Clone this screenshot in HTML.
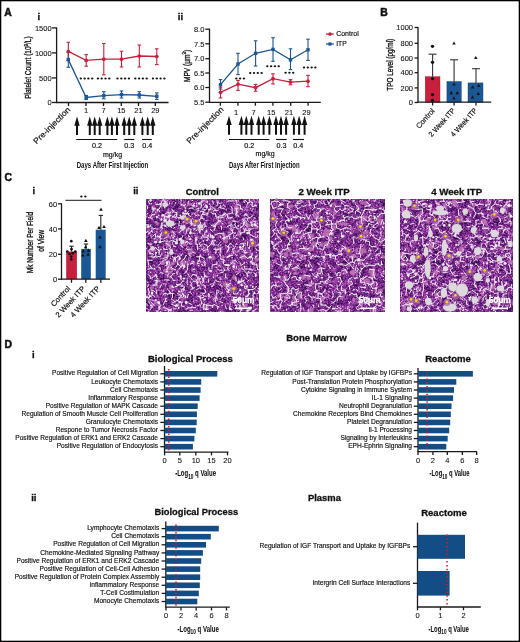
<!DOCTYPE html>
<html><head><meta charset="utf-8"><style>html,body{margin:0;padding:0;background:#fff;}svg{display:block;will-change:transform;}</style></head>
<body><svg width="520" height="642" viewBox="0 0 520 642" font-family='"Liberation Sans", sans-serif'>
<defs><filter id="soft" x="0" y="0" width="1" height="1"><feGaussianBlur stdDeviation="0.35"/></filter><filter id="hfa" x="0" y="0" width="1" height="1" color-interpolation-filters="sRGB">
<feTurbulence type="fractalNoise" baseFrequency="0.6" numOctaves="2" seed="3"/>
<feColorMatrix type="matrix" values="1 0 0 0 0  1 0 0 0 0  1 0 0 0 0  0 0 0 0 1" result="n"/>
<feTurbulence type="fractalNoise" baseFrequency="0.15" numOctaves="2" seed="5"/>
<feColorMatrix type="matrix" values="1 0 0 0 0  1 0 0 0 0  1 0 0 0 0  0 0 0 0 1" result="m"/>
<feComposite in="n" in2="m" operator="arithmetic" k1="0" k2="1.3" k3="0.8" k4="-0.55" result="s"/>
<feComponentTransfer in="s">
<feFuncR type="table" tableValues="0.157 0.212 0.275 0.345 0.416 0.494 0.573 0.651 0.745 0.839 0.941"/><feFuncG type="table" tableValues="0.024 0.039 0.063 0.094 0.133 0.180 0.235 0.314 0.439 0.635 0.886"/><feFuncB type="table" tableValues="0.251 0.314 0.376 0.439 0.502 0.565 0.620 0.682 0.761 0.871 0.957"/>
</feComponentTransfer>
</filter><filter id="hfb" x="0" y="0" width="1" height="1" color-interpolation-filters="sRGB">
<feTurbulence type="fractalNoise" baseFrequency="0.6" numOctaves="2" seed="7"/>
<feColorMatrix type="matrix" values="1 0 0 0 0  1 0 0 0 0  1 0 0 0 0  0 0 0 0 1" result="n"/>
<feTurbulence type="fractalNoise" baseFrequency="0.15" numOctaves="2" seed="9"/>
<feColorMatrix type="matrix" values="1 0 0 0 0  1 0 0 0 0  1 0 0 0 0  0 0 0 0 1" result="m"/>
<feComposite in="n" in2="m" operator="arithmetic" k1="0" k2="1.3" k3="0.8" k4="-0.55" result="s"/>
<feComponentTransfer in="s">
<feFuncR type="table" tableValues="0.157 0.212 0.275 0.345 0.416 0.494 0.573 0.651 0.745 0.839 0.941"/><feFuncG type="table" tableValues="0.024 0.039 0.063 0.094 0.133 0.180 0.235 0.314 0.439 0.635 0.886"/><feFuncB type="table" tableValues="0.251 0.314 0.376 0.439 0.502 0.565 0.620 0.682 0.761 0.871 0.957"/>
</feComponentTransfer>
</filter><filter id="hfc" x="0" y="0" width="1" height="1" color-interpolation-filters="sRGB">
<feTurbulence type="fractalNoise" baseFrequency="0.6" numOctaves="2" seed="11"/>
<feColorMatrix type="matrix" values="1 0 0 0 0  1 0 0 0 0  1 0 0 0 0  0 0 0 0 1" result="n"/>
<feTurbulence type="fractalNoise" baseFrequency="0.15" numOctaves="2" seed="13"/>
<feColorMatrix type="matrix" values="1 0 0 0 0  1 0 0 0 0  1 0 0 0 0  0 0 0 0 1" result="m"/>
<feComposite in="n" in2="m" operator="arithmetic" k1="0" k2="1.3" k3="0.8" k4="-0.55" result="s"/>
<feComponentTransfer in="s">
<feFuncR type="table" tableValues="0.157 0.212 0.275 0.345 0.416 0.494 0.573 0.651 0.745 0.839 0.941"/><feFuncG type="table" tableValues="0.024 0.039 0.063 0.094 0.133 0.180 0.235 0.314 0.439 0.635 0.886"/><feFuncB type="table" tableValues="0.251 0.314 0.376 0.439 0.502 0.565 0.620 0.682 0.761 0.871 0.957"/>
</feComponentTransfer>
</filter></defs>
<rect x="0" y="0" width="520" height="642" fill="#fff"/>
<text x="4.2" y="15.5" font-size="10.4" text-anchor="start" font-weight="bold" fill="#111" stroke="#111" stroke-width="0.5">A</text>
<text x="380.3" y="15.5" font-size="10.4" text-anchor="start" font-weight="bold" fill="#111" stroke="#111" stroke-width="0.5">B</text>
<text x="4.4" y="181.2" font-size="10.4" text-anchor="start" font-weight="bold" fill="#111" stroke="#111" stroke-width="0.5">C</text>
<text x="4.4" y="347.7" font-size="10.4" text-anchor="start" font-weight="bold" fill="#111" stroke="#111" stroke-width="0.5">D</text>
<text x="37.4" y="19.7" font-size="9.5" text-anchor="start" font-weight="bold" fill="#111" stroke="#111" stroke-width="0.3">i</text>
<line x1="56.6" y1="27.4" x2="56.6" y2="103.0" stroke="#1a1a1a" stroke-width="1.3"/>
<line x1="52" y1="27.9" x2="56.6" y2="27.9" stroke="#1a1a1a" stroke-width="1.3"/>
<text x="51.6" y="30.599999999999998" font-size="7.5" text-anchor="end" fill="#111" stroke="#111" stroke-width="0.08">1500</text>
<line x1="52" y1="52.9" x2="56.6" y2="52.9" stroke="#1a1a1a" stroke-width="1.3"/>
<text x="51.6" y="55.6" font-size="7.5" text-anchor="end" fill="#111" stroke="#111" stroke-width="0.08">1000</text>
<line x1="52" y1="77.9" x2="56.6" y2="77.9" stroke="#1a1a1a" stroke-width="1.3"/>
<text x="51.6" y="80.60000000000001" font-size="7.5" text-anchor="end" fill="#111" stroke="#111" stroke-width="0.08">500</text>
<line x1="52" y1="102.5" x2="56.6" y2="102.5" stroke="#1a1a1a" stroke-width="1.3"/>
<text x="51.6" y="105.2" font-size="7.5" text-anchor="end" fill="#111" stroke="#111" stroke-width="0.08">0</text>
<line x1="56.1" y1="102.5" x2="168.5" y2="102.5" stroke="#1a1a1a" stroke-width="1.3"/>
<line x1="68.5" y1="102.5" x2="68.5" y2="106" stroke="#1a1a1a" stroke-width="1.3"/>
<line x1="86" y1="102.5" x2="86" y2="106" stroke="#1a1a1a" stroke-width="1.3"/>
<line x1="103.5" y1="102.5" x2="103.5" y2="106" stroke="#1a1a1a" stroke-width="1.3"/>
<line x1="121.3" y1="102.5" x2="121.3" y2="106" stroke="#1a1a1a" stroke-width="1.3"/>
<line x1="138.5" y1="102.5" x2="138.5" y2="106" stroke="#1a1a1a" stroke-width="1.3"/>
<line x1="155.3" y1="102.5" x2="155.3" y2="106" stroke="#1a1a1a" stroke-width="1.3"/>
<text x="86" y="113.2" font-size="7.5" text-anchor="middle" fill="#111" stroke="#111" stroke-width="0.08">1</text>
<text x="103.5" y="113.2" font-size="7.5" text-anchor="middle" fill="#111" stroke="#111" stroke-width="0.08">7</text>
<text x="121.3" y="113.2" font-size="7.5" text-anchor="middle" fill="#111" stroke="#111" stroke-width="0.08">15</text>
<text x="138.5" y="113.2" font-size="7.5" text-anchor="middle" fill="#111" stroke="#111" stroke-width="0.08">21</text>
<text x="155.3" y="113.2" font-size="7.5" text-anchor="middle" fill="#111" stroke="#111" stroke-width="0.08">29</text>
<text x="71.0" y="110.2" font-size="8.2" text-anchor="end" fill="#111" stroke="#111" stroke-width="0.18" textLength="48.6" lengthAdjust="spacingAndGlyphs" transform="rotate(-45 71.0 110.2)">Pre-injection</text>
<text x="31.4" y="67.6" font-size="8.6" text-anchor="middle" fill="#111" stroke="#111" stroke-width="0.32" textLength="62.5" lengthAdjust="spacingAndGlyphs" transform="rotate(-90 31.4 67.6)">Platelet Count (10<tspan font-size="5.6" dy="-3.2">9</tspan><tspan dy="3.2">/L)</tspan></text>
<path d="M68.3 59.6 L86.2 97.5 L103.8 95.6 L121.5 94.6 L139.3 95 L156.8 96.3" fill="none" stroke="#1b5795" stroke-width="1.3"/>
<line x1="68.3" y1="52.5" x2="68.3" y2="67.3" stroke="#1b5795" stroke-width="1.1"/>
<line x1="66.5" y1="52.5" x2="70.1" y2="52.5" stroke="#1b5795" stroke-width="1.1"/>
<line x1="66.5" y1="67.3" x2="70.1" y2="67.3" stroke="#1b5795" stroke-width="1.1"/>
<line x1="86.2" y1="95.5" x2="86.2" y2="99.5" stroke="#1b5795" stroke-width="1.1"/>
<line x1="84.4" y1="95.5" x2="88.0" y2="95.5" stroke="#1b5795" stroke-width="1.1"/>
<line x1="84.4" y1="99.5" x2="88.0" y2="99.5" stroke="#1b5795" stroke-width="1.1"/>
<line x1="103.8" y1="91.7" x2="103.8" y2="98.8" stroke="#1b5795" stroke-width="1.1"/>
<line x1="102.0" y1="91.7" x2="105.6" y2="91.7" stroke="#1b5795" stroke-width="1.1"/>
<line x1="102.0" y1="98.8" x2="105.6" y2="98.8" stroke="#1b5795" stroke-width="1.1"/>
<line x1="121.5" y1="91" x2="121.5" y2="98" stroke="#1b5795" stroke-width="1.1"/>
<line x1="119.7" y1="91" x2="123.3" y2="91" stroke="#1b5795" stroke-width="1.1"/>
<line x1="119.7" y1="98" x2="123.3" y2="98" stroke="#1b5795" stroke-width="1.1"/>
<line x1="139.3" y1="91.7" x2="139.3" y2="98" stroke="#1b5795" stroke-width="1.1"/>
<line x1="137.5" y1="91.7" x2="141.10000000000002" y2="91.7" stroke="#1b5795" stroke-width="1.1"/>
<line x1="137.5" y1="98" x2="141.10000000000002" y2="98" stroke="#1b5795" stroke-width="1.1"/>
<line x1="156.8" y1="92.9" x2="156.8" y2="99.4" stroke="#1b5795" stroke-width="1.1"/>
<line x1="155.0" y1="92.9" x2="158.60000000000002" y2="92.9" stroke="#1b5795" stroke-width="1.1"/>
<line x1="155.0" y1="99.4" x2="158.60000000000002" y2="99.4" stroke="#1b5795" stroke-width="1.1"/>
<path d="M68.3 51.4 L86.2 60.4 L103.8 59.2 L121.5 59.2 L139.3 56 L156.8 56.5" fill="none" stroke="#c8203c" stroke-width="1.3"/>
<line x1="68.3" y1="42.3" x2="68.3" y2="60.5" stroke="#c8203c" stroke-width="1.1"/>
<line x1="66.5" y1="42.3" x2="70.1" y2="42.3" stroke="#c8203c" stroke-width="1.1"/>
<line x1="66.5" y1="60.5" x2="70.1" y2="60.5" stroke="#c8203c" stroke-width="1.1"/>
<line x1="86.2" y1="54.6" x2="86.2" y2="66.2" stroke="#c8203c" stroke-width="1.1"/>
<line x1="84.4" y1="54.6" x2="88.0" y2="54.6" stroke="#c8203c" stroke-width="1.1"/>
<line x1="84.4" y1="66.2" x2="88.0" y2="66.2" stroke="#c8203c" stroke-width="1.1"/>
<line x1="103.8" y1="43.5" x2="103.8" y2="74.8" stroke="#c8203c" stroke-width="1.1"/>
<line x1="102.0" y1="43.5" x2="105.6" y2="43.5" stroke="#c8203c" stroke-width="1.1"/>
<line x1="102.0" y1="74.8" x2="105.6" y2="74.8" stroke="#c8203c" stroke-width="1.1"/>
<line x1="121.5" y1="51.3" x2="121.5" y2="67" stroke="#c8203c" stroke-width="1.1"/>
<line x1="119.7" y1="51.3" x2="123.3" y2="51.3" stroke="#c8203c" stroke-width="1.1"/>
<line x1="119.7" y1="67" x2="123.3" y2="67" stroke="#c8203c" stroke-width="1.1"/>
<line x1="139.3" y1="45" x2="139.3" y2="67" stroke="#c8203c" stroke-width="1.1"/>
<line x1="137.5" y1="45" x2="141.10000000000002" y2="45" stroke="#c8203c" stroke-width="1.1"/>
<line x1="137.5" y1="67" x2="141.10000000000002" y2="67" stroke="#c8203c" stroke-width="1.1"/>
<line x1="156.8" y1="48.8" x2="156.8" y2="64.6" stroke="#c8203c" stroke-width="1.1"/>
<line x1="155.0" y1="48.8" x2="158.60000000000002" y2="48.8" stroke="#c8203c" stroke-width="1.1"/>
<line x1="155.0" y1="64.6" x2="158.60000000000002" y2="64.6" stroke="#c8203c" stroke-width="1.1"/>
<rect x="66.6" y="57.9" width="3.4" height="3.4" fill="#1b5795"/>
<rect x="84.5" y="95.8" width="3.4" height="3.4" fill="#1b5795"/>
<rect x="102.1" y="93.89999999999999" width="3.4" height="3.4" fill="#1b5795"/>
<rect x="119.8" y="92.89999999999999" width="3.4" height="3.4" fill="#1b5795"/>
<rect x="137.60000000000002" y="93.3" width="3.4" height="3.4" fill="#1b5795"/>
<rect x="155.10000000000002" y="94.6" width="3.4" height="3.4" fill="#1b5795"/>
<circle cx="68.3" cy="51.4" r="1.85" fill="#c8203c"/>
<circle cx="86.2" cy="60.4" r="1.85" fill="#c8203c"/>
<circle cx="103.8" cy="59.2" r="1.85" fill="#c8203c"/>
<circle cx="121.5" cy="59.2" r="1.85" fill="#c8203c"/>
<circle cx="139.3" cy="56" r="1.85" fill="#c8203c"/>
<circle cx="156.8" cy="56.5" r="1.85" fill="#c8203c"/>
<ellipse cx="80.80" cy="78.6" rx="1.2" ry="1.0" fill="#111"/>
<ellipse cx="84.60" cy="78.6" rx="1.2" ry="1.0" fill="#111"/>
<ellipse cx="88.40" cy="78.6" rx="1.2" ry="1.0" fill="#111"/>
<ellipse cx="92.20" cy="78.6" rx="1.2" ry="1.0" fill="#111"/>
<ellipse cx="97.90" cy="78.6" rx="1.2" ry="1.0" fill="#111"/>
<ellipse cx="101.70" cy="78.6" rx="1.2" ry="1.0" fill="#111"/>
<ellipse cx="105.50" cy="78.6" rx="1.2" ry="1.0" fill="#111"/>
<ellipse cx="109.30" cy="78.6" rx="1.2" ry="1.0" fill="#111"/>
<ellipse cx="117.50" cy="78.6" rx="1.2" ry="1.0" fill="#111"/>
<ellipse cx="121.30" cy="78.6" rx="1.2" ry="1.0" fill="#111"/>
<ellipse cx="125.10" cy="78.6" rx="1.2" ry="1.0" fill="#111"/>
<ellipse cx="128.90" cy="78.6" rx="1.2" ry="1.0" fill="#111"/>
<ellipse cx="135.30" cy="78.6" rx="1.2" ry="1.0" fill="#111"/>
<ellipse cx="139.10" cy="78.6" rx="1.2" ry="1.0" fill="#111"/>
<ellipse cx="142.90" cy="78.6" rx="1.2" ry="1.0" fill="#111"/>
<ellipse cx="146.70" cy="78.6" rx="1.2" ry="1.0" fill="#111"/>
<ellipse cx="153.00" cy="78.6" rx="1.2" ry="1.0" fill="#111"/>
<ellipse cx="156.80" cy="78.6" rx="1.2" ry="1.0" fill="#111"/>
<ellipse cx="160.60" cy="78.6" rx="1.2" ry="1.0" fill="#111"/>
<ellipse cx="164.40" cy="78.6" rx="1.2" ry="1.0" fill="#111"/>
<path d="M77 116.6L79.7 125.8L78 125.8L78 135L76 135L76 125.8L74.3 125.8Z" fill="#111"/>
<path d="M89.8 116.6L92.5 125.8L90.8 125.8L90.8 135L88.8 135L88.8 125.8L87.1 125.8Z" fill="#111"/>
<path d="M94.7 116.6L97.4 125.8L95.7 125.8L95.7 135L93.7 135L93.7 125.8L92.0 125.8Z" fill="#111"/>
<path d="M99.7 116.6L102.4 125.8L100.7 125.8L100.7 135L98.7 135L98.7 125.8L97.0 125.8Z" fill="#111"/>
<path d="M107.4 116.6L110.10000000000001 125.8L108.4 125.8L108.4 135L106.4 135L106.4 125.8L104.7 125.8Z" fill="#111"/>
<path d="M111.9 116.6L114.60000000000001 125.8L112.9 125.8L112.9 135L110.9 135L110.9 125.8L109.2 125.8Z" fill="#111"/>
<path d="M117 116.6L119.7 125.8L118 125.8L118 135L116 135L116 125.8L114.3 125.8Z" fill="#111"/>
<path d="M124.2 116.6L126.9 125.8L125.2 125.8L125.2 135L123.2 135L123.2 125.8L121.5 125.8Z" fill="#111"/>
<path d="M129.2 116.6L131.89999999999998 125.8L130.2 125.8L130.2 135L128.2 135L128.2 125.8L126.49999999999999 125.8Z" fill="#111"/>
<path d="M134.3 116.6L137.0 125.8L135.3 125.8L135.3 135L133.3 135L133.3 125.8L131.60000000000002 125.8Z" fill="#111"/>
<path d="M142.4 116.6L145.1 125.8L143.4 125.8L143.4 135L141.4 135L141.4 125.8L139.70000000000002 125.8Z" fill="#111"/>
<path d="M147.7 116.6L150.39999999999998 125.8L148.7 125.8L148.7 135L146.7 135L146.7 125.8L145.0 125.8Z" fill="#111"/>
<path d="M152.8 116.6L155.5 125.8L153.8 125.8L153.8 135L151.8 135L151.8 125.8L150.10000000000002 125.8Z" fill="#111"/>
<line x1="76.2" y1="139.5" x2="117.2" y2="139.5" stroke="#111" stroke-width="1.1"/>
<line x1="124.2" y1="139.5" x2="134.3" y2="139.5" stroke="#111" stroke-width="1.1"/>
<line x1="142" y1="139.5" x2="151.8" y2="139.5" stroke="#111" stroke-width="1.1"/>
<text x="97" y="147.9" font-size="7.2" text-anchor="middle" fill="#111" stroke="#111" stroke-width="0.18">0.2</text>
<text x="129.2" y="147.9" font-size="7.2" text-anchor="middle" fill="#111" stroke="#111" stroke-width="0.18">0.3</text>
<text x="147.2" y="147.9" font-size="7.2" text-anchor="middle" fill="#111" stroke="#111" stroke-width="0.18">0.4</text>
<text x="112.5" y="156.6" font-size="7" text-anchor="middle" fill="#111" stroke="#111" stroke-width="0.18">mg/kg</text>
<text x="76.7" y="168.2" font-size="8.6" text-anchor="start" font-weight="bold" fill="#111" stroke="#111" stroke-width="0" textLength="71.6" lengthAdjust="spacingAndGlyphs">Days After First Injection</text>
<text x="177.8" y="19.7" font-size="9.5" text-anchor="start" font-weight="bold" fill="#111" stroke="#111" stroke-width="0.3">ii</text>
<line x1="209.5" y1="28.7" x2="209.5" y2="102.9" stroke="#1a1a1a" stroke-width="1.3"/>
<line x1="205.3" y1="29.2" x2="209.5" y2="29.2" stroke="#1a1a1a" stroke-width="1.3"/>
<text x="204.4" y="31.9" font-size="7.5" text-anchor="end" fill="#111" stroke="#111" stroke-width="0.08">8.0</text>
<line x1="205.3" y1="43.8" x2="209.5" y2="43.8" stroke="#1a1a1a" stroke-width="1.3"/>
<text x="204.4" y="46.5" font-size="7.5" text-anchor="end" fill="#111" stroke="#111" stroke-width="0.08">7.5</text>
<line x1="205.3" y1="58.7" x2="209.5" y2="58.7" stroke="#1a1a1a" stroke-width="1.3"/>
<text x="204.4" y="61.400000000000006" font-size="7.5" text-anchor="end" fill="#111" stroke="#111" stroke-width="0.08">7.0</text>
<line x1="205.3" y1="73" x2="209.5" y2="73" stroke="#1a1a1a" stroke-width="1.3"/>
<text x="204.4" y="75.7" font-size="7.5" text-anchor="end" fill="#111" stroke="#111" stroke-width="0.08">6.5</text>
<line x1="205.3" y1="87.5" x2="209.5" y2="87.5" stroke="#1a1a1a" stroke-width="1.3"/>
<text x="204.4" y="90.2" font-size="7.5" text-anchor="end" fill="#111" stroke="#111" stroke-width="0.08">6.0</text>
<line x1="205.3" y1="102.2" x2="209.5" y2="102.2" stroke="#1a1a1a" stroke-width="1.3"/>
<text x="204.4" y="104.9" font-size="7.5" text-anchor="end" fill="#111" stroke="#111" stroke-width="0.08">5.5</text>
<line x1="209.0" y1="102.4" x2="320.8" y2="102.4" stroke="#1a1a1a" stroke-width="1.3"/>
<line x1="220.3" y1="102.4" x2="220.3" y2="105.7" stroke="#1a1a1a" stroke-width="1.3"/>
<line x1="237.9" y1="102.4" x2="237.9" y2="105.7" stroke="#1a1a1a" stroke-width="1.3"/>
<line x1="255.4" y1="102.4" x2="255.4" y2="105.7" stroke="#1a1a1a" stroke-width="1.3"/>
<line x1="272.9" y1="102.4" x2="272.9" y2="105.7" stroke="#1a1a1a" stroke-width="1.3"/>
<line x1="290.7" y1="102.4" x2="290.7" y2="105.7" stroke="#1a1a1a" stroke-width="1.3"/>
<line x1="308.1" y1="102.4" x2="308.1" y2="105.7" stroke="#1a1a1a" stroke-width="1.3"/>
<text x="236.20000000000002" y="114.5" font-size="7.5" text-anchor="middle" fill="#111" stroke="#111" stroke-width="0.08">1</text>
<text x="253.70000000000002" y="114.5" font-size="7.5" text-anchor="middle" fill="#111" stroke="#111" stroke-width="0.08">7</text>
<text x="271.2" y="114.5" font-size="7.5" text-anchor="middle" fill="#111" stroke="#111" stroke-width="0.08">15</text>
<text x="289.0" y="114.5" font-size="7.5" text-anchor="middle" fill="#111" stroke="#111" stroke-width="0.08">21</text>
<text x="306.40000000000003" y="114.5" font-size="7.5" text-anchor="middle" fill="#111" stroke="#111" stroke-width="0.08">29</text>
<text x="224.2" y="110.0" font-size="8.2" text-anchor="end" fill="#111" stroke="#111" stroke-width="0.18" textLength="48.6" lengthAdjust="spacingAndGlyphs" transform="rotate(-45 224.2 110.0)">Pre-injection</text>
<text x="189.8" y="66" font-size="8.6" text-anchor="middle" fill="#111" stroke="#111" stroke-width="0.32" textLength="32.2" lengthAdjust="spacingAndGlyphs" transform="rotate(-90 189.8 66)">MPV (μm<tspan font-size="5.6" dy="-3.4">3</tspan><tspan dy="3.4">)</tspan></text>
<path d="M220.5 84.7 L238 64 L255.6 53.3 L273 49.4 L290.5 59.8 L308 49.8" fill="none" stroke="#1b5795" stroke-width="1.3"/>
<line x1="220.5" y1="79.6" x2="220.5" y2="89" stroke="#1b5795" stroke-width="1.1"/>
<line x1="218.7" y1="79.6" x2="222.3" y2="79.6" stroke="#1b5795" stroke-width="1.1"/>
<line x1="218.7" y1="89" x2="222.3" y2="89" stroke="#1b5795" stroke-width="1.1"/>
<line x1="238" y1="53.3" x2="238" y2="74.6" stroke="#1b5795" stroke-width="1.1"/>
<line x1="236.2" y1="53.3" x2="239.8" y2="53.3" stroke="#1b5795" stroke-width="1.1"/>
<line x1="236.2" y1="74.6" x2="239.8" y2="74.6" stroke="#1b5795" stroke-width="1.1"/>
<line x1="255.6" y1="40.8" x2="255.6" y2="66" stroke="#1b5795" stroke-width="1.1"/>
<line x1="253.79999999999998" y1="40.8" x2="257.4" y2="40.8" stroke="#1b5795" stroke-width="1.1"/>
<line x1="253.79999999999998" y1="66" x2="257.4" y2="66" stroke="#1b5795" stroke-width="1.1"/>
<line x1="273" y1="37.7" x2="273" y2="61.3" stroke="#1b5795" stroke-width="1.1"/>
<line x1="271.2" y1="37.7" x2="274.8" y2="37.7" stroke="#1b5795" stroke-width="1.1"/>
<line x1="271.2" y1="61.3" x2="274.8" y2="61.3" stroke="#1b5795" stroke-width="1.1"/>
<line x1="290.5" y1="48.8" x2="290.5" y2="69.6" stroke="#1b5795" stroke-width="1.1"/>
<line x1="288.7" y1="48.8" x2="292.3" y2="48.8" stroke="#1b5795" stroke-width="1.1"/>
<line x1="288.7" y1="69.6" x2="292.3" y2="69.6" stroke="#1b5795" stroke-width="1.1"/>
<line x1="308" y1="39.2" x2="308" y2="60.4" stroke="#1b5795" stroke-width="1.1"/>
<line x1="306.2" y1="39.2" x2="309.8" y2="39.2" stroke="#1b5795" stroke-width="1.1"/>
<line x1="306.2" y1="60.4" x2="309.8" y2="60.4" stroke="#1b5795" stroke-width="1.1"/>
<path d="M220.5 92.3 L238 84.2 L255.6 87.7 L273 78.7 L290.5 82.1 L308 81.2" fill="none" stroke="#c8203c" stroke-width="1.3"/>
<line x1="220.5" y1="87.2" x2="220.5" y2="98" stroke="#c8203c" stroke-width="1.1"/>
<line x1="218.7" y1="87.2" x2="222.3" y2="87.2" stroke="#c8203c" stroke-width="1.1"/>
<line x1="218.7" y1="98" x2="222.3" y2="98" stroke="#c8203c" stroke-width="1.1"/>
<line x1="238" y1="80.4" x2="238" y2="90.4" stroke="#c8203c" stroke-width="1.1"/>
<line x1="236.2" y1="80.4" x2="239.8" y2="80.4" stroke="#c8203c" stroke-width="1.1"/>
<line x1="236.2" y1="90.4" x2="239.8" y2="90.4" stroke="#c8203c" stroke-width="1.1"/>
<line x1="255.6" y1="84.4" x2="255.6" y2="91.2" stroke="#c8203c" stroke-width="1.1"/>
<line x1="253.79999999999998" y1="84.4" x2="257.4" y2="84.4" stroke="#c8203c" stroke-width="1.1"/>
<line x1="253.79999999999998" y1="91.2" x2="257.4" y2="91.2" stroke="#c8203c" stroke-width="1.1"/>
<line x1="273" y1="73.8" x2="273" y2="84" stroke="#c8203c" stroke-width="1.1"/>
<line x1="271.2" y1="73.8" x2="274.8" y2="73.8" stroke="#c8203c" stroke-width="1.1"/>
<line x1="271.2" y1="84" x2="274.8" y2="84" stroke="#c8203c" stroke-width="1.1"/>
<line x1="290.5" y1="79.6" x2="290.5" y2="84.8" stroke="#c8203c" stroke-width="1.1"/>
<line x1="288.7" y1="79.6" x2="292.3" y2="79.6" stroke="#c8203c" stroke-width="1.1"/>
<line x1="288.7" y1="84.8" x2="292.3" y2="84.8" stroke="#c8203c" stroke-width="1.1"/>
<line x1="308" y1="75.4" x2="308" y2="86.7" stroke="#c8203c" stroke-width="1.1"/>
<line x1="306.2" y1="75.4" x2="309.8" y2="75.4" stroke="#c8203c" stroke-width="1.1"/>
<line x1="306.2" y1="86.7" x2="309.8" y2="86.7" stroke="#c8203c" stroke-width="1.1"/>
<rect x="218.8" y="83.0" width="3.4" height="3.4" fill="#1b5795"/>
<rect x="236.3" y="62.3" width="3.4" height="3.4" fill="#1b5795"/>
<rect x="253.9" y="51.599999999999994" width="3.4" height="3.4" fill="#1b5795"/>
<rect x="271.3" y="47.699999999999996" width="3.4" height="3.4" fill="#1b5795"/>
<rect x="288.8" y="58.099999999999994" width="3.4" height="3.4" fill="#1b5795"/>
<rect x="306.3" y="48.099999999999994" width="3.4" height="3.4" fill="#1b5795"/>
<circle cx="220.5" cy="92.3" r="1.85" fill="#c8203c"/>
<circle cx="238" cy="84.2" r="1.85" fill="#c8203c"/>
<circle cx="255.6" cy="87.7" r="1.85" fill="#c8203c"/>
<circle cx="273" cy="78.7" r="1.85" fill="#c8203c"/>
<circle cx="290.5" cy="82.1" r="1.85" fill="#c8203c"/>
<circle cx="308" cy="81.2" r="1.85" fill="#c8203c"/>
<ellipse cx="236.30" cy="78.4" rx="1.2" ry="1.0" fill="#111"/>
<ellipse cx="240.10" cy="78.4" rx="1.2" ry="1.0" fill="#111"/>
<ellipse cx="243.90" cy="78.4" rx="1.2" ry="1.0" fill="#111"/>
<ellipse cx="250.20" cy="73" rx="1.2" ry="1.0" fill="#111"/>
<ellipse cx="254.00" cy="73" rx="1.2" ry="1.0" fill="#111"/>
<ellipse cx="257.80" cy="73" rx="1.2" ry="1.0" fill="#111"/>
<ellipse cx="261.60" cy="73" rx="1.2" ry="1.0" fill="#111"/>
<ellipse cx="267.30" cy="66.3" rx="1.2" ry="1.0" fill="#111"/>
<ellipse cx="271.10" cy="66.3" rx="1.2" ry="1.0" fill="#111"/>
<ellipse cx="274.90" cy="66.3" rx="1.2" ry="1.0" fill="#111"/>
<ellipse cx="278.70" cy="66.3" rx="1.2" ry="1.0" fill="#111"/>
<ellipse cx="285.60" cy="72.8" rx="1.2" ry="1.0" fill="#111"/>
<ellipse cx="289.40" cy="72.8" rx="1.2" ry="1.0" fill="#111"/>
<ellipse cx="293.20" cy="72.8" rx="1.2" ry="1.0" fill="#111"/>
<ellipse cx="304.00" cy="67.6" rx="1.2" ry="1.0" fill="#111"/>
<ellipse cx="307.80" cy="67.6" rx="1.2" ry="1.0" fill="#111"/>
<ellipse cx="311.60" cy="67.6" rx="1.2" ry="1.0" fill="#111"/>
<ellipse cx="315.40" cy="67.6" rx="1.2" ry="1.0" fill="#111"/>
<path d="M229 115.8L231.7 125L230 125L230 134.8L228 134.8L228 125L226.3 125Z" fill="#111"/>
<path d="M241.4 115.8L244.1 125L242.4 125L242.4 134.8L240.4 134.8L240.4 125L238.70000000000002 125Z" fill="#111"/>
<path d="M246.3 115.8L249.0 125L247.3 125L247.3 134.8L245.3 134.8L245.3 125L243.60000000000002 125Z" fill="#111"/>
<path d="M251.5 115.8L254.2 125L252.5 125L252.5 134.8L250.5 134.8L250.5 125L248.8 125Z" fill="#111"/>
<path d="M258.7 115.8L261.4 125L259.7 125L259.7 134.8L257.7 134.8L257.7 125L256.0 125Z" fill="#111"/>
<path d="M263.6 115.8L266.3 125L264.6 125L264.6 134.8L262.6 134.8L262.6 125L260.90000000000003 125Z" fill="#111"/>
<path d="M269.4 115.8L272.09999999999997 125L270.4 125L270.4 134.8L268.4 134.8L268.4 125L266.7 125Z" fill="#111"/>
<path d="M276 115.8L278.7 125L277 125L277 134.8L275 134.8L275 125L273.3 125Z" fill="#111"/>
<path d="M281 115.8L283.7 125L282 125L282 134.8L280 134.8L280 125L278.3 125Z" fill="#111"/>
<path d="M286.1 115.8L288.8 125L287.1 125L287.1 134.8L285.1 134.8L285.1 125L283.40000000000003 125Z" fill="#111"/>
<path d="M293.9 115.8L296.59999999999997 125L294.9 125L294.9 134.8L292.9 134.8L292.9 125L291.2 125Z" fill="#111"/>
<path d="M299.1 115.8L301.8 125L300.1 125L300.1 134.8L298.1 134.8L298.1 125L296.40000000000003 125Z" fill="#111"/>
<path d="M304.6 115.8L307.3 125L305.6 125L305.6 134.8L303.6 134.8L303.6 125L301.90000000000003 125Z" fill="#111"/>
<line x1="229" y1="139.5" x2="269.4" y2="139.5" stroke="#111" stroke-width="1.1"/>
<line x1="276" y1="139.5" x2="286.7" y2="139.5" stroke="#111" stroke-width="1.1"/>
<line x1="293" y1="139.5" x2="304" y2="139.5" stroke="#111" stroke-width="1.1"/>
<text x="249.2" y="147.7" font-size="7.2" text-anchor="middle" fill="#111" stroke="#111" stroke-width="0.18">0.2</text>
<text x="281.5" y="147.7" font-size="7.2" text-anchor="middle" fill="#111" stroke="#111" stroke-width="0.18">0.3</text>
<text x="298.3" y="147.7" font-size="7.2" text-anchor="middle" fill="#111" stroke="#111" stroke-width="0.18">0.4</text>
<text x="265.1" y="156.1" font-size="7" text-anchor="middle" fill="#111" stroke="#111" stroke-width="0.18">mg/kg</text>
<text x="229" y="168.2" font-size="8.6" text-anchor="start" font-weight="bold" fill="#111" stroke="#111" stroke-width="0" textLength="70.7" lengthAdjust="spacingAndGlyphs">Days After First Injection</text>
<line x1="326" y1="34.1" x2="333.8" y2="34.1" stroke="#c8203c" stroke-width="1.3"/>
<circle cx="330" cy="34.1" r="1.8" fill="#c8203c"/>
<line x1="326" y1="44" x2="333.8" y2="44" stroke="#1b5795" stroke-width="1.3"/>
<rect x="328.4" y="42.4" width="3.2" height="3.2" fill="#1b5795"/>
<text x="336.2" y="36.0" font-size="7.4" text-anchor="start" fill="#111" stroke="#111" stroke-width="0.18" textLength="22.5" lengthAdjust="spacingAndGlyphs">Control</text>
<text x="336.2" y="45.9" font-size="7.4" text-anchor="start" fill="#111" stroke="#111" stroke-width="0.18" textLength="10.4" lengthAdjust="spacingAndGlyphs">ITP</text>
<line x1="418.0" y1="27" x2="418.0" y2="102.7" stroke="#1a1a1a" stroke-width="1.3"/>
<line x1="414.6" y1="27.5" x2="418.0" y2="27.5" stroke="#1a1a1a" stroke-width="1.3"/>
<text x="413.0" y="30.2" font-size="7.5" text-anchor="end" fill="#111" stroke="#111" stroke-width="0.08">1000</text>
<line x1="414.6" y1="43.3" x2="418.0" y2="43.3" stroke="#1a1a1a" stroke-width="1.3"/>
<text x="413.0" y="46.0" font-size="7.5" text-anchor="end" fill="#111" stroke="#111" stroke-width="0.08">800</text>
<line x1="414.6" y1="58" x2="418.0" y2="58" stroke="#1a1a1a" stroke-width="1.3"/>
<text x="413.0" y="60.7" font-size="7.5" text-anchor="end" fill="#111" stroke="#111" stroke-width="0.08">600</text>
<line x1="414.6" y1="72.7" x2="418.0" y2="72.7" stroke="#1a1a1a" stroke-width="1.3"/>
<text x="413.0" y="75.4" font-size="7.5" text-anchor="end" fill="#111" stroke="#111" stroke-width="0.08">400</text>
<line x1="414.6" y1="87.9" x2="418.0" y2="87.9" stroke="#1a1a1a" stroke-width="1.3"/>
<text x="413.0" y="90.60000000000001" font-size="7.5" text-anchor="end" fill="#111" stroke="#111" stroke-width="0.08">200</text>
<line x1="414.6" y1="102.5" x2="418.0" y2="102.5" stroke="#1a1a1a" stroke-width="1.3"/>
<text x="413.0" y="105.2" font-size="7.5" text-anchor="end" fill="#111" stroke="#111" stroke-width="0.08">0</text>
<text x="393.3" y="64.7" font-size="8.6" text-anchor="middle" fill="#111" stroke="#111" stroke-width="0.32" textLength="51.9" lengthAdjust="spacingAndGlyphs" transform="rotate(-90 393.3 64.7)">TPO Level (pg/ml)</text>
<rect x="425.2" y="76.7" width="14.8" height="25.5" fill="#c8203c" stroke="#a0182e" stroke-width="0.4"/>
<rect x="446.9" y="81.5" width="14.4" height="20.700000000000003" fill="#1b5795" stroke="#123f70" stroke-width="0.4"/>
<rect x="468" y="82.9" width="15" height="19.299999999999997" fill="#1b5795" stroke="#123f70" stroke-width="0.4"/>
<line x1="432.6" y1="54.2" x2="432.6" y2="76.7" stroke="#333" stroke-width="1.1"/>
<line x1="428.6" y1="54.2" x2="436.6" y2="54.2" stroke="#333" stroke-width="1.1"/>
<line x1="454.1" y1="59.8" x2="454.1" y2="81.5" stroke="#333" stroke-width="1.1"/>
<line x1="450.1" y1="59.8" x2="458.1" y2="59.8" stroke="#333" stroke-width="1.1"/>
<line x1="476" y1="68.7" x2="476" y2="82.9" stroke="#333" stroke-width="1.1"/>
<line x1="472" y1="68.7" x2="480" y2="68.7" stroke="#333" stroke-width="1.1"/>
<circle cx="432.5" cy="46.3" r="1.65" fill="#111"/>
<circle cx="432.5" cy="62.3" r="1.65" fill="#111"/>
<circle cx="432.5" cy="78.7" r="1.65" fill="#111"/>
<circle cx="432.5" cy="94.7" r="1.65" fill="#111"/>
<circle cx="432.5" cy="100.5" r="1.65" fill="#111"/>
<path d="M454.00 41.42L455.75 44.58L452.25 44.58Z" fill="#111"/>
<path d="M454.00 82.22L455.75 85.38L452.25 85.38Z" fill="#111"/>
<path d="M451.30 91.12L453.05 94.28L449.55 94.28Z" fill="#111"/>
<path d="M457.30 91.12L459.05 94.28L455.55 94.28Z" fill="#111"/>
<path d="M454.00 96.33L455.75 99.48L452.25 99.48Z" fill="#111"/>
<path d="M475.80 55.92L477.55 59.08L474.05 59.08Z" fill="#111"/>
<path d="M472.70 85.33L474.45 88.48L470.95 88.48Z" fill="#111"/>
<path d="M478.70 83.83L480.45 86.98L476.95 86.98Z" fill="#111"/>
<path d="M478.30 91.92L480.05 95.08L476.55 95.08Z" fill="#111"/>
<path d="M472.50 95.33L474.25 98.48L470.75 98.48Z" fill="#111"/>
<line x1="417.5" y1="102.2" x2="491.2" y2="102.2" stroke="#1a1a1a" stroke-width="1.3"/>
<line x1="432.6" y1="102.2" x2="432.6" y2="105.5" stroke="#1a1a1a" stroke-width="1.3"/>
<line x1="454.1" y1="102.2" x2="454.1" y2="105.5" stroke="#1a1a1a" stroke-width="1.3"/>
<line x1="476" y1="102.2" x2="476" y2="105.5" stroke="#1a1a1a" stroke-width="1.3"/>
<text x="435.2" y="111.2" font-size="7.4" text-anchor="end" fill="#111" stroke="#111" stroke-width="0.18" transform="rotate(-48 435.2 111.2)">Control</text>
<text x="455.6" y="110.8" font-size="7.4" text-anchor="end" fill="#111" stroke="#111" stroke-width="0.18" textLength="35.5" lengthAdjust="spacingAndGlyphs" transform="rotate(-48 455.6 110.8)">2 Week ITP</text>
<text x="477.6" y="110.8" font-size="7.4" text-anchor="end" fill="#111" stroke="#111" stroke-width="0.18" textLength="35.5" lengthAdjust="spacingAndGlyphs" transform="rotate(-48 477.6 110.8)">4 Week ITP</text>
<text x="32.6" y="193.9" font-size="9.5" text-anchor="start" font-weight="bold" fill="#111" stroke="#111" stroke-width="0.3">i</text>
<line x1="61.5" y1="203.3" x2="61.5" y2="279.7" stroke="#1a1a1a" stroke-width="1.3"/>
<line x1="58" y1="203.8" x2="61.5" y2="203.8" stroke="#1a1a1a" stroke-width="1.3"/>
<text x="57.2" y="206.5" font-size="7.5" text-anchor="end" fill="#111" stroke="#111" stroke-width="0.08">60</text>
<line x1="58" y1="228.9" x2="61.5" y2="228.9" stroke="#1a1a1a" stroke-width="1.3"/>
<text x="57.2" y="231.6" font-size="7.5" text-anchor="end" fill="#111" stroke="#111" stroke-width="0.08">40</text>
<line x1="58" y1="254.3" x2="61.5" y2="254.3" stroke="#1a1a1a" stroke-width="1.3"/>
<text x="57.2" y="257.0" font-size="7.5" text-anchor="end" fill="#111" stroke="#111" stroke-width="0.08">20</text>
<line x1="58" y1="279.2" x2="61.5" y2="279.2" stroke="#1a1a1a" stroke-width="1.3"/>
<text x="57.2" y="281.9" font-size="7.5" text-anchor="end" fill="#111" stroke="#111" stroke-width="0.08">0</text>
<text x="33.3" y="242.5" font-size="8.6" text-anchor="middle" fill="#111" stroke="#111" stroke-width="0.32" textLength="61.4" lengthAdjust="spacingAndGlyphs" transform="rotate(-90 33.3 242.5)">Mk Number Per Field</text>
<text x="44.5" y="240.8" font-size="8.6" text-anchor="middle" fill="#111" stroke="#111" stroke-width="0.32" textLength="21.8" lengthAdjust="spacingAndGlyphs" transform="rotate(-90 44.5 240.8)">of View</text>
<rect x="66.2" y="251.5" width="10.7" height="27.69999999999999" fill="#c8203c"/>
<rect x="81.2" y="248.9" width="9.6" height="30.299999999999983" fill="#1b5795"/>
<rect x="95.7" y="229.7" width="10" height="49.5" fill="#1b5795"/>
<line x1="71.5" y1="246.2" x2="71.5" y2="251.5" stroke="#222" stroke-width="1.1"/>
<line x1="69.3" y1="246.2" x2="73.7" y2="246.2" stroke="#222" stroke-width="1.1"/>
<line x1="86" y1="244" x2="86" y2="248.9" stroke="#222" stroke-width="1.1"/>
<line x1="83.8" y1="244" x2="88.2" y2="244" stroke="#222" stroke-width="1.1"/>
<line x1="100.8" y1="215.4" x2="100.8" y2="229.7" stroke="#222" stroke-width="1.1"/>
<line x1="98.6" y1="215.4" x2="103.0" y2="215.4" stroke="#222" stroke-width="1.1"/>
<circle cx="71.3" cy="241.2" r="1.35" fill="#111"/>
<circle cx="67.3" cy="251.6" r="1.35" fill="#111"/>
<circle cx="75.3" cy="251.6" r="1.35" fill="#111"/>
<circle cx="71.5" cy="249.2" r="1.35" fill="#111"/>
<circle cx="69.6" cy="254.0" r="1.35" fill="#111"/>
<circle cx="72.8" cy="253.2" r="1.35" fill="#111"/>
<circle cx="71.2" cy="256.6" r="1.35" fill="#111"/>
<circle cx="71.3" cy="259.4" r="1.35" fill="#111"/>
<path d="M85.90 238.68L87.70 241.92L84.10 241.92Z" fill="#111"/>
<path d="M85.60 244.98L87.40 248.22L83.80 248.22Z" fill="#111"/>
<path d="M83.20 249.28L85.00 252.52L81.40 252.52Z" fill="#111"/>
<path d="M88.50 248.58L90.30 251.82L86.70 251.82Z" fill="#111"/>
<path d="M82.80 253.28L84.60 256.52L81.00 256.52Z" fill="#111"/>
<path d="M88.10 252.58L89.90 255.82L86.30 255.82Z" fill="#111"/>
<path d="M101.00 207.58L102.80 210.82L99.20 210.82Z" fill="#111"/>
<path d="M99.00 225.78L100.80 229.02L97.20 229.02Z" fill="#111"/>
<path d="M104.00 224.88L105.80 228.12L102.20 228.12Z" fill="#111"/>
<path d="M100.00 235.38L101.80 238.62L98.20 238.62Z" fill="#111"/>
<path d="M100.00 244.98L101.80 248.22L98.20 248.22Z" fill="#111"/>
<line x1="65.4" y1="200.3" x2="101.5" y2="200.3" stroke="#1a1a1a" stroke-width="1"/>
<ellipse cx="81.40" cy="196.6" rx="1.2" ry="1.0" fill="#111"/>
<ellipse cx="85.40" cy="196.6" rx="1.2" ry="1.0" fill="#111"/>
<line x1="61.0" y1="279.2" x2="110" y2="279.2" stroke="#1a1a1a" stroke-width="1.3"/>
<line x1="71.5" y1="279.2" x2="71.5" y2="282.8" stroke="#1a1a1a" stroke-width="1.3"/>
<line x1="85.8" y1="279.2" x2="85.8" y2="282.8" stroke="#1a1a1a" stroke-width="1.3"/>
<line x1="100.8" y1="279.2" x2="100.8" y2="282.8" stroke="#1a1a1a" stroke-width="1.3"/>
<text x="70.8" y="289.0" font-size="7.6" text-anchor="end" fill="#111" stroke="#111" stroke-width="0.18" transform="rotate(-47 70.8 289.0)">Control</text>
<text x="85.6" y="289.0" font-size="7.6" text-anchor="end" fill="#111" stroke="#111" stroke-width="0.18" transform="rotate(-47 85.6 289.0)">2 Week ITP</text>
<text x="100.4" y="289.0" font-size="7.6" text-anchor="end" fill="#111" stroke="#111" stroke-width="0.18" transform="rotate(-47 100.4 289.0)">4 Week ITP</text>
<text x="133.2" y="193.9" font-size="9.5" text-anchor="start" font-weight="bold" fill="#111" stroke="#111" stroke-width="0.3">ii</text>
<text x="202.3" y="194.8" font-size="9.4" text-anchor="middle" font-weight="bold" fill="#111" stroke="#111" stroke-width="0.3" textLength="33.2" lengthAdjust="spacingAndGlyphs">Control</text>
<text x="324.1" y="194.8" font-size="9.4" text-anchor="middle" font-weight="bold" fill="#111" stroke="#111" stroke-width="0.3" textLength="51.2" lengthAdjust="spacingAndGlyphs">2 Week ITP</text>
<text x="456.7" y="194.8" font-size="9.4" text-anchor="middle" font-weight="bold" fill="#111" stroke="#111" stroke-width="0.3" textLength="51.1" lengthAdjust="spacingAndGlyphs">4 Week ITP</text>
<g filter="url(#soft)">
<rect x="146.2" y="199.1" width="112.5" height="112.3" filter="url(#hfa)"/>
<ellipse cx="256.7" cy="259.3" rx="2.2" ry="2.3" fill="#c476b8" opacity="0.8"/><ellipse cx="222.8" cy="257.4" rx="1.6" ry="2.3" fill="#c476b8" opacity="0.8"/><ellipse cx="245.4" cy="305.7" rx="2.2" ry="2.3" fill="#c476b8" opacity="0.8"/><ellipse cx="164.3" cy="200.4" rx="2.7" ry="1.8" fill="#c476b8" opacity="0.8"/><ellipse cx="157.2" cy="223.5" rx="1.8" ry="2.1" fill="#c476b8" opacity="0.8"/><ellipse cx="236.1" cy="206.2" rx="1.7" ry="2.2" fill="#c476b8" opacity="0.8"/><ellipse cx="182.9" cy="263.2" rx="2.9" ry="2.6" fill="#c476b8" opacity="0.8"/><ellipse cx="205.5" cy="200.5" rx="2.4" ry="1.4" fill="#c476b8" opacity="0.8"/><ellipse cx="172.8" cy="263.2" rx="2.2" ry="2.0" fill="#c476b8" opacity="0.8"/><ellipse cx="229.9" cy="222.7" rx="2.3" ry="1.7" fill="#c476b8" opacity="0.8"/><ellipse cx="197.9" cy="280.9" rx="2.0" ry="2.4" fill="#c476b8" opacity="0.8"/><ellipse cx="234.9" cy="251.3" rx="1.4" ry="1.8" fill="#c476b8" opacity="0.8"/><ellipse cx="215.9" cy="224.1" rx="2.4" ry="1.8" fill="#c476b8" opacity="0.8"/><ellipse cx="189.6" cy="204.6" rx="2.9" ry="1.5" fill="#c476b8" opacity="0.8"/><ellipse cx="248.8" cy="225.2" rx="2.0" ry="1.7" fill="#c476b8" opacity="0.8"/><ellipse cx="205.7" cy="307.3" rx="2.0" ry="1.5" fill="#c476b8" opacity="0.8"/><ellipse cx="187.5" cy="230.0" rx="2.0" ry="1.8" fill="#c476b8" opacity="0.8"/><ellipse cx="152.6" cy="250.0" rx="2.6" ry="2.1" fill="#c476b8" opacity="0.8"/><ellipse cx="159.6" cy="305.9" rx="1.5" ry="2.7" fill="#c476b8" opacity="0.8"/><ellipse cx="239.6" cy="270.2" rx="1.5" ry="2.8" fill="#c476b8" opacity="0.8"/><ellipse cx="198.5" cy="228.5" rx="2.0" ry="1.5" fill="#c476b8" opacity="0.8"/><ellipse cx="225.8" cy="284.5" rx="2.8" ry="2.5" fill="#c476b8" opacity="0.8"/><ellipse cx="162.7" cy="262.8" rx="2.0" ry="2.3" fill="#c476b8" opacity="0.8"/><ellipse cx="218.2" cy="222.9" rx="1.8" ry="1.7" fill="#c476b8" opacity="0.8"/><ellipse cx="188.4" cy="238.4" rx="2.9" ry="1.5" fill="#c476b8" opacity="0.8"/><ellipse cx="184.2" cy="241.9" rx="2.1" ry="1.8" fill="#c476b8" opacity="0.8"/><ellipse cx="190.8" cy="251.7" rx="3.0" ry="1.6" fill="#c476b8" opacity="0.8"/><ellipse cx="173.3" cy="232.1" rx="2.6" ry="1.4" fill="#c476b8" opacity="0.8"/><ellipse cx="168.2" cy="244.5" rx="2.9" ry="2.4" fill="#c476b8" opacity="0.8"/><ellipse cx="166.2" cy="256.0" rx="2.1" ry="1.6" fill="#c476b8" opacity="0.8"/><ellipse cx="162.6" cy="263.1" rx="2.4" ry="1.9" fill="#c476b8" opacity="0.8"/><ellipse cx="156.0" cy="302.1" rx="1.9" ry="1.5" fill="#c476b8" opacity="0.8"/><ellipse cx="225.5" cy="240.9" rx="2.7" ry="2.3" fill="#c476b8" opacity="0.8"/><ellipse cx="249.0" cy="309.2" rx="2.5" ry="2.0" fill="#c476b8" opacity="0.8"/><ellipse cx="234.0" cy="265.9" rx="1.4" ry="3.0" fill="#c476b8" opacity="0.8"/><ellipse cx="241.9" cy="307.7" rx="2.5" ry="2.2" fill="#c476b8" opacity="0.8"/><ellipse cx="153.1" cy="208.2" rx="2.0" ry="2.2" fill="#c476b8" opacity="0.8"/><ellipse cx="150.8" cy="243.9" rx="1.4" ry="2.0" fill="#c476b8" opacity="0.8"/><ellipse cx="170.9" cy="286.7" rx="2.3" ry="2.5" fill="#c476b8" opacity="0.8"/><ellipse cx="213.0" cy="257.9" rx="2.1" ry="2.2" fill="#c476b8" opacity="0.8"/><ellipse cx="169.7" cy="272.6" rx="1.8" ry="1.5" fill="#c476b8" opacity="0.8"/><ellipse cx="243.0" cy="256.5" rx="2.7" ry="2.7" fill="#c476b8" opacity="0.8"/><ellipse cx="236.9" cy="208.8" rx="2.9" ry="2.8" fill="#c476b8" opacity="0.8"/><ellipse cx="165.8" cy="218.2" rx="2.2" ry="2.5" fill="#c476b8" opacity="0.8"/><ellipse cx="184.5" cy="244.3" rx="1.9" ry="2.1" fill="#c476b8" opacity="0.8"/><ellipse cx="220.7" cy="248.7" rx="1.5" ry="2.2" fill="#c476b8" opacity="0.8"/><ellipse cx="255.9" cy="225.6" rx="1.6" ry="2.8" fill="#c476b8" opacity="0.8"/><ellipse cx="167.6" cy="236.2" rx="2.1" ry="1.6" fill="#c476b8" opacity="0.8"/><ellipse cx="168.3" cy="267.4" rx="2.3" ry="3.0" fill="#c476b8" opacity="0.8"/><ellipse cx="234.3" cy="277.4" rx="2.0" ry="2.6" fill="#c476b8" opacity="0.8"/><ellipse cx="244.5" cy="223.3" rx="2.0" ry="1.9" fill="#c476b8" opacity="0.8"/><ellipse cx="151.7" cy="288.1" rx="2.3" ry="1.8" fill="#c476b8" opacity="0.8"/><ellipse cx="154.4" cy="208.8" rx="1.4" ry="2.5" fill="#c476b8" opacity="0.8"/><ellipse cx="165.1" cy="270.3" rx="2.1" ry="1.8" fill="#c476b8" opacity="0.8"/><ellipse cx="239.3" cy="234.2" rx="2.5" ry="2.1" fill="#c476b8" opacity="0.8"/>
<path fill="none" stroke="#f2eef4" stroke-width="0.95" stroke-linecap="round" d="M258.7 292.5L258.4 290.9M257.6 236.1L256.3 237.4M257.4 299.1L257.3 298.0M258.7 292.5L258.5 293.1M240.9 309.9L241.6 309.6M236.3 308.2L236.8 309.0M236.3 308.2L236.8 305.1M238.5 304.5L240.6 305.9M185.9 309.2L185.8 309.1M175.4 305.7L177.0 304.4M216.8 296.3L215.2 301.0M215.2 301.0L216.0 302.2M252.9 311.0L253.0 311.5M252.9 311.0L256.5 308.9M255.8 287.0L256.8 286.4M256.3 252.3L256.4 252.6M252.0 253.8L252.6 253.0M242.3 249.3L240.6 249.0M242.3 249.3L244.0 245.4M244.0 245.4L243.4 243.7M243.4 243.7L240.7 243.8M240.7 243.8L239.8 244.6M247.5 241.7L247.4 246.0M256.3 237.4L252.6 236.3M257.3 232.0L258.4 232.0M229.5 309.2L231.7 309.4M229.5 309.2L229.8 306.0M235.1 301.2L231.4 300.2M224.3 297.6L224.5 297.2M252.6 303.1L253.1 304.3M258.7 304.8L257.0 305.3M247.8 296.3L245.5 296.7M249.0 294.0L247.8 296.3M249.0 294.0L248.5 291.9M246.8 312.4L248.1 309.6M243.2 304.8L244.6 306.1M236.9 299.1L236.9 298.9M235.1 301.2L236.9 299.1M163.4 248.6L164.1 249.2M145.4 224.7L148.4 224.8M199.3 256.8L199.8 260.8M199.3 256.8L196.7 256.7M197.2 262.2L199.8 260.8M195.3 269.8L192.9 269.6M185.9 272.8L187.7 268.8M220.5 293.9L222.4 292.6M221.8 297.6L219.8 299.8M216.4 295.3L216.9 293.9M237.6 293.6L237.3 293.8M237.3 293.8L234.1 294.0M233.5 293.3L234.1 294.0M228.4 292.8L228.5 289.7M234.0 289.9L233.5 293.3M234.0 289.9L231.1 288.1M228.5 289.7L231.1 288.1M228.5 289.7L226.7 288.2M195.8 307.8L191.9 307.0M191.3 307.8L191.9 307.0M188.3 307.8L191.3 307.8M191.8 304.4L188.5 303.0M185.9 309.2L188.3 307.8M149.9 204.3L148.3 201.0M255.2 258.1L257.0 255.8M249.2 269.1L249.3 269.0M249.3 269.0L252.0 270.0M247.6 273.0L251.2 272.9M247.0 273.7L243.4 269.6M244.5 268.9L249.2 269.1M248.5 291.9L249.0 289.8M249.0 289.8L248.7 289.5M245.0 288.4L248.7 289.5M247.0 273.7L247.0 273.8M247.0 273.8L247.9 275.8M241.8 268.0L243.0 269.7M255.4 293.4L254.0 293.4M254.0 293.4L252.9 295.1M252.9 295.1L253.4 297.2M258.5 293.1L257.0 293.8M252.8 289.5L255.4 288.1M252.8 289.5L251.8 289.4M249.0 289.8L251.8 289.4M252.9 276.0L253.0 276.0M245.4 200.5L247.8 203.0M249.0 198.7L250.1 201.7M250.1 201.7L247.8 203.0M239.8 249.4L240.6 249.0M236.6 243.5L235.8 244.8M245.6 228.0L244.3 231.0M240.3 227.5L243.0 225.9M231.4 228.7L232.0 229.2M234.8 224.3L236.7 228.3M243.9 223.4L243.0 225.9M250.6 234.8L252.3 235.4M209.4 204.4L210.7 205.2M212.6 200.6L213.5 204.1M220.3 245.6L221.1 244.5M224.0 238.0L224.1 239.2M218.6 233.6L218.5 233.5M214.8 234.9L218.5 233.5M214.5 237.3L210.9 237.2M215.9 240.3L212.0 241.5M210.6 234.3L210.6 237.0M210.9 237.2L210.6 237.0M206.3 237.1L208.3 238.2M257.0 250.4L255.4 248.0M258.4 244.3L256.1 246.1M244.5 255.8L240.0 257.7M243.3 250.0L244.5 252.2M247.0 252.6L246.7 252.7M246.7 252.7L245.1 252.9M160.7 235.9L160.8 234.4M160.8 234.4L161.8 232.5M160.2 236.5L160.3 241.7M160.2 236.5L155.5 237.0M164.8 240.7L160.5 242.2M160.3 242.8L160.5 242.2M160.2 236.5L160.7 235.9M160.5 242.2L160.3 241.7M168.0 253.6L167.9 256.7M168.0 253.6L167.6 252.2M167.9 256.7L167.3 257.4M167.8 249.7L164.1 249.2M160.1 256.8L161.6 253.6M162.9 258.6L166.7 257.4M173.4 257.9L172.5 256.3M155.0 221.8L156.0 222.0M150.0 225.5L151.1 224.8M192.8 288.0L190.7 289.8M192.8 288.0L190.8 285.2M184.4 286.8L184.4 287.5M187.9 273.7L189.3 276.5M193.0 274.3L190.7 277.3M195.9 275.1L193.0 274.3M192.2 270.3L192.9 269.6M198.3 265.5L199.4 265.9M216.9 264.3L216.9 262.1M216.9 264.3L212.8 264.7M204.6 259.0L200.3 256.1M167.0 264.9L167.7 262.2M167.0 264.9L164.9 265.6M160.1 256.8L158.0 256.4M158.0 256.4L156.5 257.9M167.4 275.6L166.9 274.0M166.7 269.7L168.4 266.6M171.3 267.1L171.4 267.5M171.8 240.5L169.1 241.4M166.0 241.2L168.0 241.0M197.4 244.7L196.0 244.2M197.4 244.7L197.5 249.2M205.0 262.3L204.7 265.3M205.0 262.3L204.0 260.8M199.3 256.8L200.3 256.1M201.1 248.6L203.6 250.7M197.5 249.2L197.6 249.2M199.5 244.2L201.6 246.2M174.9 258.9L175.7 261.4M174.9 258.9L178.1 256.0M178.1 256.0L179.3 256.5M195.3 253.3L193.1 252.4M180.9 255.9L182.4 253.5M180.5 245.2L183.2 247.5M181.3 289.8L181.3 291.9M181.3 289.8L182.8 289.0M184.4 287.5L182.8 289.0M177.5 261.9L177.8 263.9M177.8 263.9L176.3 266.7M187.3 268.1L188.0 264.4M187.9 264.3L188.0 264.4M182.5 265.3L182.3 265.7M187.7 268.8L187.3 268.1M194.1 261.6L192.2 261.0M187.9 264.3L188.0 263.4M181.1 261.5L184.2 258.8M184.2 258.8L184.3 258.8M182.5 265.3L182.1 263.3M180.9 266.5L177.8 263.9M180.9 266.5L182.3 265.7M171.4 267.5L172.2 268.5M184.7 273.1L184.3 273.6M172.1 303.1L177.0 300.5M171.6 298.4L172.5 297.5M181.2 305.9L184.7 306.9M181.9 302.4L182.9 301.8M177.7 300.8L180.0 297.2M182.5 297.3L180.8 296.9M180.0 297.2L180.8 296.9M181.2 305.9L181.9 302.4M175.4 305.7L171.8 304.5M177.0 300.5L177.7 300.8M207.9 309.8L206.8 309.0M206.8 309.0L206.8 305.2M212.4 307.5L212.3 305.8M207.0 305.2L206.8 305.2M207.0 305.2L212.3 305.8M214.6 304.6L212.3 305.8M203.8 304.2L203.9 304.2M203.9 304.2L203.7 309.7M200.5 305.2L199.9 304.9M199.9 304.9L196.8 306.0M203.9 304.2L206.8 305.2M237.6 293.6L238.5 291.8M226.3 308.8L225.5 306.2M219.8 301.4L223.0 302.8M195.9 275.1L196.1 275.5M190.9 278.0L192.5 280.1M209.2 296.1L208.5 296.5M212.1 291.9L211.8 292.4M209.2 296.1L209.1 294.2M219.1 281.8L215.5 280.7M214.3 281.9L214.3 281.9M220.1 277.0L220.2 279.7M214.3 281.9L213.4 285.4M216.7 293.5L216.9 290.0M152.6 218.9L150.0 217.7M152.4 214.4L150.0 217.7M152.4 214.4L154.9 214.4M251.9 262.0L252.5 258.1M244.7 256.1L247.7 258.4M249.9 257.3L247.7 258.4M252.0 253.8L251.4 257.1M251.4 257.1L252.5 258.1M252.0 270.0L253.2 269.9M252.0 262.2L252.6 264.2M253.8 264.8L256.6 264.7M256.6 264.7L256.7 264.7M235.9 277.2L236.3 280.9M227.0 286.6L226.7 288.2M225.6 273.8L225.6 277.3M223.6 271.9L221.1 272.7M225.5 277.3L225.6 277.3M235.1 260.5L233.0 261.1M237.4 262.6L235.1 260.5M232.3 262.0L232.1 262.8M236.3 268.4L236.7 266.2M232.1 262.8L230.8 264.3M233.5 269.3L233.2 269.1M244.7 288.2L244.5 286.1M240.4 290.2L240.5 289.8M242.8 281.0L240.8 281.3M242.8 281.0L245.6 284.5M236.0 287.6L234.8 289.5M247.6 281.3L248.9 280.3M247.9 275.8L247.7 276.5M242.8 281.0L244.1 280.1M243.3 202.0L245.4 200.5M240.4 209.0L240.8 208.8M240.8 208.8L240.1 205.4M236.6 204.1L239.8 205.2M236.6 209.3L235.0 208.4M247.8 203.0L246.8 205.5M252.4 202.6L252.1 205.9M240.8 208.8L242.8 209.3M231.1 224.9L231.2 224.9M227.3 226.5L231.1 224.9M228.6 218.2L231.6 217.6M231.2 225.0L231.2 224.9M221.5 229.3L221.4 226.0M214.4 230.2L215.6 226.1M243.0 237.5L243.6 239.7M235.8 236.9L233.7 238.1M234.6 248.2L232.8 249.0M232.8 249.0L233.3 253.2M239.1 250.8L237.0 252.2M236.4 255.7L235.3 254.0M227.8 251.0L228.8 248.6M240.4 234.4L240.7 233.5M239.0 228.8L237.6 228.9M235.0 233.2L235.6 232.8M244.6 231.9L244.3 231.0M244.6 231.9L240.7 233.5M232.0 229.2L232.8 232.8M232.8 232.8L235.0 233.2M249.7 234.1L249.1 231.2M250.6 234.8L249.7 234.1M251.2 229.3L249.6 230.3M249.6 230.3L249.1 231.2M256.1 221.6L255.7 221.9M257.4 226.2L255.2 225.2M236.8 216.4L235.6 214.0M235.6 214.0L236.8 213.3M236.6 209.3L236.8 213.3M228.4 201.0L233.5 200.9M232.0 209.6L232.4 212.9M227.7 217.2L228.6 218.2M203.6 250.7L207.5 249.4M208.4 251.4L207.5 249.4M207.5 249.4L207.6 249.2M215.7 249.5L214.0 249.1M220.6 248.8L220.0 254.5M220.6 248.8L216.1 250.0M216.1 250.0L216.0 253.0M220.6 248.8L220.6 248.8M216.6 244.8L216.1 245.3M218.6 233.6L223.8 233.2M224.1 237.7L223.8 233.2M203.7 237.1L203.7 237.0M205.4 232.2L203.7 235.8M206.3 237.1L203.7 237.1M199.5 244.2L200.2 242.5M195.9 240.3L196.0 244.2M202.1 229.4L199.4 229.1M225.4 245.1L227.8 246.6M227.8 246.6L228.6 248.4M226.4 252.2L227.8 251.0M228.8 248.6L228.6 248.4M155.4 228.2L153.5 228.9M157.0 229.0L157.1 229.3M152.4 232.2L151.7 230.9M151.7 230.9L151.7 230.9M150.0 225.5L153.5 228.9M155.5 237.0L155.6 233.9M148.5 233.7L151.7 230.9M167.2 227.1L165.0 226.4M162.6 228.2L160.4 226.9M156.2 221.9L156.0 222.0M164.6 216.1L163.9 221.4M164.8 215.9L168.3 217.5M166.7 221.8L164.2 222.0M166.7 221.8L168.4 226.0M159.1 251.1L155.6 247.6M158.2 244.9L157.4 245.1M151.2 237.5L151.6 237.7M148.2 243.5L148.0 242.9M190.8 285.2L192.0 282.6M215.9 276.4L215.5 276.1M212.1 267.2L212.3 265.0M221.1 272.7L221.0 272.6M229.2 270.4L227.6 268.7M227.6 268.7L228.6 264.8M220.6 267.2L219.7 265.1M220.2 254.6L220.7 256.4M206.8 245.2L207.5 247.3M207.5 247.3L211.4 244.0M211.3 242.2L211.4 244.0M204.0 244.2L206.8 245.2M207.4 248.2L207.5 247.3M212.5 231.4L210.3 229.3M213.7 225.0L211.5 225.3M196.7 230.4L195.9 230.4M199.4 229.1L198.8 225.3M215.9 216.7L215.4 213.6M215.4 213.6L212.9 213.9M212.9 213.9L210.9 212.4M151.0 278.4L156.1 275.4M156.7 277.2L156.1 275.4M156.0 274.1L156.1 275.4M156.5 293.4L156.3 289.9M156.5 293.4L156.1 294.0M146.9 282.0L148.0 282.4M149.5 292.3L148.6 294.3M151.6 296.9L149.8 296.4M148.6 294.3L149.8 296.4M149.1 297.4L145.8 297.6M149.8 296.4L149.1 297.4M149.5 292.3L148.3 290.1M160.3 272.2L163.0 273.3M160.0 268.7L160.1 267.7M163.1 273.5L163.0 273.3M151.4 267.9L147.9 269.5M151.4 267.9L150.0 265.4M151.7 268.1L151.4 267.9M188.5 235.0L189.1 236.4M176.2 242.0L172.6 241.0M172.2 238.0L174.8 236.2M167.7 236.2L168.6 235.5M195.0 233.3L192.8 233.0M195.0 229.5L192.9 228.5M190.5 231.8L191.1 229.2M191.6 221.7L190.9 224.0M173.9 253.4L173.9 253.4M190.0 257.6L191.2 256.3M172.5 297.5L172.5 293.9M173.5 293.3L172.5 293.9M167.4 289.2L169.1 290.6M172.5 293.9L170.2 293.1M170.2 293.1L169.1 290.6M164.5 279.9L168.7 280.0M168.7 280.0L168.8 280.1M173.5 280.4L170.9 276.5M169.7 277.0L170.9 276.5M180.9 266.5L179.0 269.0M172.2 268.5L175.8 269.8M180.5 284.2L176.7 284.5M183.9 281.1L182.6 281.0M180.5 284.2L182.6 281.0M180.9 276.7L181.2 279.8M180.9 276.7L181.0 276.5M176.5 284.3L176.7 284.5M187.4 297.7L188.3 294.6M188.1 294.2L188.3 294.6M214.6 304.6L218.1 306.8M218.9 306.5L218.1 306.8M196.1 275.5L198.1 278.0M204.0 282.2L203.0 280.2M203.0 280.2L204.2 276.9M208.7 278.7L208.6 281.8M206.8 276.6L204.8 276.7M208.3 282.0L208.6 281.8M204.8 276.7L204.2 276.9M208.6 281.8L208.6 281.8M204.0 271.9L204.8 276.7M192.8 288.0L194.6 287.7M205.7 291.9L204.4 293.5M147.7 208.0L147.2 208.9M147.5 206.5L147.7 208.0M148.9 217.9L148.4 217.5M191.1 229.2L188.1 228.3M168.4 226.0L170.0 225.7M170.0 225.7L171.5 227.6M173.2 216.3L172.4 216.6M168.6 220.4L171.0 221.6M196.6 220.3L195.5 221.8M244.2 262.2L244.4 263.1M241.4 265.4L244.4 263.1M257.6 269.3L259.3 270.1M256.7 264.7L257.6 269.3M227.0 286.6L229.1 283.8M259.7 217.8L258.6 217.2M232.4 220.9L235.3 221.6M232.7 217.0L231.6 217.6M242.9 221.0L243.9 223.4M234.8 224.3L235.4 223.4M230.1 243.5L231.1 243.4M227.8 246.6L230.1 243.5M229.5 238.0L229.0 235.9M231.0 234.1L229.4 234.3M229.1 239.2L229.5 238.0M232.8 232.8L231.0 234.1M224.1 237.7L229.0 235.9M251.5 225.9L251.2 221.9M255.7 221.9L252.7 221.1M244.1 215.5L245.6 213.6M251.5 210.8L253.3 209.3M251.9 214.6L252.4 215.3M252.1 205.9L252.6 206.5M231.6 207.2L230.6 206.0M232.4 209.0L231.6 207.2M224.9 213.4L227.2 214.8M232.4 212.9L227.9 214.1M227.7 217.2L227.2 214.8M222.7 215.8L224.9 213.4M217.0 217.4L220.3 215.6M218.5 221.1L220.6 221.2M220.6 221.2L221.1 220.8M215.9 216.7L217.0 217.4M222.7 215.8L220.7 216.0M215.1 225.5L218.5 221.1M217.2 202.4L220.1 203.6M216.0 253.0L215.7 253.2M152.2 260.4L148.0 260.1M148.7 251.3L149.9 253.5M148.6 264.8L147.9 260.2M152.5 253.8L153.5 254.4M155.6 247.6L153.9 248.7M149.9 253.5L152.5 253.8M148.5 243.8L151.2 244.5M149.7 249.4L151.8 248.6M148.2 243.5L148.5 243.8M227.5 264.2L224.6 264.5M230.4 256.2L227.4 256.6M194.1 209.3L192.1 207.9M196.3 209.1L199.2 208.3M196.0 215.7L193.6 212.9M201.3 201.5L204.0 200.8M202.1 229.4L203.5 228.9M211.5 225.3L211.1 225.1M203.8 228.0L205.1 226.2M205.1 226.2L206.2 226.4M192.0 205.4L191.5 204.9M189.0 208.5L192.1 207.9M190.8 216.5L188.9 215.4M188.9 215.4L188.2 214.0M188.7 213.4L188.2 214.0M156.6 280.7L156.0 283.4M156.6 280.7L160.0 281.1M161.3 284.8L160.1 287.0M160.0 287.9L160.1 287.0M154.2 285.2L156.0 283.4M165.5 285.2L166.2 284.3M148.8 284.4L147.4 287.0M154.2 285.2L152.3 285.1M148.3 290.1L148.5 288.6M195.7 239.5L196.0 237.2M189.1 236.4L189.1 236.5M198.2 237.1L196.0 237.2M195.9 240.3L195.7 239.5M186.4 248.8L186.3 248.9M191.8 244.0L190.0 244.0M190.0 244.0L187.3 241.5M186.4 248.8L187.9 249.4M192.0 249.0L187.9 249.4M189.1 236.5L188.7 236.9M185.2 242.6L187.3 241.5M183.0 240.9L183.2 241.4M183.0 235.8L181.0 239.1M181.0 239.1L180.3 239.0M183.0 240.9L181.0 239.1M175.8 246.6L173.5 246.1M169.8 248.9L171.8 250.0M173.3 252.8L171.8 250.0M169.0 248.7L169.8 248.9M186.1 255.5L186.4 255.5M184.3 258.8L186.1 255.5M174.8 273.5L172.8 274.0M170.9 276.5L172.6 274.4M173.5 280.4L175.3 280.4M218.1 306.8L217.3 309.0M199.2 296.0L200.4 298.2M203.7 297.3L200.4 298.2M204.4 293.5L200.9 292.9M195.5 301.0L195.7 300.7M196.4 289.8L199.9 287.9M199.9 287.9L201.1 288.9M205.7 291.9L204.6 289.2M202.9 284.3L205.0 286.1M205.0 286.1L205.5 287.6M197.2 285.0L200.0 286.0M198.1 278.0L196.0 281.0M193.1 281.4L195.2 281.3M169.6 213.2L168.0 212.0M164.9 214.3L168.0 212.0M182.5 229.9L183.8 228.1M187.1 228.9L186.2 233.3M179.6 233.0L179.5 232.8M181.3 230.3L179.5 232.8M174.4 224.4L175.9 223.7M173.6 228.3L174.8 227.3M179.5 221.5L178.8 224.4M182.8 222.2L184.9 220.5M229.1 283.8L230.6 283.7M238.8 273.0L236.3 274.6M225.6 277.3L227.3 278.2M252.6 206.5L256.2 205.8M243.5 220.6L245.5 217.7M252.4 216.2L248.8 218.1M220.1 207.6L220.4 205.5M224.6 209.0L220.1 207.6M168.3 311.9L168.9 310.0M168.9 310.0L168.8 309.6M156.2 300.5L156.1 299.5M151.9 307.4L150.2 309.7M152.2 305.9L151.9 307.2M146.7 303.7L147.3 305.2M224.0 260.3L223.4 263.9M224.0 260.3L221.0 259.1M220.3 257.6L221.0 259.1M201.4 205.4L200.7 208.2M202.7 208.9L206.2 205.0M206.2 205.0L205.9 204.8M200.9 202.0L201.4 205.4M188.5 201.4L188.0 203.7M181.3 201.3L180.7 198.5M185.3 208.0L185.6 208.4M182.5 213.1L183.8 213.5M184.6 205.2L185.3 208.0M184.6 205.2L185.2 204.6M188.2 214.0L184.5 213.2M163.1 294.5L165.3 293.3M165.3 293.3L167.8 294.3M170.2 293.1L167.8 294.3M172.4 213.1L173.3 211.7M173.2 210.8L171.9 209.4M168.0 209.2L168.0 209.1M184.6 205.2L181.3 204.6M180.7 202.9L181.3 204.6M169.1 204.2L169.6 203.3M176.0 202.2L175.0 204.0M157.4 199.0L158.0 198.5M165.0 202.3L163.2 199.3M225.3 206.7L223.1 204.8M228.4 201.0L227.9 201.6M163.9 307.6L168.8 309.6M166.9 301.2L166.4 301.5M165.3 298.1L165.8 301.2M166.4 301.5L165.8 301.2M163.9 307.6L164.1 306.5M205.1 226.2L204.8 222.6M200.0 224.5L200.7 222.8M196.6 220.3L198.9 220.3M198.9 220.3L200.7 222.8M208.0 212.7L207.9 213.3M176.7 212.7L176.4 216.9M173.3 211.7L176.7 212.7M175.7 199.9L175.7 200.0M160.0 203.6L160.0 203.6M163.2 305.0L164.5 301.8M159.7 304.3L159.1 301.9M165.8 301.2L164.5 301.8M160.1 308.8L158.8 306.3M157.2 311.3L160.0 308.9M155.8 310.9L157.2 311.3M198.9 220.3L201.1 218.1M204.3 219.1L201.1 218.1M207.9 213.3L204.1 214.7M204.4 210.0L202.7 214.1M202.7 214.1L204.1 214.7M152.4 209.0L155.6 208.8M165.1 203.9L163.9 205.5M160.0 203.6L161.3 205.0M163.9 205.5L164.9 208.3M200.8 217.1L202.2 214.2M202.7 214.1L202.2 214.2M196.0 215.7L197.3 214.9M159.8 211.9L158.2 209.5M158.2 209.5L159.3 208.7M161.3 205.0L159.3 208.7"/>
<path d="M190.7 220.7L192.2 223.7L191.4 225.5M156.8 204.6L159.3 204.7L160.9 204.0M256.9 272.5L255.7 273.7L254.3 273.1M169.0 218.0L169.4 219.5L169.7 221.4M230.6 226.9L233.3 227.1L235.3 227.7M200.8 300.3L201.6 302.0L201.2 303.0M190.0 222.2L186.9 223.3L186.0 223.0M177.8 237.7L176.3 238.8L176.0 239.8M218.8 290.7L218.9 292.0L217.5 293.4M222.0 270.1L219.4 270.3L217.5 269.2M166.7 237.6L165.1 238.0L163.5 238.9M235.9 212.2L237.4 215.2L238.6 216.6M195.7 228.3L194.4 228.3L193.9 230.0M177.6 217.4L180.6 217.7L181.7 218.8M202.3 228.9L200.6 230.4L199.9 231.8M242.3 219.2L244.9 221.0L244.6 222.9M214.0 236.3L213.2 237.8L212.7 238.6M218.1 201.3L217.3 204.6L216.6 205.9M220.8 241.9L218.9 243.6L217.8 245.4M150.3 295.1L149.7 297.3L148.2 299.0M188.3 211.5L187.0 213.0L186.6 214.2M208.9 268.1L208.9 270.4L209.8 271.0M254.9 262.7L253.6 264.2L252.2 264.2M161.9 222.6L161.1 225.3L161.3 226.2M182.2 212.9L184.9 214.1L185.1 215.3M192.2 218.6L191.1 220.9L190.3 221.9M218.1 210.5L214.7 210.6L213.2 210.9M165.7 243.1L168.6 244.8L170.0 246.4M201.0 276.1L203.0 279.0L203.1 280.9M149.0 299.8L151.4 300.1L153.0 300.1M155.8 253.6L155.6 255.7L156.4 256.8M200.3 211.6L202.2 211.6L204.4 212.5M160.4 263.6L159.2 264.7L157.9 265.5M171.5 299.2L173.8 300.5L174.8 302.0M183.9 225.5L183.6 228.7L183.7 229.9M157.6 235.3L158.5 237.0L160.3 238.0M238.7 230.9L239.5 232.2L241.3 232.3M226.5 257.3L228.4 257.5L229.2 256.5M241.4 279.4L241.1 281.5L240.6 282.6M177.1 214.1L175.1 214.2L174.0 216.4M225.8 238.1L224.2 238.3L223.8 239.1M233.1 299.6L234.3 300.2L234.8 301.8M202.4 294.5L204.2 296.2L206.3 296.2M250.6 308.9L248.4 311.1L246.4 310.9M183.2 289.0L183.2 290.8L183.1 291.8M172.4 230.8L173.6 233.1L175.3 234.3M177.3 293.4L179.7 294.5L181.7 295.6M147.9 274.6L150.2 276.1L150.4 278.4M172.4 216.8L175.5 217.5L176.4 218.6M193.3 223.4L192.2 224.1L190.6 223.8M231.3 244.0L232.3 245.1L233.8 246.4M212.4 239.9L213.4 242.9L212.9 244.1M244.0 242.8L243.5 245.6L241.8 247.0M220.3 284.4L220.8 285.6L222.4 286.2M199.1 277.8L199.0 279.3L199.4 280.2M151.2 290.0L153.7 290.8L155.0 292.0M157.2 281.6L156.8 284.7L154.7 285.3M247.6 214.9L246.1 215.1L244.3 215.0M216.9 297.6L214.4 297.9L213.5 299.9M156.0 256.1L153.0 257.1L150.8 256.6M192.3 252.9L191.4 253.7L188.9 253.9M161.3 249.5L160.0 249.6L159.2 250.5M178.5 284.2L176.4 286.4L175.3 286.5M185.6 217.4L187.9 218.2L189.4 219.4M253.0 223.6L252.2 225.8L252.6 226.5M187.3 280.7L187.0 283.8L187.6 284.7M185.4 215.3L184.3 217.2L185.0 218.5M162.7 223.4L161.3 225.7L160.9 227.8M202.6 235.4L201.9 237.0L201.0 238.6M188.7 292.2L190.5 292.3L191.7 294.0M180.2 284.5L177.6 285.8L176.0 286.8M152.0 294.3L153.6 295.7L155.1 296.9M239.4 305.7L240.0 308.1L238.9 310.1M232.6 255.3L229.5 255.5L228.9 256.4M167.3 258.6L164.3 260.0L162.6 261.2M148.9 301.0L149.1 303.1L150.4 304.0M177.6 270.6L176.5 272.2L177.2 274.1M169.1 261.2L169.5 263.7L170.3 265.2M246.0 214.2L247.5 216.4L249.3 217.8M244.8 224.9L247.0 226.2L247.8 227.2M202.7 209.7L206.0 209.8L207.0 208.3M212.2 207.8L214.5 208.3L215.4 210.3M254.1 262.8L251.1 263.2L250.5 262.1M249.6 293.1L248.8 294.7L246.8 295.8M207.5 214.1L207.0 215.3L207.6 216.0M238.2 281.7L239.8 282.2L241.0 281.4M159.3 250.9L159.2 253.9L159.1 254.9M234.2 220.6L236.7 221.7L238.0 222.0M248.5 228.9L251.8 229.0L253.3 228.4M174.1 239.9L172.5 242.7L172.2 244.6M151.2 302.2L152.6 304.0L154.3 305.7M218.5 217.7L218.1 219.5L218.6 221.0M204.4 303.8L203.1 306.9L203.0 308.0M154.8 234.1L152.5 236.4L150.4 235.8M247.8 218.0L247.4 219.9L248.2 221.4M223.4 217.3L220.6 217.7L218.7 217.7M162.1 200.4L161.3 203.0L160.3 204.5M173.7 258.7L173.4 260.9L174.2 261.8M194.2 262.7L191.1 263.8L190.2 263.9M167.4 205.8L165.3 207.0L164.2 206.7M164.8 200.8L165.8 201.7L165.5 202.6M196.9 295.9L200.0 296.9L200.5 299.2M148.3 231.2L146.2 232.1L146.7 232.7M152.4 206.9L153.6 210.2L152.5 212.2M202.3 244.3L200.2 245.6L199.7 246.4M245.9 220.5L246.9 222.9L246.9 224.6M161.1 305.5L159.8 306.4L158.6 307.9M245.0 229.7L246.9 230.6L249.0 230.2M239.2 261.7L240.4 262.7L240.9 264.6M178.8 225.4L180.6 225.6L181.9 225.9" fill="none" stroke="#f2eff4" stroke-width="0.9" stroke-linecap="round" stroke-linejoin="round"/>
<ellipse cx="251.5" cy="239.7" rx="1.5" ry="1.3" fill="#eeeaf0" opacity="1.0"/><ellipse cx="179.7" cy="301.9" rx="1.6" ry="1.0" fill="#eeeaf0" opacity="1.0"/><ellipse cx="254.7" cy="224.9" rx="1.5" ry="1.3" fill="#eeeaf0" opacity="1.0"/><ellipse cx="199.3" cy="203.5" rx="1.6" ry="1.2" fill="#eeeaf0" opacity="1.0"/><ellipse cx="190.3" cy="239.2" rx="1.3" ry="1.0" fill="#eeeaf0" opacity="1.0"/><ellipse cx="203.3" cy="241.0" rx="0.7" ry="0.9" fill="#eeeaf0" opacity="1.0"/><ellipse cx="240.1" cy="290.3" rx="1.3" ry="1.1" fill="#eeeaf0" opacity="1.0"/><ellipse cx="254.4" cy="292.8" rx="0.9" ry="1.2" fill="#eeeaf0" opacity="1.0"/><ellipse cx="252.8" cy="286.8" rx="1.0" ry="1.1" fill="#eeeaf0" opacity="1.0"/><ellipse cx="204.4" cy="299.6" rx="1.4" ry="1.0" fill="#eeeaf0" opacity="1.0"/><ellipse cx="198.3" cy="210.3" rx="1.1" ry="0.9" fill="#eeeaf0" opacity="1.0"/><ellipse cx="157.5" cy="210.2" rx="0.8" ry="1.4" fill="#eeeaf0" opacity="1.0"/><ellipse cx="167.0" cy="262.8" rx="1.3" ry="1.7" fill="#eeeaf0" opacity="1.0"/><ellipse cx="197.8" cy="285.5" rx="0.6" ry="1.3" fill="#eeeaf0" opacity="1.0"/><ellipse cx="255.5" cy="205.3" rx="1.6" ry="0.8" fill="#eeeaf0" opacity="1.0"/><ellipse cx="221.8" cy="202.9" rx="0.7" ry="0.7" fill="#eeeaf0" opacity="1.0"/><ellipse cx="246.8" cy="286.5" rx="1.3" ry="1.3" fill="#eeeaf0" opacity="1.0"/><ellipse cx="179.7" cy="258.4" rx="1.1" ry="1.6" fill="#eeeaf0" opacity="1.0"/><ellipse cx="197.4" cy="282.5" rx="1.0" ry="1.6" fill="#eeeaf0" opacity="1.0"/><ellipse cx="241.4" cy="309.5" rx="0.8" ry="1.6" fill="#eeeaf0" opacity="1.0"/><ellipse cx="199.9" cy="256.3" rx="1.2" ry="0.7" fill="#eeeaf0" opacity="1.0"/><ellipse cx="244.6" cy="266.8" rx="0.7" ry="1.4" fill="#eeeaf0" opacity="1.0"/><ellipse cx="159.7" cy="242.2" rx="1.3" ry="1.1" fill="#eeeaf0" opacity="1.0"/><ellipse cx="154.4" cy="268.7" rx="1.0" ry="1.0" fill="#eeeaf0" opacity="1.0"/><ellipse cx="165.2" cy="220.4" rx="1.7" ry="1.3" fill="#eeeaf0" opacity="1.0"/><ellipse cx="212.1" cy="286.2" rx="1.0" ry="0.8" fill="#eeeaf0" opacity="1.0"/><ellipse cx="214.3" cy="244.8" rx="1.0" ry="0.7" fill="#eeeaf0" opacity="1.0"/><ellipse cx="193.7" cy="205.8" rx="1.6" ry="1.0" fill="#eeeaf0" opacity="1.0"/><ellipse cx="226.2" cy="265.0" rx="1.1" ry="1.0" fill="#eeeaf0" opacity="1.0"/><ellipse cx="150.7" cy="272.3" rx="0.7" ry="0.9" fill="#eeeaf0" opacity="1.0"/><ellipse cx="253.2" cy="241.6" rx="1.0" ry="1.4" fill="#eeeaf0" opacity="1.0"/><ellipse cx="177.0" cy="240.7" rx="0.9" ry="1.4" fill="#eeeaf0" opacity="1.0"/><ellipse cx="155.7" cy="242.1" rx="1.7" ry="1.3" fill="#eeeaf0" opacity="1.0"/><ellipse cx="199.7" cy="232.0" rx="0.6" ry="1.6" fill="#eeeaf0" opacity="1.0"/><ellipse cx="248.9" cy="308.0" rx="1.1" ry="1.3" fill="#eeeaf0" opacity="1.0"/><ellipse cx="179.1" cy="291.5" rx="1.2" ry="0.9" fill="#eeeaf0" opacity="1.0"/><ellipse cx="179.8" cy="239.4" rx="1.3" ry="1.4" fill="#eeeaf0" opacity="1.0"/><ellipse cx="158.7" cy="302.6" rx="1.4" ry="1.5" fill="#eeeaf0" opacity="1.0"/><ellipse cx="169.0" cy="215.9" rx="1.4" ry="1.6" fill="#eeeaf0" opacity="1.0"/><ellipse cx="185.5" cy="211.1" rx="1.0" ry="1.5" fill="#eeeaf0" opacity="1.0"/><ellipse cx="238.2" cy="225.9" rx="0.8" ry="1.1" fill="#eeeaf0" opacity="1.0"/><ellipse cx="182.6" cy="293.9" rx="1.1" ry="0.8" fill="#eeeaf0" opacity="1.0"/><ellipse cx="194.8" cy="224.7" rx="1.4" ry="1.7" fill="#eeeaf0" opacity="1.0"/><ellipse cx="214.4" cy="226.3" rx="1.5" ry="1.0" fill="#eeeaf0" opacity="1.0"/><ellipse cx="156.9" cy="217.1" rx="1.0" ry="1.5" fill="#eeeaf0" opacity="1.0"/><ellipse cx="172.2" cy="286.4" rx="0.7" ry="1.5" fill="#eeeaf0" opacity="1.0"/><ellipse cx="226.2" cy="209.8" rx="0.6" ry="0.9" fill="#eeeaf0" opacity="1.0"/><ellipse cx="167.0" cy="271.5" rx="1.1" ry="1.2" fill="#eeeaf0" opacity="1.0"/><ellipse cx="178.7" cy="308.0" rx="0.7" ry="1.3" fill="#eeeaf0" opacity="1.0"/><ellipse cx="205.9" cy="309.3" rx="1.7" ry="1.1" fill="#eeeaf0" opacity="1.0"/><ellipse cx="196.7" cy="239.4" rx="0.8" ry="1.4" fill="#eeeaf0" opacity="1.0"/><ellipse cx="245.2" cy="252.6" rx="1.6" ry="0.9" fill="#eeeaf0" opacity="1.0"/><ellipse cx="176.7" cy="305.5" rx="1.6" ry="1.2" fill="#eeeaf0" opacity="1.0"/><ellipse cx="208.1" cy="239.1" rx="0.6" ry="1.0" fill="#eeeaf0" opacity="1.0"/><ellipse cx="256.1" cy="256.2" rx="1.5" ry="0.8" fill="#eeeaf0" opacity="1.0"/><ellipse cx="228.3" cy="265.2" rx="1.7" ry="0.9" fill="#eeeaf0" opacity="1.0"/><ellipse cx="198.8" cy="230.1" rx="1.4" ry="0.7" fill="#eeeaf0" opacity="1.0"/><ellipse cx="228.0" cy="292.1" rx="0.9" ry="1.0" fill="#eeeaf0" opacity="1.0"/><ellipse cx="185.4" cy="296.8" rx="0.8" ry="1.6" fill="#eeeaf0" opacity="1.0"/><ellipse cx="157.4" cy="204.2" rx="1.5" ry="0.7" fill="#eeeaf0" opacity="1.0"/><ellipse cx="210.0" cy="257.2" rx="1.6" ry="1.3" fill="#eeeaf0" opacity="1.0"/><ellipse cx="255.7" cy="275.3" rx="1.0" ry="1.6" fill="#eeeaf0" opacity="1.0"/><ellipse cx="155.9" cy="275.3" rx="0.7" ry="0.8" fill="#eeeaf0" opacity="1.0"/><ellipse cx="189.9" cy="255.2" rx="0.7" ry="1.0" fill="#eeeaf0" opacity="1.0"/><ellipse cx="206.5" cy="230.9" rx="1.0" ry="1.5" fill="#eeeaf0" opacity="1.0"/><ellipse cx="168.2" cy="234.2" rx="0.9" ry="0.9" fill="#eeeaf0" opacity="1.0"/><ellipse cx="151.3" cy="305.6" rx="1.2" ry="1.0" fill="#eeeaf0" opacity="1.0"/><ellipse cx="244.5" cy="202.5" rx="0.7" ry="0.6" fill="#eeeaf0" opacity="1.0"/><ellipse cx="150.6" cy="200.4" rx="1.3" ry="1.4" fill="#eeeaf0" opacity="1.0"/><ellipse cx="186.3" cy="302.5" rx="1.4" ry="1.7" fill="#eeeaf0" opacity="1.0"/><ellipse cx="232.1" cy="257.7" rx="0.7" ry="0.7" fill="#eeeaf0" opacity="1.0"/><ellipse cx="183.3" cy="215.1" rx="1.3" ry="0.7" fill="#eeeaf0" opacity="1.0"/><ellipse cx="207.1" cy="240.2" rx="1.0" ry="0.7" fill="#eeeaf0" opacity="1.0"/><ellipse cx="226.7" cy="284.4" rx="1.0" ry="1.0" fill="#eeeaf0" opacity="1.0"/><ellipse cx="223.7" cy="214.6" rx="1.3" ry="1.0" fill="#eeeaf0" opacity="1.0"/><ellipse cx="224.6" cy="270.2" rx="0.9" ry="0.9" fill="#eeeaf0" opacity="1.0"/><ellipse cx="190.5" cy="232.7" rx="1.4" ry="1.5" fill="#eeeaf0" opacity="1.0"/><ellipse cx="202.0" cy="226.2" rx="1.1" ry="1.4" fill="#eeeaf0" opacity="1.0"/><ellipse cx="207.5" cy="201.8" rx="0.7" ry="1.0" fill="#eeeaf0" opacity="1.0"/><ellipse cx="240.3" cy="247.3" rx="1.3" ry="1.2" fill="#eeeaf0" opacity="1.0"/><ellipse cx="156.1" cy="252.8" rx="1.1" ry="1.1" fill="#eeeaf0" opacity="1.0"/><ellipse cx="247.8" cy="233.1" rx="1.7" ry="1.1" fill="#eeeaf0" opacity="1.0"/><ellipse cx="200.0" cy="278.7" rx="1.1" ry="0.7" fill="#eeeaf0" opacity="1.0"/><ellipse cx="209.3" cy="209.7" rx="1.6" ry="0.9" fill="#eeeaf0" opacity="1.0"/><ellipse cx="250.4" cy="257.3" rx="1.5" ry="1.2" fill="#eeeaf0" opacity="1.0"/><ellipse cx="170.5" cy="310.1" rx="1.3" ry="1.1" fill="#eeeaf0" opacity="1.0"/><ellipse cx="251.1" cy="261.5" rx="1.0" ry="0.8" fill="#eeeaf0" opacity="1.0"/><ellipse cx="184.1" cy="289.6" rx="0.8" ry="1.1" fill="#eeeaf0" opacity="1.0"/><ellipse cx="218.2" cy="249.1" rx="1.0" ry="0.6" fill="#eeeaf0" opacity="1.0"/><ellipse cx="237.3" cy="208.3" rx="1.1" ry="0.7" fill="#eeeaf0" opacity="1.0"/><ellipse cx="181.9" cy="286.2" rx="1.6" ry="0.6" fill="#eeeaf0" opacity="1.0"/><ellipse cx="180.5" cy="276.1" rx="1.0" ry="1.7" fill="#eeeaf0" opacity="1.0"/><ellipse cx="162.9" cy="215.3" rx="1.4" ry="1.4" fill="#eeeaf0" opacity="1.0"/><ellipse cx="250.7" cy="208.3" rx="0.6" ry="0.7" fill="#eeeaf0" opacity="1.0"/><ellipse cx="249.1" cy="248.0" rx="1.1" ry="0.9" fill="#eeeaf0" opacity="1.0"/><ellipse cx="168.7" cy="213.0" rx="1.4" ry="0.6" fill="#eeeaf0" opacity="1.0"/><ellipse cx="229.1" cy="255.3" rx="0.8" ry="0.9" fill="#eeeaf0" opacity="1.0"/><ellipse cx="152.0" cy="293.0" rx="1.3" ry="1.4" fill="#eeeaf0" opacity="1.0"/><ellipse cx="206.7" cy="206.7" rx="1.4" ry="1.6" fill="#eeeaf0" opacity="1.0"/><ellipse cx="176.4" cy="243.1" rx="1.7" ry="1.3" fill="#eeeaf0" opacity="1.0"/><ellipse cx="161.6" cy="219.3" rx="0.9" ry="1.6" fill="#eeeaf0" opacity="1.0"/><ellipse cx="236.6" cy="202.0" rx="1.2" ry="0.8" fill="#eeeaf0" opacity="1.0"/><ellipse cx="174.8" cy="258.2" rx="0.8" ry="1.4" fill="#eeeaf0" opacity="1.0"/><ellipse cx="151.4" cy="203.6" rx="0.9" ry="0.7" fill="#eeeaf0" opacity="1.0"/><ellipse cx="241.6" cy="284.9" rx="1.2" ry="1.4" fill="#eeeaf0" opacity="1.0"/><ellipse cx="148.3" cy="226.5" rx="1.2" ry="1.5" fill="#eeeaf0" opacity="1.0"/><ellipse cx="212.5" cy="236.6" rx="0.9" ry="1.5" fill="#eeeaf0" opacity="1.0"/><ellipse cx="208.7" cy="294.3" rx="0.7" ry="1.5" fill="#eeeaf0" opacity="1.0"/><ellipse cx="154.9" cy="238.8" rx="1.0" ry="0.7" fill="#eeeaf0" opacity="1.0"/><ellipse cx="249.9" cy="245.9" rx="0.7" ry="1.4" fill="#eeeaf0" opacity="1.0"/><ellipse cx="184.2" cy="266.2" rx="1.3" ry="1.7" fill="#eeeaf0" opacity="1.0"/><ellipse cx="210.8" cy="271.0" rx="1.7" ry="1.0" fill="#eeeaf0" opacity="1.0"/><ellipse cx="183.9" cy="278.6" rx="1.3" ry="1.0" fill="#eeeaf0" opacity="1.0"/><ellipse cx="250.5" cy="307.9" rx="1.7" ry="1.4" fill="#eeeaf0" opacity="1.0"/><ellipse cx="239.0" cy="299.4" rx="1.3" ry="1.6" fill="#eeeaf0" opacity="1.0"/><ellipse cx="208.1" cy="235.9" rx="1.2" ry="0.8" fill="#eeeaf0" opacity="1.0"/><ellipse cx="254.6" cy="217.9" rx="1.0" ry="0.7" fill="#eeeaf0" opacity="1.0"/><ellipse cx="238.8" cy="282.1" rx="1.5" ry="1.6" fill="#eeeaf0" opacity="1.0"/><ellipse cx="233.7" cy="266.4" rx="1.4" ry="1.5" fill="#eeeaf0" opacity="1.0"/><ellipse cx="164.8" cy="225.5" rx="1.2" ry="1.1" fill="#eeeaf0" opacity="1.0"/>
<rect x="270.8" y="199.1" width="113.6" height="112.3" filter="url(#hfb)"/>
<ellipse cx="310.4" cy="249.0" rx="2.7" ry="2.5" fill="#c476b8" opacity="0.8"/><ellipse cx="305.3" cy="248.6" rx="2.3" ry="2.7" fill="#c476b8" opacity="0.8"/><ellipse cx="295.5" cy="301.0" rx="1.9" ry="2.6" fill="#c476b8" opacity="0.8"/><ellipse cx="330.4" cy="238.6" rx="2.3" ry="2.2" fill="#c476b8" opacity="0.8"/><ellipse cx="288.8" cy="249.5" rx="2.9" ry="2.5" fill="#c476b8" opacity="0.8"/><ellipse cx="285.2" cy="277.5" rx="2.5" ry="2.2" fill="#c476b8" opacity="0.8"/><ellipse cx="275.1" cy="261.2" rx="1.9" ry="2.3" fill="#c476b8" opacity="0.8"/><ellipse cx="314.2" cy="244.5" rx="2.9" ry="2.9" fill="#c476b8" opacity="0.8"/><ellipse cx="291.0" cy="227.3" rx="3.0" ry="2.3" fill="#c476b8" opacity="0.8"/><ellipse cx="348.6" cy="265.0" rx="1.6" ry="2.3" fill="#c476b8" opacity="0.8"/><ellipse cx="276.6" cy="200.2" rx="1.4" ry="2.2" fill="#c476b8" opacity="0.8"/><ellipse cx="281.8" cy="204.0" rx="1.6" ry="2.2" fill="#c476b8" opacity="0.8"/><ellipse cx="342.4" cy="223.9" rx="2.9" ry="1.7" fill="#c476b8" opacity="0.8"/><ellipse cx="320.1" cy="270.7" rx="2.4" ry="1.7" fill="#c476b8" opacity="0.8"/><ellipse cx="293.8" cy="228.4" rx="2.3" ry="2.7" fill="#c476b8" opacity="0.8"/><ellipse cx="291.1" cy="253.9" rx="1.8" ry="2.6" fill="#c476b8" opacity="0.8"/><ellipse cx="315.9" cy="217.1" rx="2.5" ry="2.3" fill="#c476b8" opacity="0.8"/><ellipse cx="345.9" cy="224.2" rx="1.8" ry="1.9" fill="#c476b8" opacity="0.8"/><ellipse cx="366.0" cy="232.1" rx="2.5" ry="2.4" fill="#c476b8" opacity="0.8"/><ellipse cx="346.7" cy="248.9" rx="2.6" ry="2.2" fill="#c476b8" opacity="0.8"/><ellipse cx="300.7" cy="255.1" rx="2.5" ry="1.6" fill="#c476b8" opacity="0.8"/><ellipse cx="353.3" cy="256.3" rx="2.8" ry="2.2" fill="#c476b8" opacity="0.8"/><ellipse cx="370.2" cy="219.8" rx="1.6" ry="2.2" fill="#c476b8" opacity="0.8"/><ellipse cx="272.2" cy="254.8" rx="1.6" ry="2.7" fill="#c476b8" opacity="0.8"/><ellipse cx="356.8" cy="250.0" rx="1.6" ry="2.7" fill="#c476b8" opacity="0.8"/><ellipse cx="383.1" cy="256.8" rx="1.9" ry="2.1" fill="#c476b8" opacity="0.8"/><ellipse cx="360.1" cy="222.2" rx="1.7" ry="1.7" fill="#c476b8" opacity="0.8"/><ellipse cx="367.0" cy="281.2" rx="2.9" ry="2.9" fill="#c476b8" opacity="0.8"/><ellipse cx="333.8" cy="228.1" rx="2.4" ry="2.8" fill="#c476b8" opacity="0.8"/><ellipse cx="365.1" cy="203.1" rx="3.0" ry="2.1" fill="#c476b8" opacity="0.8"/><ellipse cx="297.9" cy="231.2" rx="2.9" ry="1.9" fill="#c476b8" opacity="0.8"/><ellipse cx="317.2" cy="214.5" rx="2.1" ry="2.4" fill="#c476b8" opacity="0.8"/><ellipse cx="324.2" cy="235.7" rx="2.4" ry="2.0" fill="#c476b8" opacity="0.8"/><ellipse cx="311.6" cy="236.1" rx="2.1" ry="2.1" fill="#c476b8" opacity="0.8"/><ellipse cx="379.6" cy="221.2" rx="2.8" ry="2.6" fill="#c476b8" opacity="0.8"/><ellipse cx="361.5" cy="302.9" rx="1.7" ry="3.0" fill="#c476b8" opacity="0.8"/><ellipse cx="311.4" cy="310.4" rx="1.9" ry="1.8" fill="#c476b8" opacity="0.8"/><ellipse cx="325.1" cy="265.1" rx="1.5" ry="1.8" fill="#c476b8" opacity="0.8"/><ellipse cx="345.5" cy="272.2" rx="2.3" ry="2.3" fill="#c476b8" opacity="0.8"/><ellipse cx="353.9" cy="299.8" rx="1.8" ry="2.3" fill="#c476b8" opacity="0.8"/><ellipse cx="322.3" cy="299.0" rx="2.0" ry="2.7" fill="#c476b8" opacity="0.8"/><ellipse cx="373.0" cy="274.3" rx="2.8" ry="2.7" fill="#c476b8" opacity="0.8"/><ellipse cx="357.2" cy="217.6" rx="1.6" ry="1.8" fill="#c476b8" opacity="0.8"/><ellipse cx="322.2" cy="244.6" rx="1.6" ry="2.3" fill="#c476b8" opacity="0.8"/><ellipse cx="334.5" cy="212.9" rx="1.7" ry="2.7" fill="#c476b8" opacity="0.8"/><ellipse cx="295.3" cy="273.4" rx="2.7" ry="1.7" fill="#c476b8" opacity="0.8"/><ellipse cx="278.9" cy="295.8" rx="2.7" ry="1.7" fill="#c476b8" opacity="0.8"/><ellipse cx="380.6" cy="290.4" rx="2.6" ry="1.9" fill="#c476b8" opacity="0.8"/><ellipse cx="309.2" cy="235.6" rx="1.8" ry="2.3" fill="#c476b8" opacity="0.8"/><ellipse cx="361.4" cy="252.8" rx="1.9" ry="2.6" fill="#c476b8" opacity="0.8"/><ellipse cx="326.2" cy="232.0" rx="2.9" ry="2.9" fill="#c476b8" opacity="0.8"/><ellipse cx="328.2" cy="246.3" rx="1.7" ry="2.4" fill="#c476b8" opacity="0.8"/><ellipse cx="333.7" cy="203.8" rx="2.9" ry="1.5" fill="#c476b8" opacity="0.8"/><ellipse cx="304.4" cy="257.6" rx="1.5" ry="2.9" fill="#c476b8" opacity="0.8"/><ellipse cx="353.0" cy="272.6" rx="2.5" ry="2.9" fill="#c476b8" opacity="0.8"/><ellipse cx="372.2" cy="208.7" rx="1.7" ry="1.6" fill="#c476b8" opacity="0.8"/><ellipse cx="304.2" cy="276.5" rx="2.0" ry="2.3" fill="#c476b8" opacity="0.8"/><ellipse cx="339.9" cy="252.9" rx="2.1" ry="2.7" fill="#c476b8" opacity="0.8"/><ellipse cx="373.2" cy="282.6" rx="2.2" ry="1.6" fill="#c476b8" opacity="0.8"/><ellipse cx="285.4" cy="268.0" rx="2.4" ry="1.6" fill="#c476b8" opacity="0.8"/><ellipse cx="373.4" cy="270.5" rx="1.6" ry="2.8" fill="#c476b8" opacity="0.8"/><ellipse cx="371.2" cy="271.2" rx="2.7" ry="2.3" fill="#c476b8" opacity="0.8"/><ellipse cx="324.8" cy="292.1" rx="1.9" ry="1.9" fill="#c476b8" opacity="0.8"/><ellipse cx="373.0" cy="282.0" rx="1.5" ry="1.6" fill="#c476b8" opacity="0.8"/><ellipse cx="299.9" cy="296.1" rx="2.5" ry="2.6" fill="#c476b8" opacity="0.8"/><ellipse cx="325.7" cy="243.4" rx="2.1" ry="2.2" fill="#c476b8" opacity="0.8"/><ellipse cx="290.8" cy="206.3" rx="3.0" ry="1.7" fill="#c476b8" opacity="0.8"/><ellipse cx="310.6" cy="284.1" rx="1.9" ry="2.4" fill="#c476b8" opacity="0.8"/><ellipse cx="357.5" cy="207.0" rx="1.7" ry="2.5" fill="#c476b8" opacity="0.8"/><ellipse cx="352.1" cy="272.5" rx="2.7" ry="2.0" fill="#c476b8" opacity="0.8"/><ellipse cx="331.9" cy="233.7" rx="2.2" ry="2.4" fill="#c476b8" opacity="0.8"/><ellipse cx="363.7" cy="250.7" rx="2.9" ry="2.8" fill="#c476b8" opacity="0.8"/><ellipse cx="286.2" cy="254.3" rx="2.3" ry="2.6" fill="#c476b8" opacity="0.8"/><ellipse cx="294.0" cy="297.8" rx="2.4" ry="2.0" fill="#c476b8" opacity="0.8"/><ellipse cx="286.0" cy="298.3" rx="2.2" ry="2.7" fill="#c476b8" opacity="0.8"/><ellipse cx="294.7" cy="269.3" rx="2.7" ry="1.9" fill="#c476b8" opacity="0.8"/><ellipse cx="273.2" cy="213.2" rx="1.7" ry="2.2" fill="#c476b8" opacity="0.8"/><ellipse cx="308.7" cy="277.3" rx="2.2" ry="2.7" fill="#c476b8" opacity="0.8"/><ellipse cx="379.1" cy="300.5" rx="1.6" ry="1.6" fill="#c476b8" opacity="0.8"/><ellipse cx="364.1" cy="218.4" rx="3.0" ry="2.8" fill="#c476b8" opacity="0.8"/>
<path fill="none" stroke="#f2eef4" stroke-width="0.95" stroke-linecap="round" d="M271.8 201.9L271.0 204.1M272.7 208.1L272.4 205.9M272.4 205.9L271.0 204.1M349.4 198.7L350.0 199.9M271.8 201.9L274.5 200.9M274.5 200.9L276.7 202.0M288.6 203.1L289.5 202.0M385.3 239.7L384.3 239.6M381.0 234.7L380.9 235.5M287.3 213.3L289.1 212.1M282.7 209.0L283.1 208.6M287.8 207.5L290.2 209.2M287.8 207.5L287.5 203.9M287.5 203.9L288.6 203.1M273.0 273.1L270.7 272.7M277.7 208.8L281.7 208.7M272.7 208.1L273.4 208.4M273.4 208.4L276.3 207.3M278.3 201.4L281.2 204.3M281.2 204.3L283.4 204.6M277.4 201.5L278.3 201.4M282.6 209.1L282.7 209.0M306.5 205.0L303.8 206.3M360.9 200.5L359.5 201.1M355.8 203.1L352.9 200.5M357.3 224.6L356.8 222.9M356.5 218.7L353.9 218.6M360.7 229.3L361.4 225.7M345.0 227.9L348.0 227.8M351.2 226.0L349.4 225.4M376.3 198.5L374.8 201.3M379.5 202.2L378.7 202.6M381.0 236.8L378.9 239.9M378.9 239.9L375.0 238.1M374.8 237.6L375.0 238.1M379.8 208.2L379.3 208.6M375.8 220.8L377.5 216.3M378.9 239.9L379.1 241.5M384.3 239.6L380.8 242.2M384.6 245.5L382.8 245.4M380.8 242.2L379.1 241.5M337.4 255.4L335.5 256.0M335.5 256.0L335.5 259.3M344.8 258.4L344.5 259.0M338.2 264.5L336.4 263.3M338.2 264.5L341.2 264.0M341.7 255.4L341.4 254.1M337.4 255.4L338.1 254.7M338.1 254.7L341.4 254.1M325.1 268.8L321.1 267.9M341.4 232.6L341.9 236.0M345.1 235.9L341.9 236.0M308.3 232.7L311.5 232.1M311.5 232.1L311.8 228.8M311.5 228.2L311.8 228.8M308.9 217.8L310.6 214.8M307.7 227.4L307.7 226.7M291.9 216.7L293.6 217.5M295.7 205.8L297.7 208.7M286.9 224.6L287.0 225.7M292.0 227.4L288.9 227.8M288.9 227.8L287.0 225.7M276.3 233.9L278.1 237.1M274.7 233.6L271.7 237.0M382.8 309.9L385.0 309.4M385.0 309.4L384.7 308.0M385.0 309.4L385.0 309.4M380.1 306.0L381.3 304.9M272.1 286.0L271.1 288.5M274.3 276.7L276.4 276.7M276.4 276.7L277.0 277.0M276.0 285.2L275.8 282.2M276.0 285.2L272.1 286.0M280.2 277.7L277.0 277.0M274.2 276.6L274.3 276.7M289.3 201.6L284.6 200.3M289.5 202.0L289.3 201.6M301.5 205.7L303.8 206.3M297.7 208.7L300.5 207.3M308.7 223.9L307.7 226.7M308.9 217.8L308.2 218.3M308.3 219.2L308.2 218.3M345.0 205.5L345.1 205.4M345.1 202.5L340.3 199.8M313.3 214.4L314.3 213.0M308.8 200.6L310.1 204.7M309.1 206.0L310.1 204.7M314.1 204.9L314.7 207.6M312.4 209.9L314.7 207.6M374.7 201.3L374.8 201.3M355.5 204.6L358.1 206.9M357.6 209.3L356.8 210.2M359.1 217.0L361.0 217.2M361.0 217.2L361.1 216.5M359.9 212.1L357.1 211.0M356.5 218.7L359.1 217.0M352.1 216.8L353.9 218.6M368.7 217.5L370.0 215.4M369.3 219.8L368.7 217.5M372.0 215.9L370.0 215.4M372.7 210.1L376.9 209.3M375.2 213.6L373.9 213.4M373.9 213.4L373.6 213.2M370.4 209.5L372.7 210.1M379.9 214.3L381.9 213.3M379.9 214.3L378.7 216.3M377.5 216.3L378.7 216.3M370.4 209.5L370.3 209.4M370.3 209.4L364.7 209.4M362.5 224.9L361.5 220.7M361.0 217.2L361.3 217.6M361.3 220.2L361.3 217.6M361.1 216.5L364.7 210.1M352.1 216.8L349.0 217.3M340.6 229.8L340.1 229.3M340.1 229.3L336.5 227.8M344.1 220.3L344.4 217.5M344.1 220.3L340.3 220.4M348.4 216.8L347.0 216.8M344.1 220.3L344.7 221.3M344.4 217.5L347.0 216.8M348.5 212.5L352.3 211.5M349.7 207.4L353.3 209.5M352.3 211.5L353.3 209.5M348.2 213.5L348.5 212.5M345.1 205.4L349.0 206.0M366.6 202.0L369.9 205.0M369.6 198.8L369.2 200.6M360.9 244.7L360.8 247.0M360.4 247.4L359.5 253.1M357.8 253.8L359.5 253.4M345.0 228.0L340.6 229.8M346.2 231.5L345.4 232.5M378.6 233.1L376.9 231.2M374.1 236.5L372.9 235.8M372.9 235.8L372.8 235.6M381.9 213.3L384.2 213.7M385.1 258.4L385.3 258.1M376.0 246.3L376.3 246.0M313.4 305.2L313.8 307.4M276.9 286.3L276.0 285.2M276.9 286.3L280.3 285.8M289.8 276.9L287.9 279.9M284.6 276.5L285.3 280.0M285.3 280.0L287.9 279.9M285.3 280.0L284.0 281.6M291.0 293.5L287.3 293.0M289.8 297.4L286.5 293.5M291.6 292.7L291.9 288.6M295.7 289.7L293.1 288.0M293.1 288.0L291.9 288.6M288.9 288.4L287.3 293.0M291.0 293.5L291.6 292.7M294.9 297.1L296.2 295.7M296.5 294.3L296.2 295.7M296.5 294.3L295.6 292.1M383.4 279.4L384.2 280.4M383.8 276.7L381.1 275.0M381.4 303.3L379.3 301.1M380.1 306.0L376.9 304.7M377.3 300.5L377.3 300.5M379.3 301.1L377.3 300.5M380.7 292.0L377.0 294.0M376.4 288.5L375.8 292.8M377.0 294.0L375.8 292.8M321.8 271.7L321.1 267.9M315.7 288.5L317.3 293.0M319.5 293.1L318.2 293.3M324.9 289.7L324.8 290.9M321.7 294.0L324.8 290.9M321.7 294.0L319.5 293.1M341.9 281.3L339.4 285.4M341.9 281.3L341.2 280.9M340.1 277.4L341.2 280.9M357.4 260.8L360.1 260.8M328.5 265.2L330.3 268.5M336.5 249.8L335.6 248.4M341.4 254.1L341.7 253.4M339.1 249.9L340.8 251.1M344.8 247.3L344.9 247.5M344.8 247.3L341.9 245.5M340.8 251.1L344.9 247.5M351.2 249.1L349.1 249.9M352.8 251.7L352.9 251.2M349.1 249.9L346.2 249.4M344.9 247.5L346.2 249.4M324.8 261.6L323.9 260.9M335.5 256.0L333.9 254.9M336.4 237.8L333.9 236.9M327.3 245.0L329.2 240.7M308.0 232.9L310.1 237.6M297.9 244.5L298.3 244.7M301.9 241.7L301.0 243.7M300.7 239.5L301.1 238.1M311.1 223.8L312.2 222.1M311.1 223.8L312.2 226.2M312.2 222.1L315.4 222.7M308.7 223.9L311.1 223.8M311.9 221.2L312.2 222.1M311.5 228.2L312.2 226.2M316.1 218.7L316.9 221.3M311.8 228.8L316.5 228.9M320.1 225.2L319.7 221.9M316.9 221.3L319.7 221.9M296.0 226.5L297.8 225.3M294.6 217.4L293.6 217.5M296.9 229.5L297.3 233.4M299.0 264.9L297.2 265.7M300.6 260.7L297.2 259.6M302.8 255.7L300.7 257.7M304.9 255.9L304.5 255.6M292.4 268.6L296.9 267.0M292.4 268.7L292.4 268.6M297.1 267.6L296.9 267.0M297.2 265.7L297.0 265.9M300.1 269.2L297.1 267.6M289.4 276.2L290.7 273.0M286.1 265.4L285.1 267.6M285.1 267.6L285.5 268.9M290.5 265.1L288.3 269.2M285.5 268.9L285.2 269.3M282.5 256.5L282.5 256.5M281.6 265.2L282.1 262.0M278.9 237.1L281.7 240.8M271.6 218.8L272.2 219.0M272.2 219.0L272.2 219.0M276.9 221.3L272.7 219.2M272.2 219.0L272.7 219.2M275.3 224.8L276.3 227.8M276.0 228.3L272.9 230.6M272.7 230.5L272.9 230.6M274.7 233.6L272.9 230.6M277.0 221.4L275.7 224.2M282.4 220.1L280.2 222.0M276.9 221.3L277.0 221.4M280.9 227.8L281.0 226.2M286.2 223.9L286.9 224.6M285.1 227.7L281.7 229.1M285.6 221.3L288.5 219.1M288.5 219.1L285.8 215.9M286.2 223.9L285.6 221.3M288.9 219.1L288.5 219.1M282.0 216.4L280.2 213.5M285.8 215.9L285.7 215.6M282.6 209.1L280.9 212.8M292.6 241.4L291.7 241.0M291.7 241.0L291.8 236.8M293.6 233.0L291.4 236.1M291.8 236.8L291.4 236.1M271.9 241.0L273.0 242.7M273.0 242.7L272.8 244.5M274.5 248.6L273.7 246.1M288.0 237.8L289.9 241.0M290.2 241.1L289.9 241.0M278.1 237.1L278.9 237.1M281.5 241.4L278.1 242.4M273.7 246.1L278.2 243.7M376.9 304.7L375.3 306.5M274.1 253.9L273.6 252.9M279.2 253.4L276.7 248.9M276.7 248.9L274.5 248.7M274.5 248.6L274.5 248.7M280.4 253.5L280.4 253.5M280.4 253.5L279.2 253.4M297.5 201.3L301.7 200.7M296.9 202.5L297.5 201.3M303.9 217.5L300.9 217.9M300.4 219.3L300.9 217.9M300.6 217.3L296.0 215.7M300.8 213.9L298.8 212.2M300.9 217.9L300.6 217.3M294.6 217.4L296.0 215.7M297.2 209.9L298.0 211.8M314.7 207.6L315.1 207.7M327.7 201.0L328.8 204.0M316.8 203.8L317.5 201.1M320.0 201.4L321.7 203.3M314.1 204.9L316.8 203.8M317.4 200.9L317.5 201.1M319.7 208.4L317.1 208.7M364.3 209.0L364.4 209.0M369.7 205.4L364.8 206.6M331.3 214.2L333.7 217.6M336.8 212.1L336.4 211.9M334.4 209.1L336.4 211.9M341.7 210.5L345.0 209.5M341.7 214.2L342.0 213.7M340.1 209.1L336.8 212.1M340.1 209.1L341.7 210.5M340.4 205.9L340.3 206.0M345.0 205.5L345.0 209.5M350.3 233.1L352.3 233.3M346.2 231.5L348.6 231.6M353.5 236.9L355.4 237.1M345.0 228.0L345.0 227.9M356.7 238.0L360.9 236.5M361.3 235.1L360.9 236.5M377.0 222.0L377.3 223.0M377.3 223.0L373.2 225.9M373.1 227.2L375.4 228.0M377.3 223.0L378.9 224.4M373.2 225.9L373.1 227.2M380.8 224.5L382.6 219.8M385.0 210.7L380.0 208.1M384.2 213.7L385.0 210.7M379.8 208.2L380.0 208.1M359.8 253.5L359.5 253.4M380.3 250.0L380.4 253.8M378.0 253.9L380.4 253.8M378.0 253.9L376.0 255.9M381.8 257.3L381.0 257.8M382.4 264.4L381.6 264.4M381.4 261.1L381.6 264.4M360.3 282.1L360.9 278.6M360.3 282.1L364.5 282.3M365.4 277.3L360.9 278.6M364.5 282.3L365.1 284.6M365.1 284.6L366.0 285.8M368.4 285.3L369.7 284.4M372.4 288.3L370.7 284.8M372.2 279.0L372.6 278.1M372.6 278.1L368.4 277.2M365.6 276.9L367.1 276.5M381.1 275.0L381.2 274.6M372.9 275.3L373.2 275.0M372.6 278.1L373.2 277.4M308.1 260.5L310.0 262.7M308.6 255.5L310.5 253.9M310.5 253.9L307.9 252.1M304.9 255.9L306.0 255.5M307.4 249.1L308.9 248.6M301.7 237.6L301.1 238.1M304.7 248.8L304.5 248.6M299.8 248.6L304.4 248.5M299.8 248.6L299.4 249.2M304.5 248.6L304.4 248.5M307.4 249.1L304.7 248.8M298.6 253.4L299.0 252.6M298.6 253.4L295.8 252.9M303.2 245.6L304.4 248.5M324.9 289.7L325.3 289.4M326.2 283.6L325.7 282.1M328.5 279.6L325.9 281.0M325.7 282.1L325.9 281.0M330.8 284.9L330.1 285.0M330.1 285.0L329.4 284.7M326.3 311.1L326.0 311.2M326.3 311.1L329.1 308.6M325.7 305.3L329.0 307.9M334.9 309.9L339.0 312.3M340.8 311.7L339.0 312.3M323.9 309.6L320.5 310.1M325.6 305.2L320.9 305.0M321.7 294.0L322.8 296.5M322.8 296.5L325.3 297.4M317.2 298.6L318.0 298.2M318.0 298.2L320.3 298.7M320.3 298.7L321.1 301.4M320.9 301.8L321.1 301.4M312.9 296.7L317.2 298.6M318.2 293.3L318.0 298.2M311.9 297.3L312.1 300.9M313.4 305.2L313.1 305.0M320.9 305.0L320.9 301.8M311.9 297.3L310.6 296.8M310.6 296.8L308.5 295.0M308.4 294.3L308.5 295.0M306.7 300.5L306.7 300.6M287.1 285.3L286.4 285.2M287.1 285.3L288.1 287.4M284.0 281.6L286.4 285.2M288.9 288.4L288.1 287.4M289.3 298.3L289.8 297.4M292.5 304.9L291.9 303.5M306.7 300.6L305.2 302.8M308.8 312.2L308.8 309.7M376.5 285.5L377.4 284.2M377.4 284.2L376.0 281.8M373.5 282.2L372.7 283.8M372.4 288.3L376.3 288.4M370.7 284.8L372.7 283.8M372.2 279.0L373.5 282.2M380.2 296.0L383.0 296.9M380.2 296.0L381.2 292.4M380.7 292.0L381.2 292.4M367.3 291.9L369.2 293.0M329.1 277.1L328.5 273.7M329.1 277.1L328.5 279.6M315.5 288.4L315.8 284.0M320.0 283.6L315.8 284.0M325.7 282.1L320.5 281.6M320.0 283.6L320.5 281.6M315.8 284.0L315.8 284.0M320.9 267.8L318.1 269.3M309.9 263.8L312.4 267.2M345.3 269.6L341.9 270.9M342.6 264.9L344.4 265.1M347.0 272.8L345.6 269.8M345.6 269.8L345.3 269.6M341.2 264.0L342.6 264.9M344.5 259.0L344.6 259.4M340.4 272.8L338.4 272.7M341.5 286.7L341.6 290.2M337.3 289.4L337.1 285.5M337.3 289.4L337.6 289.6M329.1 277.1L332.3 277.4M330.8 284.9L332.9 286.1M374.1 269.7L369.3 269.3M374.3 265.6L373.8 265.4M373.8 265.4L368.6 265.2M377.1 263.7L374.3 265.6M359.6 263.1L360.9 264.5M363.4 260.5L361.1 259.7M368.3 265.8L364.6 266.1M354.1 262.8L352.4 261.8M354.1 262.8L356.0 259.7M352.4 261.8L352.7 257.0M357.4 260.8L356.0 259.7M360.6 255.7L359.8 253.5M360.6 255.7L360.5 257.2M349.2 256.9L352.7 257.0M352.9 267.8L349.1 263.3M352.9 267.8L353.0 268.4M346.5 265.1L348.7 263.4M352.4 261.8L349.1 263.3M353.9 268.8L353.0 268.4M344.6 259.4L348.7 263.4M345.3 265.5L346.5 265.1M312.6 238.7L316.4 237.2M316.5 228.9L317.5 229.7M317.5 229.7L316.5 232.4M327.3 245.0L325.5 245.1M323.2 249.8L324.9 245.7M324.9 245.7L325.5 245.1M305.4 233.8L302.4 235.3M302.1 230.2L299.9 233.2M308.0 232.9L305.6 233.4M310.1 237.6L308.0 238.4M306.0 228.0L304.0 230.7M297.3 233.4L299.9 233.2M306.8 241.6L306.6 241.7M313.8 245.9L313.1 249.3M272.8 266.9L272.8 266.2M280.6 259.4L280.9 260.8M281.0 265.5L276.5 263.4M282.1 262.0L280.9 260.8M292.6 256.2L292.9 256.8M291.6 260.8L291.5 260.0M295.8 252.9L292.9 253.4M292.9 253.4L292.6 254.1M282.5 256.5L286.2 257.9M281.7 229.3L281.1 231.3M281.7 229.3L287.8 231.9M285.7 234.7L288.2 232.6M373.0 311.2L373.4 310.0M273.4 306.3L270.0 305.3M281.7 288.4L279.7 290.5M289.3 298.3L286.1 297.6M331.5 199.6L328.8 204.0M334.4 209.1L334.7 208.0M340.3 206.0L335.9 206.5M330.0 213.5L329.0 213.7M316.1 218.7L318.5 216.0M336.5 222.9L335.9 223.7M336.5 225.8L335.8 224.0M336.5 227.8L336.5 225.8M333.1 229.5L330.5 232.8M317.5 229.7L319.4 229.1M319.5 234.3L316.5 232.4M353.9 242.5L353.0 237.5M353.9 242.5L353.8 243.4M353.5 236.9L353.0 237.5M372.8 235.6L370.0 233.0M369.3 219.8L368.0 221.6M372.0 224.5L368.9 223.6M362.8 217.5L367.5 221.6M370.8 229.6L371.2 229.1M365.9 227.0L367.9 226.1M370.0 233.0L370.8 229.6M365.4 230.8L365.9 230.0M368.9 223.6L367.9 226.1M368.9 255.0L368.7 256.2M363.8 260.4L366.7 256.7M378.5 264.7L380.0 265.4M381.6 264.4L380.0 265.4M374.1 269.7L373.2 275.0M294.4 276.4L291.8 277.8M294.4 276.4L295.4 276.4M296.5 294.3L300.9 292.0M295.7 289.7L298.5 288.8M298.2 284.6L299.8 284.7M311.0 258.4L312.8 255.5M312.8 255.5L315.5 256.7M316.5 256.0L315.5 256.7M316.5 256.0L319.7 257.1M310.4 258.5L311.0 258.4M331.6 303.2L333.5 302.7M329.0 307.9L331.1 305.9M334.5 301.3L333.5 302.7M340.8 311.7L340.9 311.4M340.5 308.6L337.3 306.4M332.7 291.5L332.7 291.5M333.0 293.3L333.0 296.4M333.0 293.3L332.4 292.5M333.0 296.4L332.3 297.7M301.5 292.3L301.0 297.0M301.9 298.2L301.0 297.0M306.7 300.5L304.4 297.5M300.5 304.0L300.7 303.5M297.0 301.3L296.8 301.7M301.0 308.8L300.5 304.0M297.0 307.4L297.0 307.1M294.9 297.3L297.0 301.3M292.3 302.8L296.8 301.7M292.5 304.9L296.3 305.4M370.9 300.6L369.0 299.8M367.8 296.9L367.2 297.4M367.2 297.4L369.0 299.8M357.4 277.0L355.4 278.7M355.4 278.7L354.9 278.5M353.5 277.0L354.9 278.5M351.2 280.8L352.4 283.6M352.0 284.4L352.4 283.6M367.3 291.9L365.8 292.2M315.2 276.9L312.3 273.6M316.4 277.3L317.8 273.1M321.8 271.7L320.2 273.6M320.2 273.6L317.8 273.1M304.5 284.8L307.8 285.0M307.8 285.1L307.8 285.0M311.3 285.4L307.8 285.1M308.3 290.2L307.8 289.8M340.1 277.4L337.4 277.7M338.4 272.7L336.9 273.6M323.2 236.6L320.7 237.2M320.7 237.2L320.6 237.3M318.2 238.0L320.6 237.3M318.2 238.0L316.4 237.2M319.5 234.3L320.7 237.2M322.4 249.8L319.6 248.5M317.8 248.7L315.9 245.2M315.9 245.2L316.7 243.2M318.2 238.0L317.0 243.0M324.8 251.7L324.8 252.0M323.9 260.9L324.2 256.5M324.2 256.5L321.0 256.1M328.9 254.6L325.4 254.8M328.9 254.6L330.7 257.7M324.8 252.0L325.4 254.8M333.9 254.9L330.7 257.7M324.2 256.5L324.9 255.9M290.2 241.1L287.3 245.4M284.2 250.0L287.8 248.3M289.3 249.8L287.8 248.3M280.4 253.5L282.9 249.6M282.9 249.6L284.2 250.0M287.5 245.7L287.8 248.3M373.4 310.0L373.3 309.7M375.1 306.5L373.3 309.7M269.9 303.1L273.1 301.4M273.4 306.3L274.4 305.3M271.4 294.1L273.0 298.1M275.4 296.8L273.0 298.1M276.6 297.8L275.4 296.8M323.3 208.8L320.7 209.3M320.7 209.3L320.3 211.2M327.4 212.7L325.7 212.6M319.7 208.4L320.7 209.3M317.5 213.7L320.3 211.2M335.8 224.0L331.9 224.0M333.1 229.5L331.4 227.9M331.4 227.9L331.9 224.0M329.9 233.1L329.1 235.9M329.3 240.6L328.4 236.8M323.2 236.6L323.8 236.1M320.1 225.2L320.8 226.6M320.8 226.6L320.2 228.5M365.9 240.9L365.2 239.8M365.2 239.8L361.8 239.3M360.6 240.8L361.8 239.3M369.3 241.8L365.9 240.9M360.9 236.5L361.8 239.3M360.9 244.7L360.9 244.6M368.4 250.2L368.9 250.6M369.5 242.1L369.3 245.0M369.3 254.3L371.1 253.7M375.7 255.7L375.7 255.7M359.5 273.1L362.0 268.7M359.5 273.1L360.2 274.0M362.3 268.7L362.0 268.7M359.5 276.9L360.2 274.0M360.3 268.0L362.0 268.7M364.6 266.1L362.3 268.7M312.3 273.6L312.2 273.5M311.9 268.7L312.1 269.0M304.5 275.2L309.4 276.0M311.4 281.0L311.7 280.7M312.2 284.1L311.4 281.0M309.4 276.0L309.5 276.4M296.8 279.5L299.1 280.2M295.4 276.4L296.8 279.5M300.0 279.7L299.1 280.2M298.2 284.6L298.1 284.5M360.5 287.0L364.8 287.7M364.5 291.4L362.7 291.7M356.0 289.2L356.9 289.6M364.9 287.5L364.8 287.7M348.1 306.5L348.0 308.0M349.4 309.2L349.2 311.6M342.7 306.2L343.1 306.1M316.4 277.3L316.6 277.5M320.4 242.6L317.7 243.1M317.0 243.0L317.7 243.1M371.0 300.7L373.8 302.0M369.2 304.5L369.7 305.7M370.9 300.6L371.0 300.7M369.0 299.8L365.8 302.8M365.8 302.8L369.2 304.5M274.4 305.3L276.3 305.7M278.7 300.6L280.9 299.8M280.9 299.8L282.4 300.9M282.4 300.9L280.1 305.1M276.3 305.7L277.7 308.3M277.7 308.3L278.8 308.7M280.9 299.2L280.3 295.9M280.3 295.9L280.3 294.0M280.3 294.0L284.9 293.4M285.0 301.1L284.2 301.7M280.9 299.8L280.9 299.2M279.8 293.7L280.3 294.0M286.5 293.5L285.6 293.7M280.5 307.3L280.7 306.6M278.8 308.7L280.5 307.3M280.1 305.1L280.7 306.6M325.6 225.1L325.9 225.2M371.9 246.8L376.0 246.3M369.3 245.0L371.9 246.8M365.8 302.8L365.0 302.8M361.0 295.2L359.3 298.4M356.7 294.0L356.9 296.9M356.9 296.9L359.3 298.4M338.7 296.7L337.6 297.9M337.6 297.9L337.3 300.7M337.3 306.4L337.6 305.8M366.4 308.0L366.4 308.0M326.4 225.2L326.8 224.7M326.8 224.7L331.8 223.9M331.1 221.0L331.8 223.9M361.5 308.2L357.4 309.4M356.2 308.0L357.4 309.4M356.4 307.2L359.6 304.8M360.9 305.5L359.6 304.8M356.7 294.0L354.2 294.7M359.5 304.5L360.6 300.1M349.4 303.4L349.2 302.3M348.5 301.5L349.2 302.3M359.3 298.4L359.4 299.0M354.2 294.7L352.0 293.3M349.3 295.1L349.4 294.8M349.4 294.8L352.0 293.3M355.0 289.1L352.8 290.3M349.8 289.3L349.2 285.7M346.0 292.5L345.1 289.9M341.6 290.2L341.9 290.6M341.9 290.6L345.1 289.9M352.0 284.4L349.2 285.7M328.5 220.2L327.6 218.1M327.4 222.4L325.0 220.8M326.8 224.7L327.4 222.4M331.1 221.0L328.5 220.2M324.3 217.9L324.9 218.1M340.0 296.4L341.7 296.8M340.0 296.4L340.3 292.6M338.7 296.7L340.0 296.4M337.9 292.6L340.3 292.6"/>
<path d="M357.8 278.0L355.3 278.0L354.4 278.8M352.1 277.4L349.0 278.9L348.5 281.3M306.4 214.0L306.6 215.9L307.8 217.4M374.2 275.3L374.6 278.0L375.1 279.0M338.3 272.8L337.4 273.7L336.3 275.8M301.5 202.8L298.8 203.7L296.9 203.7M358.4 209.9L355.5 211.1L355.5 213.4M369.9 221.8L372.2 222.4L374.1 222.0M312.8 239.0L309.9 240.9L310.3 242.9M362.5 262.7L363.6 265.1L364.7 265.4M367.4 283.4L370.4 284.2L372.7 283.4M297.7 217.1L294.8 217.6L293.5 216.7M365.3 276.9L362.6 279.1L361.5 280.5M321.4 286.5L319.8 286.5L318.8 287.2M331.8 255.0L333.3 255.8L334.8 255.9M285.6 284.6L287.2 286.1L288.5 286.9M274.7 215.1L275.3 217.7L274.1 219.2M278.0 230.1L278.8 233.0L280.7 234.2M298.6 290.7L297.4 291.3L296.9 292.6M378.1 248.0L376.3 250.7L375.6 251.5M280.9 298.7L278.5 300.4L276.2 300.9M311.5 221.1L313.8 221.1L315.5 221.5M358.4 269.5L356.9 271.4L355.8 272.5M298.3 299.3L297.1 299.4L296.5 300.5M354.3 200.4L352.9 201.0L353.0 202.2M341.2 202.3L342.7 203.5L343.8 204.5M323.6 201.4L324.6 204.4L325.8 204.6M271.3 241.4L272.4 244.1L273.4 245.0M290.2 261.8L291.0 263.6L291.9 264.8M369.4 247.9L369.9 249.1L370.6 251.4M320.6 244.8L319.4 245.2L318.4 244.4M299.9 257.3L301.4 258.3L302.2 259.3M340.7 221.2L337.6 221.9L336.5 221.2M317.4 262.8L318.5 263.6L319.8 265.2M281.3 231.7L281.0 233.0L281.0 234.0M370.6 204.5L369.9 205.7L368.7 206.0M356.4 265.3L355.7 267.9L355.6 270.3M336.1 299.0L335.7 300.2L336.0 301.3M367.1 239.2L365.5 241.4L365.6 242.3M292.7 303.4L290.0 305.5L287.7 304.8" fill="none" stroke="#f2eff4" stroke-width="0.9" stroke-linecap="round" stroke-linejoin="round"/>
<ellipse cx="289.7" cy="264.7" rx="1.5" ry="0.9" fill="#eeeaf0" opacity="1.0"/><ellipse cx="348.2" cy="251.3" rx="1.6" ry="1.2" fill="#eeeaf0" opacity="1.0"/><ellipse cx="382.6" cy="226.9" rx="0.7" ry="1.0" fill="#eeeaf0" opacity="1.0"/><ellipse cx="358.8" cy="259.6" rx="1.6" ry="1.7" fill="#eeeaf0" opacity="1.0"/><ellipse cx="374.7" cy="218.0" rx="1.2" ry="1.4" fill="#eeeaf0" opacity="1.0"/><ellipse cx="374.4" cy="216.2" rx="1.3" ry="0.7" fill="#eeeaf0" opacity="1.0"/><ellipse cx="354.7" cy="263.3" rx="0.7" ry="0.7" fill="#eeeaf0" opacity="1.0"/><ellipse cx="330.3" cy="254.6" rx="1.2" ry="1.7" fill="#eeeaf0" opacity="1.0"/><ellipse cx="381.0" cy="232.7" rx="0.7" ry="0.9" fill="#eeeaf0" opacity="1.0"/><ellipse cx="362.6" cy="229.2" rx="0.8" ry="1.3" fill="#eeeaf0" opacity="1.0"/><ellipse cx="348.9" cy="219.3" rx="0.7" ry="0.8" fill="#eeeaf0" opacity="1.0"/><ellipse cx="298.2" cy="240.0" rx="1.2" ry="1.6" fill="#eeeaf0" opacity="1.0"/><ellipse cx="310.8" cy="270.0" rx="1.3" ry="0.9" fill="#eeeaf0" opacity="1.0"/><ellipse cx="333.6" cy="308.5" rx="1.7" ry="1.1" fill="#eeeaf0" opacity="1.0"/><ellipse cx="363.8" cy="237.0" rx="1.5" ry="1.0" fill="#eeeaf0" opacity="1.0"/><ellipse cx="358.7" cy="208.7" rx="0.8" ry="1.3" fill="#eeeaf0" opacity="1.0"/><ellipse cx="296.1" cy="233.0" rx="1.3" ry="0.9" fill="#eeeaf0" opacity="1.0"/><ellipse cx="307.4" cy="290.6" rx="0.7" ry="0.6" fill="#eeeaf0" opacity="1.0"/><ellipse cx="364.5" cy="299.5" rx="1.3" ry="1.3" fill="#eeeaf0" opacity="1.0"/><ellipse cx="371.3" cy="258.6" rx="0.7" ry="1.0" fill="#eeeaf0" opacity="1.0"/><ellipse cx="321.0" cy="293.9" rx="1.3" ry="0.7" fill="#eeeaf0" opacity="1.0"/><ellipse cx="345.3" cy="292.9" rx="0.7" ry="1.6" fill="#eeeaf0" opacity="1.0"/><ellipse cx="278.9" cy="276.5" rx="1.0" ry="1.2" fill="#eeeaf0" opacity="1.0"/><ellipse cx="291.4" cy="219.2" rx="0.9" ry="1.5" fill="#eeeaf0" opacity="1.0"/><ellipse cx="365.1" cy="287.4" rx="1.0" ry="1.0" fill="#eeeaf0" opacity="1.0"/><ellipse cx="321.6" cy="217.3" rx="1.0" ry="1.2" fill="#eeeaf0" opacity="1.0"/><ellipse cx="304.6" cy="218.4" rx="0.7" ry="1.1" fill="#eeeaf0" opacity="1.0"/><ellipse cx="330.9" cy="233.9" rx="0.6" ry="1.1" fill="#eeeaf0" opacity="1.0"/><ellipse cx="378.3" cy="264.0" rx="1.1" ry="1.1" fill="#eeeaf0" opacity="1.0"/><ellipse cx="308.7" cy="265.5" rx="0.8" ry="1.6" fill="#eeeaf0" opacity="1.0"/><ellipse cx="322.4" cy="273.6" rx="0.7" ry="1.0" fill="#eeeaf0" opacity="1.0"/><ellipse cx="288.7" cy="220.6" rx="1.3" ry="1.3" fill="#eeeaf0" opacity="1.0"/><ellipse cx="342.4" cy="236.2" rx="1.5" ry="1.5" fill="#eeeaf0" opacity="1.0"/><ellipse cx="338.4" cy="241.5" rx="1.4" ry="0.9" fill="#eeeaf0" opacity="1.0"/><ellipse cx="297.9" cy="203.3" rx="1.4" ry="0.8" fill="#eeeaf0" opacity="1.0"/><ellipse cx="308.9" cy="253.1" rx="1.1" ry="1.5" fill="#eeeaf0" opacity="1.0"/><ellipse cx="286.6" cy="268.9" rx="1.2" ry="0.8" fill="#eeeaf0" opacity="1.0"/><ellipse cx="306.5" cy="243.4" rx="0.7" ry="0.7" fill="#eeeaf0" opacity="1.0"/><ellipse cx="289.1" cy="244.4" rx="1.5" ry="0.9" fill="#eeeaf0" opacity="1.0"/><ellipse cx="363.3" cy="297.1" rx="0.8" ry="1.5" fill="#eeeaf0" opacity="1.0"/><ellipse cx="324.0" cy="257.4" rx="1.5" ry="1.1" fill="#eeeaf0" opacity="1.0"/><ellipse cx="343.3" cy="216.2" rx="0.7" ry="1.5" fill="#eeeaf0" opacity="1.0"/><ellipse cx="330.9" cy="205.6" rx="1.4" ry="1.4" fill="#eeeaf0" opacity="1.0"/><ellipse cx="300.1" cy="277.7" rx="1.7" ry="1.2" fill="#eeeaf0" opacity="1.0"/><ellipse cx="369.5" cy="212.1" rx="0.7" ry="1.0" fill="#eeeaf0" opacity="1.0"/><ellipse cx="286.5" cy="309.7" rx="0.8" ry="1.1" fill="#eeeaf0" opacity="1.0"/><ellipse cx="280.2" cy="204.8" rx="1.4" ry="1.3" fill="#eeeaf0" opacity="1.0"/><ellipse cx="315.4" cy="291.6" rx="1.4" ry="1.2" fill="#eeeaf0" opacity="1.0"/><ellipse cx="357.7" cy="268.6" rx="0.7" ry="0.9" fill="#eeeaf0" opacity="1.0"/><ellipse cx="331.6" cy="233.6" rx="1.2" ry="1.3" fill="#eeeaf0" opacity="1.0"/><ellipse cx="305.9" cy="265.6" rx="0.9" ry="1.3" fill="#eeeaf0" opacity="1.0"/><ellipse cx="273.1" cy="306.9" rx="1.2" ry="1.0" fill="#eeeaf0" opacity="1.0"/><ellipse cx="320.7" cy="218.3" rx="1.6" ry="1.1" fill="#eeeaf0" opacity="1.0"/><ellipse cx="327.1" cy="213.6" rx="1.1" ry="0.9" fill="#eeeaf0" opacity="1.0"/><ellipse cx="321.9" cy="277.6" rx="1.4" ry="0.9" fill="#eeeaf0" opacity="1.0"/>
<rect x="400.7" y="199.1" width="112" height="112.3" filter="url(#hfc)"/>
<ellipse cx="487.6" cy="238.1" rx="1.5" ry="1.8" fill="#c476b8" opacity="0.8"/><ellipse cx="436.6" cy="295.2" rx="2.4" ry="2.1" fill="#c476b8" opacity="0.8"/><ellipse cx="480.3" cy="297.6" rx="1.7" ry="1.6" fill="#c476b8" opacity="0.8"/><ellipse cx="482.8" cy="293.6" rx="1.7" ry="2.9" fill="#c476b8" opacity="0.8"/><ellipse cx="455.4" cy="203.0" rx="2.6" ry="2.5" fill="#c476b8" opacity="0.8"/><ellipse cx="483.5" cy="221.3" rx="2.5" ry="2.6" fill="#c476b8" opacity="0.8"/><ellipse cx="432.0" cy="245.1" rx="1.8" ry="3.0" fill="#c476b8" opacity="0.8"/><ellipse cx="402.8" cy="254.7" rx="2.7" ry="2.9" fill="#c476b8" opacity="0.8"/><ellipse cx="457.5" cy="262.8" rx="2.5" ry="2.0" fill="#c476b8" opacity="0.8"/><ellipse cx="425.9" cy="282.8" rx="1.8" ry="2.9" fill="#c476b8" opacity="0.8"/><ellipse cx="506.5" cy="205.8" rx="2.5" ry="2.4" fill="#c476b8" opacity="0.8"/><ellipse cx="500.0" cy="300.3" rx="2.9" ry="2.6" fill="#c476b8" opacity="0.8"/><ellipse cx="478.5" cy="256.8" rx="2.4" ry="1.5" fill="#c476b8" opacity="0.8"/><ellipse cx="430.8" cy="247.8" rx="2.8" ry="1.9" fill="#c476b8" opacity="0.8"/><ellipse cx="447.7" cy="300.5" rx="1.4" ry="2.6" fill="#c476b8" opacity="0.8"/><ellipse cx="492.2" cy="208.2" rx="1.9" ry="1.5" fill="#c476b8" opacity="0.8"/><ellipse cx="454.2" cy="202.1" rx="2.3" ry="2.9" fill="#c476b8" opacity="0.8"/><ellipse cx="434.8" cy="227.1" rx="2.9" ry="1.8" fill="#c476b8" opacity="0.8"/><ellipse cx="502.6" cy="209.3" rx="1.7" ry="2.0" fill="#c476b8" opacity="0.8"/><ellipse cx="448.8" cy="240.8" rx="2.0" ry="2.7" fill="#c476b8" opacity="0.8"/><ellipse cx="404.3" cy="308.5" rx="1.9" ry="2.4" fill="#c476b8" opacity="0.8"/><ellipse cx="461.6" cy="249.2" rx="2.4" ry="2.9" fill="#c476b8" opacity="0.8"/><ellipse cx="413.4" cy="208.7" rx="2.0" ry="1.6" fill="#c476b8" opacity="0.8"/><ellipse cx="438.1" cy="204.0" rx="2.1" ry="1.9" fill="#c476b8" opacity="0.8"/><ellipse cx="476.2" cy="257.4" rx="1.5" ry="1.5" fill="#c476b8" opacity="0.8"/><ellipse cx="445.3" cy="205.8" rx="1.7" ry="2.9" fill="#c476b8" opacity="0.8"/><ellipse cx="492.7" cy="286.6" rx="2.6" ry="2.8" fill="#c476b8" opacity="0.8"/><ellipse cx="402.7" cy="264.1" rx="1.8" ry="2.7" fill="#c476b8" opacity="0.8"/><ellipse cx="440.6" cy="300.6" rx="1.4" ry="2.6" fill="#c476b8" opacity="0.8"/><ellipse cx="485.4" cy="222.7" rx="1.8" ry="2.8" fill="#c476b8" opacity="0.8"/><ellipse cx="408.0" cy="304.7" rx="2.8" ry="2.0" fill="#c476b8" opacity="0.8"/><ellipse cx="427.7" cy="220.6" rx="2.1" ry="2.8" fill="#c476b8" opacity="0.8"/><ellipse cx="458.1" cy="286.0" rx="2.4" ry="1.9" fill="#c476b8" opacity="0.8"/><ellipse cx="464.0" cy="277.9" rx="2.4" ry="2.7" fill="#c476b8" opacity="0.8"/><ellipse cx="488.8" cy="273.0" rx="2.3" ry="2.6" fill="#c476b8" opacity="0.8"/><ellipse cx="403.0" cy="208.9" rx="2.1" ry="1.7" fill="#c476b8" opacity="0.8"/><ellipse cx="416.5" cy="274.1" rx="1.9" ry="2.4" fill="#c476b8" opacity="0.8"/><ellipse cx="435.6" cy="272.6" rx="2.9" ry="2.0" fill="#c476b8" opacity="0.8"/><ellipse cx="509.7" cy="262.3" rx="2.1" ry="2.1" fill="#c476b8" opacity="0.8"/><ellipse cx="424.4" cy="265.4" rx="1.5" ry="2.5" fill="#c476b8" opacity="0.8"/><ellipse cx="421.6" cy="213.0" rx="1.9" ry="2.1" fill="#c476b8" opacity="0.8"/><ellipse cx="426.1" cy="205.1" rx="1.6" ry="1.8" fill="#c476b8" opacity="0.8"/><ellipse cx="417.5" cy="253.1" rx="1.7" ry="1.7" fill="#c476b8" opacity="0.8"/><ellipse cx="461.7" cy="218.0" rx="1.8" ry="1.4" fill="#c476b8" opacity="0.8"/><ellipse cx="474.3" cy="204.8" rx="2.0" ry="2.1" fill="#c476b8" opacity="0.8"/><ellipse cx="417.7" cy="202.8" rx="2.1" ry="1.7" fill="#c476b8" opacity="0.8"/><ellipse cx="501.9" cy="248.8" rx="2.5" ry="1.8" fill="#c476b8" opacity="0.8"/><ellipse cx="478.9" cy="236.8" rx="1.7" ry="2.9" fill="#c476b8" opacity="0.8"/><ellipse cx="496.4" cy="266.9" rx="1.5" ry="2.9" fill="#c476b8" opacity="0.8"/><ellipse cx="495.0" cy="303.6" rx="2.9" ry="1.8" fill="#c476b8" opacity="0.8"/>
<path fill="none" stroke="#f2eef4" stroke-width="0.95" stroke-linecap="round" d="M502.4 200.1L499.5 200.9M504.0 206.1L506.2 204.3M402.1 279.7L401.4 278.1M506.1 198.3L506.3 198.2M506.9 202.5L509.9 201.4M506.9 202.5L506.3 203.0M499.5 200.9L498.4 199.6M488.2 201.0L487.5 198.4M494.9 203.9L491.6 206.6M489.7 204.5L487.3 204.1M401.0 264.5L401.3 264.4M402.5 276.3L401.5 273.5M400.3 204.7L403.1 204.5M402.3 210.4L402.2 210.3M406.9 206.7L406.8 209.1M405.7 210.5L406.8 209.1M403.5 200.2L404.3 201.3M408.9 205.3L404.8 201.3M410.6 204.3L409.5 205.2M494.1 199.7L494.4 199.6M498.5 204.6L496.3 204.6M505.2 257.1L502.3 257.2M501.4 258.2L502.3 257.2M483.2 252.8L484.2 249.0M484.2 249.0L481.1 248.1M503.9 209.4L504.0 206.1M507.3 216.3L504.1 218.2M503.2 212.8L502.5 213.3M503.9 209.4L505.1 209.4M509.5 212.9L509.3 213.2M503.8 209.5L503.2 212.8M506.2 204.3L508.5 206.5M423.2 200.8L418.9 201.7M418.4 202.1L418.8 201.9M510.0 273.5L510.5 273.0M510.5 259.9L509.9 257.0M510.6 255.5L509.9 257.0M502.6 286.8L499.4 288.8M502.7 286.4L502.6 286.2M471.4 268.2L469.6 270.0M464.7 272.7L466.6 275.5M468.8 269.9L469.6 270.0M499.5 277.0L498.4 277.7M498.4 277.7L498.9 281.2M498.9 281.2L499.2 281.7M495.2 281.8L494.2 278.9M495.4 277.4L494.9 277.8M494.2 278.9L494.9 277.8M502.6 286.2L501.6 281.7M494.5 284.9L495.2 281.8M498.5 272.5L497.9 269.8M494.2 278.9L491.3 279.9M488.2 276.8L489.1 275.6M489.4 275.1L489.1 275.6M478.9 272.6L477.9 268.9M478.9 272.6L478.3 273.7M475.5 273.9L478.3 273.7M487.5 257.8L486.9 257.1M487.2 254.6L488.1 253.7M488.1 253.7L490.7 252.9M488.1 260.1L491.4 261.7M488.1 260.1L487.5 257.8M491.4 261.7L492.8 260.8M492.8 260.8L490.3 257.5M483.2 252.8L483.7 253.7M484.2 249.0L485.0 248.8M485.0 248.8L488.1 253.7M483.7 253.7L481.6 257.3M475.8 255.4L476.4 253.0M475.8 255.4L473.7 256.9M470.8 256.6L471.1 256.9M478.5 251.5L476.4 253.0M480.3 257.0L479.6 257.3M462.9 251.3L463.1 249.6M466.2 252.3L466.5 257.0M466.5 257.0L470.8 256.6M467.8 251.3L470.7 252.4M470.1 226.4L467.7 226.8M410.7 268.7L413.7 271.2M415.8 269.6L413.7 271.2M406.4 253.2L410.2 254.3M411.6 253.1L410.2 254.3M405.7 210.5L407.0 213.0M421.7 265.6L418.2 266.5M418.2 266.5L417.3 265.1M415.4 257.7L417.4 257.6M411.6 253.1L413.9 253.1M446.2 288.5L444.8 288.9M446.5 288.3L447.5 285.5M447.5 285.5L446.0 284.3M446.0 284.3L442.6 283.6M444.8 288.9L442.8 287.7M502.8 300.3L503.4 299.1M507.1 306.3L507.1 309.1M507.1 309.1L507.3 309.3M413.5 272.1L413.7 271.2M413.5 272.1L415.0 274.7M408.1 273.0L406.5 273.0M410.7 268.7L409.5 269.5M413.5 272.1L409.3 273.9M414.5 276.4L410.8 277.6M422.8 274.0L425.1 272.2M422.7 266.3L423.3 267.7M423.3 267.7L423.0 268.7M491.3 208.5L491.6 206.6M491.3 208.5L489.4 209.7M489.4 209.7L486.8 209.3M492.8 260.8L493.6 260.6M513.3 230.7L513.6 231.2M499.5 217.9L500.6 221.8M499.1 223.0L500.6 221.8M498.3 212.0L496.6 213.5M491.3 214.3L491.2 216.0M493.4 209.4L494.5 213.1M457.8 206.0L457.8 205.8M457.4 202.6L462.9 202.0M456.3 201.6L457.4 202.6M462.3 198.7L463.1 201.6M488.4 218.2L487.7 218.3M503.1 305.7L501.3 308.8M450.0 281.6L449.2 284.3M449.2 284.3L454.5 285.0M455.4 283.3L454.5 285.0M459.9 279.6L458.0 284.0M449.3 280.6L450.0 281.6M453.9 278.7L454.8 280.8M508.7 264.7L509.0 264.8M509.0 264.8L510.5 269.4M505.0 268.9L505.4 268.2M510.5 273.0L510.4 269.6M502.7 286.4L505.1 285.6M505.1 285.6L505.6 284.5M462.8 265.9L462.7 266.5M471.4 268.2L470.4 264.3M466.6 265.0L467.0 264.8M487.4 268.4L487.2 267.6M505.4 271.1L504.7 269.2M500.1 273.6L500.0 273.3M502.6 268.6L503.1 269.0M505.0 268.9L504.7 269.2M499.4 267.5L497.9 269.8M504.3 276.0L501.8 277.8M510.0 273.5L507.3 273.0M487.7 282.0L487.3 281.7M488.2 276.8L486.5 276.9M486.1 277.3L486.5 276.9M484.3 272.7L486.1 270.4M487.4 268.4L486.5 269.4M478.8 266.5L478.6 267.3M466.5 278.1L467.0 277.0M473.3 248.1L473.0 246.2M466.4 245.6L466.9 244.9M460.3 242.2L462.3 242.2M470.3 238.0L470.0 237.5M472.3 241.4L470.8 239.7M402.5 249.0L402.1 249.3M402.3 252.5L403.5 253.2M401.1 257.0L403.5 253.2M405.8 253.6L403.5 253.2M415.2 257.6L411.9 258.2M411.0 257.5L411.9 258.2M413.8 263.8L411.9 258.6M411.9 258.6L411.9 258.2M406.1 215.0L406.3 216.0M402.8 218.2L403.1 218.0M402.2 212.9L402.8 213.4M415.3 209.3L418.5 209.2M410.1 212.4L411.7 213.6M455.3 206.5L453.4 205.0M450.1 240.7L450.8 242.0M450.1 240.7L446.4 239.0M446.5 244.3L444.9 242.1M444.9 242.1L446.4 239.0M440.7 238.3L443.7 236.6M445.9 237.3L443.7 236.6M458.0 244.8L456.5 244.8M456.1 245.0L456.5 244.8M461.8 252.4L457.8 251.6M446.3 245.0L446.8 247.4M446.3 245.0L446.5 244.3M441.5 245.8L440.0 245.5M417.4 257.6L418.7 255.9M425.4 256.7L425.2 254.8M425.2 254.8L422.9 254.1M416.5 249.4L416.8 249.2M416.8 249.2L417.8 249.2M426.9 258.5L427.2 260.0M422.7 266.3L426.0 263.2M425.7 261.7L426.0 263.2M426.0 263.2L427.9 265.3M442.8 287.7L439.0 288.5M437.9 286.2L438.5 288.0M503.8 289.8L502.1 292.7M503.6 294.2L506.8 293.7M507.8 288.1L511.1 287.1M511.1 287.1L512.0 288.2M502.6 296.9L503.6 294.2M440.5 265.9L438.8 266.7M438.8 266.7L436.1 264.2M437.5 258.7L440.3 260.4M436.1 264.2L435.2 263.9M430.6 270.0L429.0 271.9M433.8 273.9L434.3 273.4M427.3 272.3L429.0 271.9M430.4 276.9L432.9 276.3M432.9 276.3L433.8 273.9M403.1 306.0L402.0 305.7M403.1 306.0L405.5 304.2M401.2 296.9L401.9 293.4M405.9 295.0L405.8 293.7M407.1 299.4L407.5 298.7M497.6 260.9L494.2 261.0M501.9 261.1L499.5 262.2M498.6 257.0L497.6 260.9M502.5 265.1L499.2 263.9M499.4 267.5L498.3 265.9M494.3 256.8L495.9 256.1M498.6 257.0L497.9 255.9M495.9 256.1L497.9 255.9M493.2 252.5L495.3 253.4M495.3 253.4L497.2 251.1M490.6 221.0L490.9 220.1M491.9 225.0L492.3 225.1M482.5 228.9L482.6 229.0M479.5 229.0L479.3 229.1M475.3 232.3L474.2 233.9M474.6 226.5L472.0 225.3M474.6 226.5L475.5 228.8M470.3 238.0L476.3 236.7M476.3 236.7L474.2 233.9M473.0 246.2L475.6 245.4M481.1 248.1L481.3 243.9M486.6 247.0L485.8 243.7M475.7 241.4L475.9 241.3M509.7 228.8L506.7 228.9M511.4 238.9L511.0 239.1M503.0 233.0L504.1 229.6M504.1 229.6L506.4 229.0M511.4 205.4L511.1 206.2M463.1 201.6L464.5 201.6M470.8 221.9L466.8 221.2M466.8 221.2L467.3 219.1M461.9 229.3L463.0 230.0M474.6 226.5L476.2 224.2M476.2 224.2L475.9 220.9M475.9 220.9L476.2 220.4M476.0 213.0L473.6 217.7M478.4 220.0L476.2 220.4M411.3 215.7L415.2 217.5M498.0 293.0L498.2 296.4M498.1 308.0L496.3 309.2M466.7 279.8L464.7 281.9M459.9 279.6L460.2 279.8M454.7 288.4L454.8 288.5M463.9 261.8L460.1 261.0M454.7 275.9L452.4 273.8M452.4 273.8L452.4 273.8M511.1 287.1L511.5 284.6M512.2 277.9L513.5 279.1M473.8 261.3L476.0 259.5M476.0 259.5L477.5 260.1M476.2 264.1L475.7 264.2M475.7 264.2L475.5 264.1M471.2 260.4L470.1 262.8M478.8 266.5L476.2 264.1M466.5 257.0L465.9 257.3M463.9 261.8L464.1 261.4M460.1 261.0L460.8 258.7M460.0 257.2L460.9 257.4M482.7 280.4L480.6 280.4M474.4 283.9L475.1 280.8M401.1 257.0L402.2 259.3M405.5 256.2L402.2 259.3M405.5 256.2L407.6 259.1M406.1 222.2L406.6 222.9M408.6 225.1L406.7 227.8M406.7 227.8L403.9 228.0M401.5 241.6L401.8 241.1M404.9 240.9L406.7 242.0M402.2 235.4L401.8 235.8M404.9 240.9L406.2 235.9M454.9 247.8L454.0 248.2M446.8 247.4L449.7 248.4M436.9 257.5L438.1 255.4M436.9 257.6L432.7 260.5M429.9 265.5L430.0 265.5M437.7 269.0L438.7 267.0M434.4 292.6L434.6 290.9M434.4 292.6L432.7 293.3M439.9 291.4L436.9 293.9M438.5 288.0L434.6 290.9M435.1 284.6L434.8 284.7M405.5 304.2L408.9 304.9M407.1 299.4L409.6 303.0M409.6 303.0L409.8 304.9M418.6 311.3L416.8 308.4M416.8 308.4L414.7 309.4M432.7 293.3L432.1 295.0M410.2 309.7L410.4 309.4M410.2 309.7L410.6 311.7M427.9 277.3L427.9 277.3M410.8 277.6L410.7 278.5M405.1 280.6L405.4 281.1M423.0 280.0L423.0 278.3M417.8 273.7L420.3 277.3M422.8 274.0L422.2 277.4M420.3 277.3L422.2 277.4M437.1 278.0L437.7 280.3M435.1 284.6L435.9 281.9M438.2 276.0L442.1 276.4M501.4 246.4L499.0 245.9M499.0 245.9L499.7 241.4M504.3 238.8L503.4 238.8M494.7 247.0L491.3 245.2M496.1 245.9L494.8 242.5M485.8 243.7L485.9 243.6M489.9 233.1L486.5 234.7M482.5 228.9L483.6 224.8M504.3 238.8L505.8 243.0M507.3 238.3L507.5 241.6M507.5 241.6L509.9 242.0M510.8 244.1L509.9 242.0M491.8 229.4L491.2 231.2M489.9 233.1L491.3 231.6M486.5 234.7L485.8 233.5M498.1 229.1L498.3 232.4M475.9 241.3L475.9 241.3M503.0 228.3L498.5 228.7M503.0 226.0L499.1 225.3M504.3 219.9L505.9 220.3M466.0 210.1L466.1 210.0M465.9 215.0L463.7 214.5M470.2 214.2L470.8 216.4M466.0 221.6L464.1 221.3M483.6 224.8L481.9 222.6M481.5 221.5L481.5 221.5M482.9 216.6L487.2 218.7M481.6 221.9L481.5 221.5M483.1 214.3L482.9 216.6M481.5 213.2L478.2 213.5M483.1 214.3L481.5 213.2M477.8 213.7L478.2 213.5M418.7 209.2L418.5 209.2M415.5 217.1L418.0 215.5M483.0 306.4L483.8 308.7M489.7 307.4L489.1 308.2M494.0 310.1L493.4 310.9M495.3 309.1L494.0 310.1M485.9 299.4L486.1 295.1M487.7 282.0L488.4 284.8M489.5 300.1L490.6 300.9M489.7 307.4L490.1 305.8M483.3 304.9L485.4 304.4M499.8 301.4L498.2 296.4M445.9 303.4L446.6 302.2M446.6 302.2L449.8 302.3M456.4 265.4L455.5 263.5M455.7 261.2L455.2 261.7M451.0 261.0L451.1 261.0M447.0 264.1L448.1 265.5M451.5 266.1L448.1 265.5M451.5 266.1L451.8 265.2M452.4 273.8L455.5 271.2M452.4 273.8L450.2 270.0M452.7 268.1L450.2 270.0M454.7 275.9L457.5 275.4M483.1 300.2L482.5 301.0M473.5 307.9L474.0 305.0M455.8 232.2L458.0 233.6M458.2 234.1L458.0 233.6M461.9 229.3L461.3 229.2M445.6 231.9L443.3 231.7M406.3 264.8L401.9 263.7M407.6 259.1L406.8 261.1M402.0 230.5L401.7 230.5M402.2 235.4L402.8 231.7M402.8 231.7L402.0 230.5M409.8 217.5L408.6 217.6M413.8 223.2L410.3 224.3M406.1 222.2L407.0 220.9M462.0 219.4L458.8 220.7M458.4 221.2L457.8 224.2M445.2 213.8L449.8 212.7M451.1 201.7L448.5 205.5M448.5 205.5L450.4 207.5M450.9 207.4L450.4 207.5M418.8 201.9L422.0 205.5M424.1 203.6L422.0 205.5M418.7 209.2L422.1 208.9M422.7 213.4L422.2 209.0M430.9 198.8L430.7 199.3M427.6 200.3L427.2 200.8M424.1 203.6L427.0 204.1M435.9 200.8L436.3 203.5M436.0 208.5L436.5 208.4M439.1 204.4L436.3 203.5M430.8 209.2L431.7 204.4M447.0 264.1L446.4 263.9M453.3 251.8L450.1 251.6M449.7 248.4L449.6 251.3M437.9 247.5L435.0 248.5M437.8 253.3L439.5 251.7M438.6 246.1L437.9 247.5M438.1 255.4L437.8 253.3M425.2 254.8L426.4 253.7M422.0 249.2L423.3 248.2M426.9 258.5L430.9 255.1M431.7 255.6L431.2 255.1M430.9 255.1L431.2 255.1M406.2 235.9L407.5 235.0M422.4 243.7L423.3 245.6M423.3 245.6L427.2 244.5M422.3 243.7L422.4 243.7M428.6 244.7L427.2 244.5M428.6 244.7L429.5 242.8M409.8 304.9L410.6 305.5M410.4 309.4L410.6 305.5M439.2 308.8L438.2 308.0M438.2 308.0L437.9 306.4M427.6 296.1L426.2 301.2M433.1 284.3L431.0 282.4M431.7 280.6L431.0 282.4M427.0 284.3L427.6 284.1M406.9 281.9L407.0 282.3M410.6 284.7L407.0 282.3M406.1 293.4L406.7 288.4M411.3 290.1L409.4 293.4M423.4 289.1L423.4 284.0M423.7 289.6L423.4 289.1M423.0 280.0L422.4 282.6M411.6 298.4L414.5 296.7M415.6 302.1L415.5 297.4M417.1 283.7L415.2 283.4M418.0 287.2L416.2 289.2M415.1 289.1L413.7 290.0M414.5 296.7L414.5 295.5M418.4 282.3L419.5 277.6M417.1 283.7L418.1 282.4M418.0 287.2L418.4 287.2M420.3 277.3L419.5 277.6M446.5 272.7L442.9 272.6M444.0 268.3L442.8 271.0M505.2 257.1L505.8 254.0M510.6 255.5L509.5 253.0M505.8 254.0L509.2 253.0M501.7 252.4L502.1 252.2M502.1 252.2L502.1 252.1M499.0 245.9L498.7 246.1M501.9 236.8L498.2 238.3M498.6 232.7L497.7 236.9M478.7 237.1L482.1 236.2M483.6 237.6L482.4 239.4M486.0 237.2L483.6 237.6M507.6 222.1L510.5 221.3M510.9 225.6L510.9 221.5M510.9 221.5L510.5 221.3M468.5 205.6L469.0 205.4M498.0 293.0L494.4 293.5M495.4 288.8L494.9 288.2M499.0 303.2L499.1 302.3M490.6 300.9L493.4 300.8M494.9 298.2L494.4 300.1M498.1 308.0L498.4 304.3M464.9 309.2L467.9 310.5M467.0 304.6L468.7 305.3M462.8 292.5L463.1 290.4M463.1 290.4L462.4 289.0M462.4 289.0L462.0 289.0M462.0 289.0L456.8 292.1M463.1 293.4L462.8 292.5M463.4 287.5L462.4 289.0M454.8 288.5L455.0 290.5M441.5 298.2L441.5 297.0M438.5 296.0L436.9 293.9M438.5 296.0L441.5 297.0M446.6 294.6L446.9 294.7M446.9 294.7L447.3 298.0M455.0 290.5L451.0 293.4M450.1 293.1L451.0 293.4M459.9 297.4L463.1 300.0M454.6 296.6L452.6 296.9M462.4 310.6L463.3 310.2M459.9 304.7L460.7 304.7M460.7 304.7L463.7 309.7M457.2 301.6L459.9 304.7M467.0 304.6L466.4 303.5M454.3 307.3L454.3 307.5M474.0 284.3L476.6 287.9M481.2 286.4L479.6 285.8M483.1 300.2L483.0 298.3M483.0 298.3L485.9 294.8M475.5 299.7L475.9 304.3M478.9 296.5L478.9 299.7M477.6 295.3L474.7 297.6M475.5 299.7L474.8 299.3M449.6 232.7L451.3 233.8M451.3 233.8L454.5 231.1M407.3 229.4L410.0 230.7M409.0 234.1L407.6 234.7M445.5 202.3L443.7 201.1M443.7 201.1L443.7 201.0M443.7 201.0L443.5 198.2M440.0 201.5L443.7 201.0M445.8 203.9L447.4 205.4M443.5 212.9L444.1 213.1M443.5 212.9L442.5 208.5M458.7 227.7L457.5 225.4M458.3 209.8L458.8 213.6M427.4 209.5L430.4 209.4M430.4 209.4L430.0 214.2M426.2 208.7L427.4 209.5M433.6 211.0L432.1 215.1M438.6 212.3L435.6 212.6M432.0 215.1L432.1 215.1M432.0 215.1L430.0 214.2M430.5 250.4L429.5 249.8M431.7 252.6L430.5 250.4M435.0 248.5L434.1 248.0M435.3 243.0L433.8 243.4M433.8 243.4L433.1 246.2M433.8 243.4L431.0 241.7M414.3 240.2L412.8 241.5M411.1 246.7L410.2 241.6M414.4 233.9L414.7 234.1M415.1 236.3L414.7 236.8M429.4 308.8L429.4 308.7M427.6 306.2L429.4 308.7M423.1 308.2L426.2 305.5M427.6 309.5L429.4 308.8M431.4 303.2L432.3 305.7M433.8 305.9L432.3 305.7M417.2 302.6L418.8 302.3M418.8 302.3L419.3 302.7M423.1 308.2L420.8 305.7M416.8 308.4L416.8 308.3M438.6 302.6L436.9 304.3M403.2 287.6L403.2 287.7M407.0 282.3L406.5 284.0M406.7 288.4L406.4 288.2M423.7 289.6L423.1 290.8M422.3 292.0L422.5 295.6M416.2 289.2L417.8 291.5M414.5 295.5L417.4 293.5M423.1 290.8L422.3 292.0M506.2 245.5L505.0 249.1M505.0 249.1L505.0 249.2M505.0 249.2L509.2 249.2M503.0 250.3L505.0 249.1M473.4 207.9L474.7 211.7M476.0 213.0L475.1 211.9M479.5 209.1L478.5 208.3M450.1 228.6L449.6 228.9M442.2 232.6L440.0 232.1M440.0 232.1L438.2 228.3M436.1 238.6L437.8 237.2M431.0 234.9L431.3 236.3M436.1 241.7L436.1 238.6M490.4 290.6L486.9 289.2M493.5 292.3L490.5 291.1M491.5 284.8L490.4 290.6M486.1 288.5L486.9 289.2M450.9 299.0L454.4 303.0M454.4 303.0L455.5 302.1M452.8 305.2L454.4 303.0M447.3 298.0L451.0 298.6M450.5 311.0L447.5 309.1M447.4 309.2L447.5 309.1M447.5 309.1L447.5 309.1M447.2 305.4L447.5 309.1M472.2 290.3L476.3 293.3M485.4 288.7L483.2 293.1M481.7 287.2L479.4 291.3M486.1 288.5L485.4 288.7M477.6 295.3L477.3 293.3M466.4 303.5L466.8 301.0M465.8 299.9L466.8 301.0M451.2 222.7L446.3 220.2M450.7 217.5L447.8 217.9M446.3 220.2L447.8 217.9M445.1 220.8L446.3 220.2M458.6 215.2L458.5 214.1M455.7 217.3L456.4 216.7M419.7 238.2L422.5 236.9M422.6 236.7L422.5 236.9M422.7 233.5L421.6 232.9M422.9 243.0L422.5 236.9M414.7 234.1L418.7 230.9M418.7 230.9L421.6 232.9M426.2 238.5L422.6 236.7M474.2 200.9L473.7 201.7M475.8 205.0L477.6 205.2M477.6 205.2L479.4 204.0M470.4 201.2L473.7 201.7M483.7 204.9L479.4 204.0M445.1 220.8L443.7 220.8M442.2 224.2L443.7 220.8M437.3 228.3L434.6 229.1M435.0 223.8L432.2 224.8M437.3 228.3L438.2 228.3M430.5 233.9L430.6 230.2M470.1 299.9L470.5 296.7M471.1 292.0L468.3 292.3M418.7 230.9L418.7 230.6M443.7 220.8L443.4 220.4M430.6 230.2L429.7 229.7M429.3 226.1L429.7 229.7M426.3 220.6L423.4 220.7M423.6 218.6L423.4 220.7M430.7 218.1L427.7 217.4M474.7 297.6L473.7 296.6M470.5 296.7L471.3 296.1M418.7 225.1L419.7 221.2M419.6 217.6L420.2 221.0M423.4 220.7L422.5 221.2M422.5 221.2L420.2 221.0M438.2 223.0L438.9 221.3M438.2 223.0L436.1 222.6M438.9 221.3L438.2 218.3M443.4 220.4L438.9 221.3"/>
<path d="M426.0 245.6L424.5 246.6L423.5 246.4M448.9 292.1L450.5 293.2L451.6 293.5M504.1 261.0L501.9 262.1L501.3 263.2M504.5 223.2L507.1 223.2L508.6 222.7M415.0 253.3L417.4 254.5L418.7 253.3M466.1 264.5L465.0 266.2L463.1 267.2M501.6 262.5L498.6 263.0L497.7 263.0M484.8 236.3L483.1 237.8L483.3 238.7M414.8 207.1L417.1 207.2L418.4 207.2M426.5 206.2L424.4 207.5L422.5 206.8M444.3 206.5L446.2 209.3L445.8 210.8M430.1 262.0L428.2 263.5L427.3 264.5M427.7 235.3L427.9 236.7L426.2 238.2M421.9 224.1L422.6 226.4L423.8 227.3M481.7 268.3L479.4 269.8L477.6 270.9M478.8 251.8L482.0 251.9L483.9 251.9M440.6 251.4L442.1 253.0L442.3 254.8M404.6 234.0L407.2 235.6L407.1 236.9M436.2 300.2L434.3 301.8L433.8 303.1M419.4 305.8L420.9 307.8L421.6 309.2M458.2 252.1L456.0 254.3L453.7 253.8M484.9 240.3L488.1 241.6L489.3 241.7M497.9 241.1L498.9 243.1L498.8 244.8M426.0 245.2L425.3 246.7L426.0 248.3M497.6 296.8L497.8 298.4L498.4 299.8M485.8 272.6L484.2 274.7L482.9 274.6M407.2 234.4L409.1 236.3L410.1 238.0M490.7 260.8L492.0 262.5L493.6 262.9M413.0 291.5L414.2 294.7L414.2 295.8M469.4 291.9L468.0 293.9L467.2 294.6M446.8 201.1L447.3 202.7L447.9 203.7M501.2 243.1L502.9 243.4L503.8 243.0M459.6 253.7L459.3 255.4L457.8 256.9M481.9 249.3L484.3 250.7L484.6 251.6M475.7 308.0L474.5 308.7L472.7 309.7M508.7 213.0L509.9 213.6L510.3 215.4M417.1 199.8L416.2 201.3L416.5 203.1M489.8 201.1L490.7 202.9L489.5 204.1M457.6 237.3L460.1 239.1L461.6 238.3M507.2 271.9L506.1 274.6L505.8 276.3M410.0 301.1L407.2 302.5L406.5 303.1M410.8 298.4L411.8 301.1L412.9 302.0M433.5 242.7L433.6 245.1L433.0 247.2M462.6 297.4L464.7 298.6L464.9 299.9M488.1 214.0L487.9 215.3L487.7 217.0M488.3 272.3L490.3 273.8L490.9 275.2M472.0 244.3L472.1 247.8L472.4 249.4M422.3 213.8L419.6 215.9L418.3 217.1M488.9 206.3L488.0 209.5L487.9 210.4M450.9 258.6L448.9 260.3L448.1 260.5M455.3 225.2L456.5 227.3L457.5 227.8M418.9 217.9L419.2 221.0L419.6 222.4M473.0 255.3L472.8 257.8L473.5 258.8M459.0 241.3L459.1 244.5L458.3 245.6M493.1 245.7L494.3 247.0L495.2 248.8M494.1 307.6L492.6 307.9L491.5 309.8M495.7 201.3L495.1 203.6L494.7 204.5M475.7 203.8L476.3 205.1L477.0 205.7M507.5 289.3L507.1 290.8L506.0 292.4M457.6 303.7L455.9 304.3L454.5 304.2M510.5 304.3L510.4 307.2L509.3 307.7M446.4 219.4L448.4 219.9L448.9 220.6M408.4 288.6L410.5 289.8L411.9 290.7M460.6 252.3L460.8 255.4L462.6 256.4M490.3 283.0L491.6 283.7L492.1 286.1M425.5 281.0L422.7 282.3L420.8 282.4M469.1 206.8L471.7 207.2L472.5 208.9M408.0 286.2L410.4 287.5L411.0 289.4M405.2 248.5L405.6 250.0L404.7 251.0M509.6 214.8L512.7 216.5L512.2 216.2M453.0 235.6L456.0 236.7L457.4 237.2M474.9 252.0L475.4 253.1L475.9 253.9M436.3 270.5L439.0 271.6L439.7 272.2M446.7 263.0L448.0 265.6L448.8 265.9M417.1 272.8L415.6 275.5L414.0 277.1M468.4 297.4L471.6 297.6L472.5 296.8M505.0 210.3L505.7 211.4L506.2 213.0M443.1 255.9L444.0 259.1L446.0 260.2M474.0 275.2L474.5 276.8L475.6 277.7M470.0 201.8L472.2 202.9L472.3 205.2M445.2 230.8L442.7 233.2L441.9 233.6M475.7 274.5L476.0 277.4L476.8 278.8M494.3 269.3L493.8 270.5L491.4 270.9M494.1 238.7L491.3 238.8L490.0 239.8M456.7 260.9L457.4 262.9L458.4 263.3M435.4 236.3L438.6 237.4L439.7 236.9M460.0 256.4L462.5 256.5L464.1 255.9M499.5 304.8L498.5 307.2L497.5 307.8M428.9 225.8L427.7 226.1L426.9 226.9M431.3 214.5L433.9 216.3L434.5 217.6M467.4 242.4L469.7 244.6L472.1 244.7M430.6 228.5L430.3 230.5L430.4 232.5M440.6 216.6L440.5 218.0L441.5 219.1M508.9 287.2L506.8 289.6L505.3 290.4M488.7 227.8L485.6 228.4L483.5 228.7M461.2 219.4L461.9 221.0L463.1 221.2M445.0 260.8L443.5 263.2L443.1 265.5M488.3 306.5L487.5 308.3L486.0 308.5M505.7 255.7L507.0 257.1L509.1 257.5M432.1 234.8L430.0 235.9L429.1 235.1" fill="none" stroke="#f2eff4" stroke-width="0.9" stroke-linecap="round" stroke-linejoin="round"/>
<ellipse cx="436.1" cy="224.8" rx="0.8" ry="1.5" fill="#eeeaf0" opacity="1.0"/><ellipse cx="496.0" cy="211.5" rx="0.9" ry="1.3" fill="#eeeaf0" opacity="1.0"/><ellipse cx="478.8" cy="248.5" rx="1.1" ry="1.4" fill="#eeeaf0" opacity="1.0"/><ellipse cx="450.0" cy="306.0" rx="0.9" ry="0.7" fill="#eeeaf0" opacity="1.0"/><ellipse cx="429.6" cy="206.3" rx="1.6" ry="1.3" fill="#eeeaf0" opacity="1.0"/><ellipse cx="423.3" cy="204.2" rx="1.5" ry="1.0" fill="#eeeaf0" opacity="1.0"/><ellipse cx="424.7" cy="244.9" rx="0.8" ry="0.7" fill="#eeeaf0" opacity="1.0"/><ellipse cx="404.1" cy="201.0" rx="1.3" ry="1.0" fill="#eeeaf0" opacity="1.0"/><ellipse cx="429.9" cy="250.8" rx="1.3" ry="0.9" fill="#eeeaf0" opacity="1.0"/><ellipse cx="415.8" cy="274.1" rx="0.9" ry="1.5" fill="#eeeaf0" opacity="1.0"/><ellipse cx="457.9" cy="308.5" rx="0.8" ry="0.7" fill="#eeeaf0" opacity="1.0"/><ellipse cx="419.1" cy="307.8" rx="1.4" ry="1.3" fill="#eeeaf0" opacity="1.0"/><ellipse cx="439.3" cy="216.8" rx="0.6" ry="1.5" fill="#eeeaf0" opacity="1.0"/><ellipse cx="453.0" cy="309.2" rx="0.6" ry="1.5" fill="#eeeaf0" opacity="1.0"/><ellipse cx="419.8" cy="309.0" rx="0.8" ry="0.8" fill="#eeeaf0" opacity="1.0"/><ellipse cx="452.8" cy="257.4" rx="0.8" ry="1.4" fill="#eeeaf0" opacity="1.0"/><ellipse cx="501.5" cy="208.8" rx="0.8" ry="1.4" fill="#eeeaf0" opacity="1.0"/><ellipse cx="408.3" cy="275.0" rx="1.4" ry="1.6" fill="#eeeaf0" opacity="1.0"/><ellipse cx="461.2" cy="240.9" rx="0.7" ry="0.9" fill="#eeeaf0" opacity="1.0"/><ellipse cx="418.5" cy="256.9" rx="0.6" ry="1.4" fill="#eeeaf0" opacity="1.0"/><ellipse cx="510.7" cy="216.2" rx="1.3" ry="1.6" fill="#eeeaf0" opacity="1.0"/><ellipse cx="426.2" cy="300.5" rx="1.4" ry="1.4" fill="#eeeaf0" opacity="1.0"/><ellipse cx="429.8" cy="277.8" rx="1.5" ry="1.6" fill="#eeeaf0" opacity="1.0"/><ellipse cx="463.8" cy="211.0" rx="1.3" ry="1.0" fill="#eeeaf0" opacity="1.0"/><ellipse cx="498.5" cy="238.5" rx="1.3" ry="1.2" fill="#eeeaf0" opacity="1.0"/><ellipse cx="415.8" cy="280.8" rx="1.1" ry="1.2" fill="#eeeaf0" opacity="1.0"/><ellipse cx="449.0" cy="203.3" rx="0.7" ry="1.2" fill="#eeeaf0" opacity="1.0"/><ellipse cx="447.2" cy="246.1" rx="0.8" ry="1.2" fill="#eeeaf0" opacity="1.0"/><ellipse cx="450.3" cy="256.3" rx="1.3" ry="1.7" fill="#eeeaf0" opacity="1.0"/><ellipse cx="480.6" cy="268.5" rx="1.4" ry="0.9" fill="#eeeaf0" opacity="1.0"/><ellipse cx="485.0" cy="228.0" rx="1.3" ry="0.8" fill="#eeeaf0" opacity="1.0"/><ellipse cx="490.1" cy="238.6" rx="1.6" ry="1.5" fill="#eeeaf0" opacity="1.0"/><ellipse cx="505.1" cy="284.6" rx="1.0" ry="0.8" fill="#eeeaf0" opacity="1.0"/><ellipse cx="501.0" cy="205.8" rx="1.7" ry="0.8" fill="#eeeaf0" opacity="1.0"/><ellipse cx="466.9" cy="256.8" rx="1.4" ry="0.8" fill="#eeeaf0" opacity="1.0"/><ellipse cx="443.2" cy="264.4" rx="1.5" ry="1.2" fill="#eeeaf0" opacity="1.0"/><ellipse cx="475.8" cy="228.9" rx="1.1" ry="1.3" fill="#eeeaf0" opacity="1.0"/><ellipse cx="440.3" cy="287.8" rx="1.5" ry="0.6" fill="#eeeaf0" opacity="1.0"/><ellipse cx="449.4" cy="225.1" rx="1.3" ry="1.6" fill="#eeeaf0" opacity="1.0"/><ellipse cx="433.3" cy="237.3" rx="1.1" ry="1.2" fill="#eeeaf0" opacity="1.0"/><ellipse cx="455.0" cy="254.6" rx="1.5" ry="1.0" fill="#eeeaf0" opacity="1.0"/><ellipse cx="458.4" cy="221.0" rx="1.0" ry="1.1" fill="#eeeaf0" opacity="1.0"/><ellipse cx="506.1" cy="282.8" rx="0.9" ry="1.6" fill="#eeeaf0" opacity="1.0"/><ellipse cx="490.2" cy="295.7" rx="1.4" ry="0.8" fill="#eeeaf0" opacity="1.0"/><ellipse cx="436.7" cy="212.4" rx="1.3" ry="1.5" fill="#eeeaf0" opacity="1.0"/><ellipse cx="429.2" cy="260.3" rx="0.7" ry="1.1" fill="#eeeaf0" opacity="1.0"/><ellipse cx="404.9" cy="221.7" rx="1.3" ry="1.6" fill="#eeeaf0" opacity="1.0"/><ellipse cx="490.8" cy="274.0" rx="1.0" ry="0.7" fill="#eeeaf0" opacity="1.0"/><ellipse cx="495.5" cy="281.9" rx="1.4" ry="0.9" fill="#eeeaf0" opacity="1.0"/><ellipse cx="455.9" cy="233.6" rx="1.0" ry="1.3" fill="#eeeaf0" opacity="1.0"/><ellipse cx="477.0" cy="236.1" rx="1.4" ry="0.8" fill="#eeeaf0" opacity="1.0"/><ellipse cx="499.7" cy="256.0" rx="0.7" ry="0.9" fill="#eeeaf0" opacity="1.0"/><ellipse cx="455.1" cy="235.2" rx="1.3" ry="1.2" fill="#eeeaf0" opacity="1.0"/><ellipse cx="452.0" cy="280.2" rx="0.9" ry="0.9" fill="#eeeaf0" opacity="1.0"/><ellipse cx="496.0" cy="245.6" rx="1.6" ry="1.7" fill="#eeeaf0" opacity="1.0"/><ellipse cx="486.0" cy="205.3" rx="0.9" ry="1.5" fill="#eeeaf0" opacity="1.0"/><ellipse cx="421.6" cy="307.4" rx="0.6" ry="1.6" fill="#eeeaf0" opacity="1.0"/><ellipse cx="435.7" cy="254.8" rx="1.2" ry="0.7" fill="#eeeaf0" opacity="1.0"/><ellipse cx="471.5" cy="265.4" rx="1.6" ry="1.0" fill="#eeeaf0" opacity="1.0"/><ellipse cx="509.2" cy="205.4" rx="1.7" ry="1.6" fill="#eeeaf0" opacity="1.0"/><ellipse cx="455.2" cy="302.6" rx="0.9" ry="1.1" fill="#eeeaf0" opacity="1.0"/><ellipse cx="432.7" cy="303.1" rx="0.8" ry="0.7" fill="#eeeaf0" opacity="1.0"/><ellipse cx="403.2" cy="264.5" rx="1.4" ry="1.1" fill="#eeeaf0" opacity="1.0"/><ellipse cx="419.3" cy="299.6" rx="1.6" ry="0.7" fill="#eeeaf0" opacity="1.0"/><ellipse cx="413.5" cy="270.9" rx="1.0" ry="0.7" fill="#eeeaf0" opacity="1.0"/><ellipse cx="469.4" cy="299.4" rx="0.9" ry="1.3" fill="#eeeaf0" opacity="1.0"/><ellipse cx="487.1" cy="263.3" rx="1.0" ry="1.3" fill="#eeeaf0" opacity="1.0"/><ellipse cx="419.5" cy="290.3" rx="0.9" ry="0.9" fill="#eeeaf0" opacity="1.0"/><ellipse cx="427.1" cy="293.1" rx="1.4" ry="0.8" fill="#eeeaf0" opacity="1.0"/><ellipse cx="505.3" cy="263.4" rx="0.9" ry="1.0" fill="#eeeaf0" opacity="1.0"/><ellipse cx="444.2" cy="225.4" rx="1.4" ry="1.4" fill="#eeeaf0" opacity="1.0"/><ellipse cx="491.8" cy="249.0" rx="1.7" ry="1.3" fill="#eeeaf0" opacity="1.0"/><ellipse cx="409.7" cy="216.0" rx="1.0" ry="1.2" fill="#eeeaf0" opacity="1.0"/><ellipse cx="416.9" cy="257.8" rx="1.7" ry="1.3" fill="#eeeaf0" opacity="1.0"/><ellipse cx="473.4" cy="230.8" rx="0.7" ry="1.2" fill="#eeeaf0" opacity="1.0"/><ellipse cx="455.8" cy="279.9" rx="1.7" ry="1.1" fill="#eeeaf0" opacity="1.0"/><ellipse cx="410.0" cy="282.6" rx="0.6" ry="0.8" fill="#eeeaf0" opacity="1.0"/><ellipse cx="493.2" cy="307.4" rx="0.8" ry="0.9" fill="#eeeaf0" opacity="1.0"/><ellipse cx="505.0" cy="263.3" rx="1.5" ry="1.5" fill="#eeeaf0" opacity="1.0"/><ellipse cx="413.7" cy="270.6" rx="1.5" ry="1.3" fill="#eeeaf0" opacity="1.0"/><ellipse cx="471.2" cy="246.8" rx="1.0" ry="1.3" fill="#eeeaf0" opacity="1.0"/><ellipse cx="413.9" cy="283.7" rx="1.2" ry="0.7" fill="#eeeaf0" opacity="1.0"/><ellipse cx="456.1" cy="244.9" rx="0.8" ry="1.3" fill="#eeeaf0" opacity="1.0"/><ellipse cx="460.0" cy="308.8" rx="0.8" ry="1.2" fill="#eeeaf0" opacity="1.0"/><ellipse cx="411.5" cy="303.6" rx="1.4" ry="1.5" fill="#eeeaf0" opacity="1.0"/><ellipse cx="442.0" cy="291.0" rx="0.7" ry="0.9" fill="#eeeaf0" opacity="1.0"/><ellipse cx="416.5" cy="229.3" rx="1.0" ry="0.7" fill="#eeeaf0" opacity="1.0"/><ellipse cx="475.7" cy="285.8" rx="1.0" ry="1.3" fill="#eeeaf0" opacity="1.0"/><ellipse cx="435.5" cy="260.5" rx="0.7" ry="1.7" fill="#eeeaf0" opacity="1.0"/><ellipse cx="416.6" cy="252.3" rx="0.8" ry="0.7" fill="#eeeaf0" opacity="1.0"/>
<ellipse cx="165.2" cy="204.5" rx="2.8" ry="2.2" fill="#dcd8dc"/>
<ellipse cx="170.1" cy="223.4" rx="4.4" ry="3.0" fill="#dcd8dc"/>
<ellipse cx="183.3" cy="217.6" rx="3.3" ry="2.2" fill="#dcd8dc"/>
<ellipse cx="182.8" cy="227.5" rx="2.8" ry="2.2" fill="#dcd8dc"/>
<ellipse cx="200.2" cy="226.4" rx="2.8" ry="2.2" fill="#dcd8dc"/>
<ellipse cx="182.2" cy="241.8" rx="2.2" ry="2.2" fill="#dcd8dc"/>
<ellipse cx="152.6" cy="248.3" rx="2.2" ry="2.2" fill="#dcd8dc"/>
<ellipse cx="171.2" cy="252.8" rx="2.2" ry="2.2" fill="#dcd8dc"/>
<ellipse cx="407.6" cy="203.0" rx="4.3" ry="3.7" fill="#dcd8dc"/>
<ellipse cx="406.0" cy="214.3" rx="4.4" ry="4.3" fill="#dcd8dc"/>
<ellipse cx="440.5" cy="212.7" rx="7.7" ry="2.7" fill="#dcd8dc"/>
<ellipse cx="440.0" cy="208.3" rx="4.0" ry="2.7" fill="#dcd8dc"/>
<ellipse cx="430.4" cy="233.8" rx="2.4" ry="3.6" fill="#dcd8dc"/>
<ellipse cx="415.9" cy="237.9" rx="2.2" ry="3.3" fill="#dcd8dc"/>
<ellipse cx="444.4" cy="247.8" rx="2.7" ry="8.2" fill="#dcd8dc"/>
<ellipse cx="456.8" cy="228.5" rx="5.2" ry="4.5" fill="#dcd8dc"/>
<ellipse cx="426.1" cy="251.5" rx="2.4" ry="4.5" fill="#dcd8dc"/>
<ellipse cx="465.3" cy="211.4" rx="2.7" ry="3.0" fill="#dcd8dc"/>
<ellipse cx="473.6" cy="230.2" rx="2.8" ry="3.2" fill="#dcd8dc"/>
<ellipse cx="494.4" cy="233.6" rx="3.8" ry="3.9" fill="#dcd8dc"/>
<ellipse cx="502.4" cy="210.8" rx="2.5" ry="3.0" fill="#dcd8dc"/>
<ellipse cx="510.1" cy="243.9" rx="2.6" ry="3.2" fill="#dcd8dc"/>
<ellipse cx="477.6" cy="251.1" rx="3.6" ry="3.9" fill="#dcd8dc"/>
<ellipse cx="458.2" cy="253.8" rx="2.2" ry="2.2" fill="#dcd8dc"/>
<ellipse cx="413.1" cy="258.9" rx="3.2" ry="3.8" fill="#dcd8dc"/>
<ellipse cx="427.7" cy="268.7" rx="3.0" ry="9.3" fill="#dcd8dc"/>
<ellipse cx="409.0" cy="285.1" rx="4.2" ry="3.8" fill="#dcd8dc"/>
<ellipse cx="443.9" cy="292.9" rx="3.2" ry="5.0" fill="#dcd8dc"/>
<ellipse cx="445.5" cy="268.7" rx="2.7" ry="2.7" fill="#dcd8dc"/>
<ellipse cx="452.6" cy="286.8" rx="4.4" ry="4.4" fill="#dcd8dc"/>
<ellipse cx="449.9" cy="307.3" rx="7.1" ry="4.1" fill="#dcd8dc"/>
<ellipse cx="428.5" cy="301.6" rx="3.3" ry="3.8" fill="#dcd8dc"/>
<ellipse cx="409.3" cy="308.9" rx="2.7" ry="2.4" fill="#dcd8dc"/>
<ellipse cx="477.9" cy="277.1" rx="4.4" ry="4.2" fill="#dcd8dc"/>
<ellipse cx="462.0" cy="290.1" rx="6.0" ry="6.6" fill="#dcd8dc"/>
<ellipse cx="499.3" cy="258.8" rx="2.7" ry="2.8" fill="#dcd8dc"/>
<ellipse cx="474.7" cy="299.9" rx="3.3" ry="3.2" fill="#dcd8dc"/>
<ellipse cx="487.8" cy="302.7" rx="2.2" ry="3.8" fill="#dcd8dc"/>
<ellipse cx="500.4" cy="288.4" rx="3.8" ry="2.8" fill="#dcd8dc"/>
<ellipse cx="487.8" cy="280.2" rx="2.2" ry="2.2" fill="#dcd8dc"/>
<ellipse cx="187.1" cy="220.10000000000002" rx="3.6" ry="3.2" fill="#a8609e" opacity="0.7"/>
<ellipse cx="196" cy="222.0" rx="3.6" ry="3.2" fill="#a8609e" opacity="0.7"/>
<ellipse cx="165.8" cy="233.3" rx="3.6" ry="3.2" fill="#a8609e" opacity="0.7"/>
<ellipse cx="252.5" cy="244.0" rx="3.6" ry="3.2" fill="#a8609e" opacity="0.7"/>
<ellipse cx="233.7" cy="289.3" rx="3.6" ry="3.2" fill="#a8609e" opacity="0.7"/>
<ellipse cx="272.9" cy="219.3" rx="3.6" ry="3.2" fill="#a8609e" opacity="0.7"/>
<ellipse cx="321.4" cy="221.10000000000002" rx="3.6" ry="3.2" fill="#a8609e" opacity="0.7"/>
<ellipse cx="283.7" cy="233.5" rx="3.6" ry="3.2" fill="#a8609e" opacity="0.7"/>
<ellipse cx="360.4" cy="227.3" rx="3.6" ry="3.2" fill="#a8609e" opacity="0.7"/>
<ellipse cx="361" cy="236.8" rx="3.6" ry="3.2" fill="#a8609e" opacity="0.7"/>
<ellipse cx="348.9" cy="251.60000000000002" rx="3.6" ry="3.2" fill="#a8609e" opacity="0.7"/>
<ellipse cx="414.5" cy="206.60000000000002" rx="3.6" ry="3.2" fill="#a8609e" opacity="0.7"/>
<ellipse cx="435.2" cy="220.60000000000002" rx="3.6" ry="3.2" fill="#a8609e" opacity="0.7"/>
<ellipse cx="458.1" cy="220.60000000000002" rx="3.6" ry="3.2" fill="#a8609e" opacity="0.7"/>
<ellipse cx="494.4" cy="215.20000000000002" rx="3.6" ry="3.2" fill="#a8609e" opacity="0.7"/>
<ellipse cx="445.4" cy="236.8" rx="3.6" ry="3.2" fill="#a8609e" opacity="0.7"/>
<ellipse cx="418.5" cy="257.5" rx="3.6" ry="3.2" fill="#a8609e" opacity="0.7"/>
<ellipse cx="448.7" cy="256.4" rx="3.6" ry="3.2" fill="#a8609e" opacity="0.7"/>
<ellipse cx="469.7" cy="272.6" rx="3.6" ry="3.2" fill="#a8609e" opacity="0.7"/>
<ellipse cx="484.5" cy="271.0" rx="3.6" ry="3.2" fill="#a8609e" opacity="0.7"/>
<ellipse cx="455.4" cy="296.0" rx="3.6" ry="3.2" fill="#a8609e" opacity="0.7"/>
<ellipse cx="446.8" cy="302.7" rx="3.6" ry="3.2" fill="#a8609e" opacity="0.7"/>
<ellipse cx="411" cy="300.0" rx="3.6" ry="3.2" fill="#a8609e" opacity="0.7"/>
<ellipse cx="416.3" cy="301.40000000000003" rx="3.6" ry="3.2" fill="#a8609e" opacity="0.7"/>
<circle cx="187.1" cy="219.3" r="1.3" fill="#f5e000"/>
<circle cx="196" cy="221.2" r="1.3" fill="#f5e000"/>
<circle cx="165.8" cy="232.5" r="1.3" fill="#f5e000"/>
<circle cx="252.5" cy="243.2" r="1.3" fill="#f5e000"/>
<circle cx="233.7" cy="288.5" r="1.3" fill="#f5e000"/>
<circle cx="272.9" cy="218.5" r="1.3" fill="#f5e000"/>
<circle cx="321.4" cy="220.3" r="1.3" fill="#f5e000"/>
<circle cx="283.7" cy="232.7" r="1.3" fill="#f5e000"/>
<circle cx="360.4" cy="226.5" r="1.3" fill="#f5e000"/>
<circle cx="361" cy="236" r="1.3" fill="#f5e000"/>
<circle cx="348.9" cy="250.8" r="1.3" fill="#f5e000"/>
<circle cx="414.5" cy="205.8" r="1.3" fill="#f5e000"/>
<circle cx="435.2" cy="219.8" r="1.3" fill="#f5e000"/>
<circle cx="458.1" cy="219.8" r="1.3" fill="#f5e000"/>
<circle cx="494.4" cy="214.4" r="1.3" fill="#f5e000"/>
<circle cx="445.4" cy="236" r="1.3" fill="#f5e000"/>
<circle cx="418.5" cy="256.7" r="1.3" fill="#f5e000"/>
<circle cx="448.7" cy="255.6" r="1.3" fill="#f5e000"/>
<circle cx="469.7" cy="271.8" r="1.3" fill="#f5e000"/>
<circle cx="484.5" cy="270.2" r="1.3" fill="#f5e000"/>
<circle cx="455.4" cy="295.2" r="1.3" fill="#f5e000"/>
<circle cx="446.8" cy="301.9" r="1.3" fill="#f5e000"/>
<circle cx="411" cy="299.2" r="1.3" fill="#f5e000"/>
<circle cx="416.3" cy="300.6" r="1.3" fill="#f5e000"/>
</g>
<text x="243.6" y="303.4" font-size="8.6" text-anchor="middle" font-weight="bold" fill="#fff" stroke="#fff" stroke-width="0.3" textLength="22" lengthAdjust="spacingAndGlyphs">50μm</text>
<line x1="235" y1="308.3" x2="250.4" y2="308.3" stroke="#fff" stroke-width="1.6"/>
<text x="369.5" y="303.4" font-size="8.6" text-anchor="middle" font-weight="bold" fill="#fff" stroke="#fff" stroke-width="0.3" textLength="22" lengthAdjust="spacingAndGlyphs">50μm</text>
<line x1="361" y1="308.3" x2="376.4" y2="308.3" stroke="#fff" stroke-width="1.6"/>
<text x="499.8" y="303.4" font-size="8.6" text-anchor="middle" font-weight="bold" fill="#fff" stroke="#fff" stroke-width="0.3" textLength="22" lengthAdjust="spacingAndGlyphs">50μm</text>
<line x1="492.7" y1="308.3" x2="508.09999999999997" y2="308.3" stroke="#fff" stroke-width="1.6"/>
<text x="32.0" y="358.1" font-size="9.5" text-anchor="start" font-weight="bold" fill="#111" stroke="#111" stroke-width="0.3">i</text>
<text x="316.5" y="340.8" font-size="9.5" text-anchor="middle" font-weight="bold" fill="#111" stroke="#111" stroke-width="0.3" textLength="60.7" lengthAdjust="spacingAndGlyphs">Bone Marrow</text>
<text x="190.4" y="361.6" font-size="9.5" text-anchor="middle" font-weight="bold" fill="#111" stroke="#111" stroke-width="0.3" textLength="84.9" lengthAdjust="spacingAndGlyphs">Biological Process</text>
<text x="448" y="361.6" font-size="9.5" text-anchor="middle" font-weight="bold" fill="#111" stroke="#111" stroke-width="0.3" textLength="45.6" lengthAdjust="spacingAndGlyphs">Reactome</text>
<line x1="164.5" y1="366" x2="164.5" y2="452.6" stroke="#1a1a1a" stroke-width="1.3"/>
<rect x="164.5" y="371.0" width="52.80000000000001" height="5.6" fill="#124d85"/>
<line x1="160.3" y1="373.8" x2="164.5" y2="373.8" stroke="#1a1a1a" stroke-width="1.3"/>
<text x="158" y="375.40000000000003" font-size="7.6" text-anchor="end" fill="#111" stroke="#111" stroke-width="0.18" textLength="106.0" lengthAdjust="spacingAndGlyphs">Positive Regulation of Cell Migration</text>
<rect x="164.5" y="379.1" width="36.69999999999999" height="5.6" fill="#124d85"/>
<line x1="160.3" y1="381.90000000000003" x2="164.5" y2="381.90000000000003" stroke="#1a1a1a" stroke-width="1.3"/>
<text x="158" y="383.50000000000006" font-size="7.6" text-anchor="end" fill="#111" stroke="#111" stroke-width="0.18" textLength="66.8" lengthAdjust="spacingAndGlyphs">Leukocyte Chemotaxis</text>
<rect x="164.5" y="387.2" width="36.099999999999994" height="5.6" fill="#124d85"/>
<line x1="160.3" y1="390.0" x2="164.5" y2="390.0" stroke="#1a1a1a" stroke-width="1.3"/>
<text x="158" y="391.6" font-size="7.6" text-anchor="end" fill="#111" stroke="#111" stroke-width="0.18" textLength="48.0" lengthAdjust="spacingAndGlyphs">Cell Chemotaxis</text>
<rect x="164.5" y="395.3" width="35.099999999999994" height="5.6" fill="#124d85"/>
<line x1="160.3" y1="398.1" x2="164.5" y2="398.1" stroke="#1a1a1a" stroke-width="1.3"/>
<text x="158" y="399.70000000000005" font-size="7.6" text-anchor="end" fill="#111" stroke="#111" stroke-width="0.18" textLength="69.7" lengthAdjust="spacingAndGlyphs">Inflammatory Response</text>
<rect x="164.5" y="403.4" width="33.19999999999999" height="5.6" fill="#124d85"/>
<line x1="160.3" y1="406.2" x2="164.5" y2="406.2" stroke="#1a1a1a" stroke-width="1.3"/>
<text x="158" y="407.8" font-size="7.6" text-anchor="end" fill="#111" stroke="#111" stroke-width="0.18" textLength="112.3" lengthAdjust="spacingAndGlyphs">Positive Regulation of MAPK Cascade</text>
<rect x="164.5" y="411.5" width="32.400000000000006" height="5.6" fill="#124d85"/>
<line x1="160.3" y1="414.3" x2="164.5" y2="414.3" stroke="#1a1a1a" stroke-width="1.3"/>
<text x="158" y="415.90000000000003" font-size="7.6" text-anchor="end" fill="#111" stroke="#111" stroke-width="0.18" textLength="136.5" lengthAdjust="spacingAndGlyphs">Regulation of Smooth Muscle Cell Proliferation</text>
<rect x="164.5" y="419.59999999999997" width="32.19999999999999" height="5.6" fill="#124d85"/>
<line x1="160.3" y1="422.4" x2="164.5" y2="422.4" stroke="#1a1a1a" stroke-width="1.3"/>
<text x="158" y="424.0" font-size="7.6" text-anchor="end" fill="#111" stroke="#111" stroke-width="0.18" textLength="72.3" lengthAdjust="spacingAndGlyphs">Granulocyte Chemotaxis</text>
<rect x="164.5" y="427.7" width="31.30000000000001" height="5.6" fill="#124d85"/>
<line x1="160.3" y1="430.5" x2="164.5" y2="430.5" stroke="#1a1a1a" stroke-width="1.3"/>
<text x="158" y="432.1" font-size="7.6" text-anchor="end" fill="#111" stroke="#111" stroke-width="0.18" textLength="102.3" lengthAdjust="spacingAndGlyphs">Respone to Tumor Necrosis Factor</text>
<rect x="164.5" y="435.8" width="29.900000000000006" height="5.6" fill="#124d85"/>
<line x1="160.3" y1="438.6" x2="164.5" y2="438.6" stroke="#1a1a1a" stroke-width="1.3"/>
<text x="158" y="440.20000000000005" font-size="7.6" text-anchor="end" fill="#111" stroke="#111" stroke-width="0.18" textLength="142.7" lengthAdjust="spacingAndGlyphs">Positive Regulation of ERK1 and ERK2 Cascade</text>
<rect x="164.5" y="443.9" width="28.400000000000006" height="5.6" fill="#124d85"/>
<line x1="160.3" y1="446.7" x2="164.5" y2="446.7" stroke="#1a1a1a" stroke-width="1.3"/>
<text x="158" y="448.3" font-size="7.6" text-anchor="end" fill="#111" stroke="#111" stroke-width="0.18" textLength="101.3" lengthAdjust="spacingAndGlyphs">Positive Regulation of Endocytosis</text>
<line x1="164.0" y1="452.1" x2="228.5" y2="452.1" stroke="#1a1a1a" stroke-width="1.3"/>
<line x1="164.6" y1="452.1" x2="164.6" y2="455.40000000000003" stroke="#1a1a1a" stroke-width="1.3"/>
<text x="164.6" y="463.20000000000005" font-size="7.5" text-anchor="middle" fill="#111" stroke="#111" stroke-width="0.08">0</text>
<line x1="179.8" y1="452.1" x2="179.8" y2="455.40000000000003" stroke="#1a1a1a" stroke-width="1.3"/>
<text x="179.8" y="463.20000000000005" font-size="7.5" text-anchor="middle" fill="#111" stroke="#111" stroke-width="0.08">5</text>
<line x1="195.8" y1="452.1" x2="195.8" y2="455.40000000000003" stroke="#1a1a1a" stroke-width="1.3"/>
<text x="195.8" y="463.20000000000005" font-size="7.5" text-anchor="middle" fill="#111" stroke="#111" stroke-width="0.08">10</text>
<line x1="211.5" y1="452.1" x2="211.5" y2="455.40000000000003" stroke="#1a1a1a" stroke-width="1.3"/>
<text x="211.5" y="463.20000000000005" font-size="7.5" text-anchor="middle" fill="#111" stroke="#111" stroke-width="0.08">15</text>
<line x1="227.5" y1="452.1" x2="227.5" y2="455.40000000000003" stroke="#1a1a1a" stroke-width="1.3"/>
<text x="227.5" y="463.20000000000005" font-size="7.5" text-anchor="middle" fill="#111" stroke="#111" stroke-width="0.08">20</text>
<line x1="168.8" y1="369" x2="168.8" y2="452.1" stroke="#e2142a" stroke-width="1.5" stroke-dasharray="1.5 2.3"/>
<text x="175.2" y="476.3" font-size="8.6" text-anchor="start" font-weight="bold" fill="#111" stroke="#111" stroke-width="0.05" textLength="40.8" lengthAdjust="spacingAndGlyphs">-Log<tspan font-size="6.8" dy="2.2">10</tspan><tspan dy="-2.2"> q Value</tspan></text>
<line x1="418" y1="367.9" x2="418" y2="452.2" stroke="#1a1a1a" stroke-width="1.3"/>
<rect x="418" y="371.0" width="54.89999999999998" height="5.6" fill="#124d85"/>
<line x1="413.8" y1="373.8" x2="418" y2="373.8" stroke="#1a1a1a" stroke-width="1.3"/>
<text x="412" y="375.40000000000003" font-size="7.6" text-anchor="end" fill="#111" stroke="#111" stroke-width="0.18" textLength="150.8" lengthAdjust="spacingAndGlyphs">Regulation of IGF Transport and Uptake by IGFBPs</text>
<rect x="418" y="379.1" width="38.30000000000001" height="5.6" fill="#124d85"/>
<line x1="413.8" y1="381.90000000000003" x2="418" y2="381.90000000000003" stroke="#1a1a1a" stroke-width="1.3"/>
<text x="412" y="383.50000000000006" font-size="7.6" text-anchor="end" fill="#111" stroke="#111" stroke-width="0.18" textLength="119.7" lengthAdjust="spacingAndGlyphs">Post-Translation Protein Phosphorylation</text>
<rect x="418" y="387.2" width="36" height="5.6" fill="#124d85"/>
<line x1="413.8" y1="390.0" x2="418" y2="390.0" stroke="#1a1a1a" stroke-width="1.3"/>
<text x="412" y="391.6" font-size="7.6" text-anchor="end" fill="#111" stroke="#111" stroke-width="0.18" textLength="111.1" lengthAdjust="spacingAndGlyphs">Cytokine Signaling in Immune System</text>
<rect x="418" y="395.3" width="35.10000000000002" height="5.6" fill="#124d85"/>
<line x1="413.8" y1="398.1" x2="418" y2="398.1" stroke="#1a1a1a" stroke-width="1.3"/>
<text x="412" y="399.70000000000005" font-size="7.6" text-anchor="end" fill="#111" stroke="#111" stroke-width="0.18" textLength="40.4" lengthAdjust="spacingAndGlyphs">IL-1 Signaling</text>
<rect x="418" y="403.4" width="33.5" height="5.6" fill="#124d85"/>
<line x1="413.8" y1="406.2" x2="418" y2="406.2" stroke="#1a1a1a" stroke-width="1.3"/>
<text x="412" y="407.8" font-size="7.6" text-anchor="end" fill="#111" stroke="#111" stroke-width="0.18" textLength="73.0" lengthAdjust="spacingAndGlyphs">Neutrophil Degranulation</text>
<rect x="418" y="411.5" width="32.80000000000001" height="5.6" fill="#124d85"/>
<line x1="413.8" y1="414.3" x2="418" y2="414.3" stroke="#1a1a1a" stroke-width="1.3"/>
<text x="412" y="415.90000000000003" font-size="7.6" text-anchor="end" fill="#111" stroke="#111" stroke-width="0.18" textLength="118.9" lengthAdjust="spacingAndGlyphs">Chemokine Receptors Bind Chemokines</text>
<rect x="418" y="419.59999999999997" width="32.19999999999999" height="5.6" fill="#124d85"/>
<line x1="413.8" y1="422.4" x2="418" y2="422.4" stroke="#1a1a1a" stroke-width="1.3"/>
<text x="412" y="424.0" font-size="7.6" text-anchor="end" fill="#111" stroke="#111" stroke-width="0.18" textLength="64.9" lengthAdjust="spacingAndGlyphs">Platelet Degranulation</text>
<rect x="418" y="427.7" width="31.19999999999999" height="5.6" fill="#124d85"/>
<line x1="413.8" y1="430.5" x2="418" y2="430.5" stroke="#1a1a1a" stroke-width="1.3"/>
<text x="412" y="432.1" font-size="7.6" text-anchor="end" fill="#111" stroke="#111" stroke-width="0.18" textLength="43.6" lengthAdjust="spacingAndGlyphs">Il-1 Processing</text>
<rect x="418" y="435.8" width="29.69999999999999" height="5.6" fill="#124d85"/>
<line x1="413.8" y1="438.6" x2="418" y2="438.6" stroke="#1a1a1a" stroke-width="1.3"/>
<text x="412" y="440.20000000000005" font-size="7.6" text-anchor="end" fill="#111" stroke="#111" stroke-width="0.18" textLength="71.5" lengthAdjust="spacingAndGlyphs">Signaling by Interleukins</text>
<rect x="418" y="443.9" width="28.30000000000001" height="5.6" fill="#124d85"/>
<line x1="413.8" y1="446.7" x2="418" y2="446.7" stroke="#1a1a1a" stroke-width="1.3"/>
<text x="412" y="448.3" font-size="7.6" text-anchor="end" fill="#111" stroke="#111" stroke-width="0.18" textLength="63.8" lengthAdjust="spacingAndGlyphs">EPH-Ephrin Signaling</text>
<line x1="417.5" y1="451.7" x2="477.1" y2="451.7" stroke="#1a1a1a" stroke-width="1.3"/>
<line x1="418" y1="451.7" x2="418" y2="455.0" stroke="#1a1a1a" stroke-width="1.3"/>
<text x="418" y="462.8" font-size="7.5" text-anchor="middle" fill="#111" stroke="#111" stroke-width="0.08">0</text>
<line x1="432.9" y1="451.7" x2="432.9" y2="455.0" stroke="#1a1a1a" stroke-width="1.3"/>
<text x="432.9" y="462.8" font-size="7.5" text-anchor="middle" fill="#111" stroke="#111" stroke-width="0.08">2</text>
<line x1="447.3" y1="451.7" x2="447.3" y2="455.0" stroke="#1a1a1a" stroke-width="1.3"/>
<text x="447.3" y="462.8" font-size="7.5" text-anchor="middle" fill="#111" stroke="#111" stroke-width="0.08">4</text>
<line x1="462.3" y1="451.7" x2="462.3" y2="455.0" stroke="#1a1a1a" stroke-width="1.3"/>
<text x="462.3" y="462.8" font-size="7.5" text-anchor="middle" fill="#111" stroke="#111" stroke-width="0.08">6</text>
<line x1="476.7" y1="451.7" x2="476.7" y2="455.0" stroke="#1a1a1a" stroke-width="1.3"/>
<text x="476.7" y="462.8" font-size="7.5" text-anchor="middle" fill="#111" stroke="#111" stroke-width="0.08">8</text>
<line x1="427.1" y1="370.9" x2="427.1" y2="451.7" stroke="#e2142a" stroke-width="1.5" stroke-dasharray="1.5 2.3"/>
<text x="429.6" y="476.3" font-size="8.6" text-anchor="start" font-weight="bold" fill="#111" stroke="#111" stroke-width="0.05" textLength="39.8" lengthAdjust="spacingAndGlyphs">-Log<tspan font-size="6.8" dy="2.2">10</tspan><tspan dy="-2.2"> q Value</tspan></text>
<text x="31.2" y="501.4" font-size="9.5" text-anchor="start" font-weight="bold" fill="#111" stroke="#111" stroke-width="0.3">ii</text>
<text x="196.3" y="515.2" font-size="9.5" text-anchor="middle" font-weight="bold" fill="#111" stroke="#111" stroke-width="0.3" textLength="83.7" lengthAdjust="spacingAndGlyphs">Biological Process</text>
<text x="324.4" y="500.7" font-size="9.5" text-anchor="middle" font-weight="bold" fill="#111" stroke="#111" stroke-width="0.3" textLength="33" lengthAdjust="spacingAndGlyphs">Plasma</text>
<text x="444" y="515.5" font-size="9.5" text-anchor="middle" font-weight="bold" fill="#111" stroke="#111" stroke-width="0.3" textLength="45.7" lengthAdjust="spacingAndGlyphs">Reactome</text>
<line x1="165.8" y1="521.5" x2="165.8" y2="607.7" stroke="#1a1a1a" stroke-width="1.3"/>
<rect x="165.8" y="525.8000000000001" width="53.0" height="5.6" fill="#124d85"/>
<line x1="161.60000000000002" y1="528.6" x2="165.8" y2="528.6" stroke="#1a1a1a" stroke-width="1.3"/>
<text x="159.2" y="530.2" font-size="7.6" text-anchor="end" fill="#111" stroke="#111" stroke-width="0.18" textLength="72.0" lengthAdjust="spacingAndGlyphs">Lymphocyte Chemotaxis</text>
<rect x="165.8" y="533.9000000000001" width="45.0" height="5.6" fill="#124d85"/>
<line x1="161.60000000000002" y1="536.7" x2="165.8" y2="536.7" stroke="#1a1a1a" stroke-width="1.3"/>
<text x="159.2" y="538.3000000000001" font-size="7.6" text-anchor="end" fill="#111" stroke="#111" stroke-width="0.18" textLength="48.0" lengthAdjust="spacingAndGlyphs">Cell Chemotaxis</text>
<rect x="165.8" y="542.0000000000001" width="40.19999999999999" height="5.6" fill="#124d85"/>
<line x1="161.60000000000002" y1="544.8000000000001" x2="165.8" y2="544.8000000000001" stroke="#1a1a1a" stroke-width="1.3"/>
<text x="159.2" y="546.4000000000001" font-size="7.6" text-anchor="end" fill="#111" stroke="#111" stroke-width="0.18" textLength="106.0" lengthAdjust="spacingAndGlyphs">Positive Regulation of Cell Migration</text>
<rect x="165.8" y="550.1" width="37.099999999999994" height="5.6" fill="#124d85"/>
<line x1="161.60000000000002" y1="552.9" x2="165.8" y2="552.9" stroke="#1a1a1a" stroke-width="1.3"/>
<text x="159.2" y="554.5" font-size="7.6" text-anchor="end" fill="#111" stroke="#111" stroke-width="0.18" textLength="118.9" lengthAdjust="spacingAndGlyphs">Chemokine-Mediated Signaling Pathway</text>
<rect x="165.8" y="558.2" width="35.39999999999998" height="5.6" fill="#124d85"/>
<line x1="161.60000000000002" y1="561.0" x2="165.8" y2="561.0" stroke="#1a1a1a" stroke-width="1.3"/>
<text x="159.2" y="562.6" font-size="7.6" text-anchor="end" fill="#111" stroke="#111" stroke-width="0.18" textLength="142.7" lengthAdjust="spacingAndGlyphs">Positive Regulation of ERK1 and ERK2 Cascade</text>
<rect x="165.8" y="566.3000000000001" width="34.39999999999998" height="5.6" fill="#124d85"/>
<line x1="161.60000000000002" y1="569.1" x2="165.8" y2="569.1" stroke="#1a1a1a" stroke-width="1.3"/>
<text x="159.2" y="570.7" font-size="7.6" text-anchor="end" fill="#111" stroke="#111" stroke-width="0.18" textLength="119.6" lengthAdjust="spacingAndGlyphs">Positive Regulation of Cell-Cell Adhesion</text>
<rect x="165.8" y="574.4000000000001" width="34.39999999999998" height="5.6" fill="#124d85"/>
<line x1="161.60000000000002" y1="577.2" x2="165.8" y2="577.2" stroke="#1a1a1a" stroke-width="1.3"/>
<text x="159.2" y="578.8000000000001" font-size="7.6" text-anchor="end" fill="#111" stroke="#111" stroke-width="0.18" textLength="144.5" lengthAdjust="spacingAndGlyphs">Positive Regulation of Protein Complex Assembly</text>
<rect x="165.8" y="582.5000000000001" width="34.0" height="5.6" fill="#124d85"/>
<line x1="161.60000000000002" y1="585.3000000000001" x2="165.8" y2="585.3000000000001" stroke="#1a1a1a" stroke-width="1.3"/>
<text x="159.2" y="586.9000000000001" font-size="7.6" text-anchor="end" fill="#111" stroke="#111" stroke-width="0.18" textLength="69.7" lengthAdjust="spacingAndGlyphs">Inflammatory Response</text>
<rect x="165.8" y="590.6" width="33.0" height="5.6" fill="#124d85"/>
<line x1="161.60000000000002" y1="593.4" x2="165.8" y2="593.4" stroke="#1a1a1a" stroke-width="1.3"/>
<text x="159.2" y="595.0" font-size="7.6" text-anchor="end" fill="#111" stroke="#111" stroke-width="0.18" textLength="59.0" lengthAdjust="spacingAndGlyphs">T-Cell Costimulation</text>
<rect x="165.8" y="598.7" width="31.5" height="5.6" fill="#124d85"/>
<line x1="161.60000000000002" y1="601.5" x2="165.8" y2="601.5" stroke="#1a1a1a" stroke-width="1.3"/>
<text x="159.2" y="603.1" font-size="7.6" text-anchor="end" fill="#111" stroke="#111" stroke-width="0.18" textLength="65.3" lengthAdjust="spacingAndGlyphs">Monocyte Chemotaxis</text>
<line x1="165.3" y1="607.2" x2="229.8" y2="607.2" stroke="#1a1a1a" stroke-width="1.3"/>
<line x1="166" y1="607.2" x2="166" y2="610.5" stroke="#1a1a1a" stroke-width="1.3"/>
<text x="166" y="618.3000000000001" font-size="7.5" text-anchor="middle" fill="#111" stroke="#111" stroke-width="0.08">0</text>
<line x1="181" y1="607.2" x2="181" y2="610.5" stroke="#1a1a1a" stroke-width="1.3"/>
<text x="181" y="618.3000000000001" font-size="7.5" text-anchor="middle" fill="#111" stroke="#111" stroke-width="0.08">2</text>
<line x1="196.2" y1="607.2" x2="196.2" y2="610.5" stroke="#1a1a1a" stroke-width="1.3"/>
<text x="196.2" y="618.3000000000001" font-size="7.5" text-anchor="middle" fill="#111" stroke="#111" stroke-width="0.08">4</text>
<line x1="211.5" y1="607.2" x2="211.5" y2="610.5" stroke="#1a1a1a" stroke-width="1.3"/>
<text x="211.5" y="618.3000000000001" font-size="7.5" text-anchor="middle" fill="#111" stroke="#111" stroke-width="0.08">6</text>
<line x1="226.5" y1="607.2" x2="226.5" y2="610.5" stroke="#1a1a1a" stroke-width="1.3"/>
<text x="226.5" y="618.3000000000001" font-size="7.5" text-anchor="middle" fill="#111" stroke="#111" stroke-width="0.08">8</text>
<line x1="176" y1="524.5" x2="176" y2="607.2" stroke="#e2142a" stroke-width="1.5" stroke-dasharray="1.5 2.3"/>
<text x="177.5" y="632.2" font-size="8.6" text-anchor="start" font-weight="bold" fill="#111" stroke="#111" stroke-width="0.05" textLength="41.3" lengthAdjust="spacingAndGlyphs">-Log<tspan font-size="6.8" dy="2.2">10</tspan><tspan dy="-2.2"> q Value</tspan></text>
<line x1="417.5" y1="522.7" x2="417.5" y2="607.5" stroke="#1a1a1a" stroke-width="1.3"/>
<rect x="417.5" y="534.8" width="47.5" height="24" fill="#124d85"/>
<rect x="417.5" y="571" width="32.10000000000002" height="24.6" fill="#124d85"/>
<line x1="413" y1="546.7" x2="417.5" y2="546.7" stroke="#1a1a1a" stroke-width="1.3"/>
<text x="410.3" y="548.3000000000001" font-size="7.6" text-anchor="end" fill="#111" stroke="#111" stroke-width="0.18" textLength="150.8" lengthAdjust="spacingAndGlyphs">Regulation of IGF Transport and Uptake by IGFBPs</text>
<line x1="413" y1="583.3" x2="417.5" y2="583.3" stroke="#1a1a1a" stroke-width="1.3"/>
<text x="410.3" y="584.9" font-size="7.6" text-anchor="end" fill="#111" stroke="#111" stroke-width="0.18" textLength="97.9" lengthAdjust="spacingAndGlyphs">Intergrin Cell Surface Interactions</text>
<line x1="417.0" y1="607.0" x2="480.8" y2="607.0" stroke="#1a1a1a" stroke-width="1.3"/>
<line x1="417.5" y1="607.0" x2="417.5" y2="610.3" stroke="#1a1a1a" stroke-width="1.3"/>
<text x="417.5" y="618.3" font-size="7.5" text-anchor="middle" fill="#111" stroke="#111" stroke-width="0.08">0</text>
<line x1="440.4" y1="607.0" x2="440.4" y2="610.3" stroke="#1a1a1a" stroke-width="1.3"/>
<text x="440.4" y="618.3" font-size="7.5" text-anchor="middle" fill="#111" stroke="#111" stroke-width="0.08">1</text>
<line x1="463.5" y1="607.0" x2="463.5" y2="610.3" stroke="#1a1a1a" stroke-width="1.3"/>
<text x="463.5" y="618.3" font-size="7.5" text-anchor="middle" fill="#111" stroke="#111" stroke-width="0.08">2</text>
<line x1="447.1" y1="534.5" x2="447.1" y2="607.0" stroke="#e2142a" stroke-width="1.5" stroke-dasharray="1.5 2.3"/>
<text x="428.5" y="632" font-size="8.6" text-anchor="start" font-weight="bold" fill="#111" stroke="#111" stroke-width="0.05" textLength="40.3" lengthAdjust="spacingAndGlyphs">-Log<tspan font-size="6.8" dy="2.2">10</tspan><tspan dy="-2.2"> q Value</tspan></text>
<rect x="0" y="0" width="520" height="642" fill="none" stroke="#000" stroke-width="2.6"/>
</svg></body></html>
